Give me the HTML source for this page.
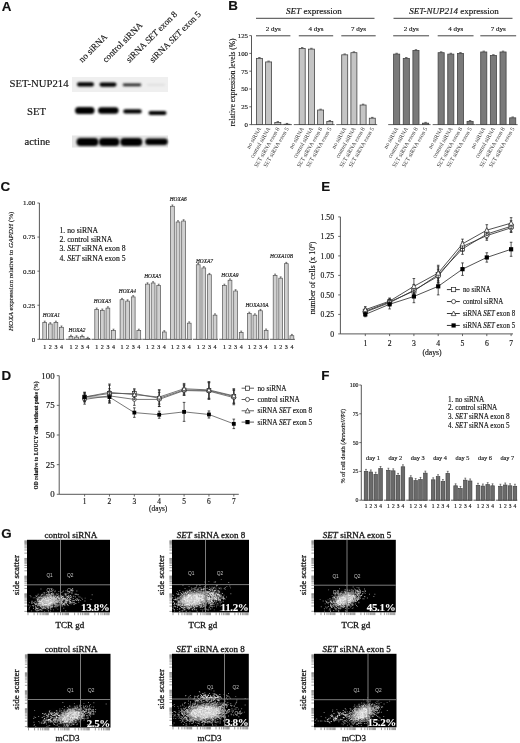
<!DOCTYPE html>
<html><head><meta charset="utf-8"><style>
html,body{margin:0;padding:0;background:#fff;}
svg{display:block;will-change:transform;filter:blur(0.3px);}
text{stroke:#1a1a1a;stroke-width:.15px;}
text.b{stroke-width:.3px;}
text.w{stroke:#fff;stroke-width:.1px;}
text.q{stroke:none;}
</style></head><body>
<svg width="520" height="743" viewBox="0 0 520 743" fill="#111">
<defs>
<filter id="bl" x="-20%" y="-80%" width="140%" height="260%"><feGaussianBlur stdDeviation="0.9"/></filter>
<filter id="cb" x="-50%" y="-50%" width="200%" height="200%"><feGaussianBlur stdDeviation="2.5"/></filter>
<filter id="db" x="-10%" y="-10%" width="120%" height="120%"><feGaussianBlur stdDeviation="0.3"/></filter>
<radialGradient id="cloud"><stop offset="0" stop-color="#e8e8e8"/><stop offset="0.5" stop-color="#b0b0b0" stop-opacity="0.8"/><stop offset="1" stop-color="#606060" stop-opacity="0"/></radialGradient>
</defs>
<rect width="520" height="743" fill="#fff"/>
<text x="1.8" y="11.1" font-size="13.4" text-anchor="start" font-family="Liberation Sans, sans-serif" font-weight="bold">A</text>
<text x="228.3" y="10.4" font-size="13.4" text-anchor="start" font-family="Liberation Sans, sans-serif" font-weight="bold">B</text>
<text x="0.6" y="191.1" font-size="13.4" text-anchor="start" font-family="Liberation Sans, sans-serif" font-weight="bold">C</text>
<text x="1.5" y="380.1" font-size="13.4" text-anchor="start" font-family="Liberation Sans, sans-serif" font-weight="bold">D</text>
<text x="321.3" y="190.5" font-size="13.4" text-anchor="start" font-family="Liberation Sans, sans-serif" font-weight="bold">E</text>
<text x="321.3" y="380.4" font-size="13.4" text-anchor="start" font-family="Liberation Sans, sans-serif" font-weight="bold">F</text>
<text x="1.2" y="538.3" font-size="13.4" text-anchor="start" font-family="Liberation Sans, sans-serif" font-weight="bold">G</text>
<text transform="translate(82.3,63) rotate(-45)" font-size="9" font-family="Liberation Serif, serif">no siRNA</text>
<text transform="translate(105.9,63) rotate(-45)" font-size="9" font-family="Liberation Serif, serif">control siRNA</text>
<text transform="translate(129.5,63) rotate(-45)" font-size="9" font-family="Liberation Serif, serif">siRNA <tspan font-style="italic">SET</tspan> exon 8</text>
<text transform="translate(153.10000000000002,63) rotate(-45)" font-size="9" font-family="Liberation Serif, serif">siRNA <tspan font-style="italic">SET</tspan> exon 5</text>
<text x="9.5" y="87.2" font-size="10.7" text-anchor="start" font-family="Liberation Serif, serif" >SET-NUP214</text>
<text x="27" y="115" font-size="10.7" text-anchor="start" font-family="Liberation Serif, serif" >SET</text>
<text x="24.6" y="145" font-size="10.7" text-anchor="start" font-family="Liberation Serif, serif" >actine</text>
<rect x="72" y="77" width="96" height="15" fill="#efefef"/>
<rect x="72" y="135.5" width="96" height="12" fill="#e4e4e4"/>
<rect x="77.0" y="82.30000000000001" width="17" height="4.2" rx="2.1" fill="#000" filter="url(#bl)"/>
<rect x="99.5" y="82.5" width="17" height="4.2" rx="2.1" fill="#000" filter="url(#bl)"/>
<rect x="122.75" y="83.39999999999999" width="18.5" height="2.8" rx="1.4" fill="#222" filter="url(#bl)"/>
<rect x="147.0" y="83.7" width="18" height="2.2" rx="1.1" fill="#e0e0e0" filter="url(#bl)"/>
<rect x="75.05" y="107.1" width="19.5" height="7" rx="3.5" fill="#000" filter="url(#bl)"/>
<rect x="98.05" y="107.2" width="20.5" height="6.6" rx="3.3" fill="#000" filter="url(#bl)"/>
<rect x="123.25" y="109.30000000000001" width="18.5" height="4.2" rx="2.1" fill="#000" filter="url(#bl)"/>
<rect x="148.5" y="111.0" width="18" height="4" rx="2.0" fill="#000" filter="url(#bl)"/>
<rect x="76.5" y="138.1" width="22" height="7.8" rx="3.9" fill="#000" filter="url(#bl)"/>
<rect x="98.95" y="138.1" width="20.5" height="7.8" rx="3.9" fill="#000" filter="url(#bl)"/>
<rect x="120.30000000000001" y="138.1" width="22" height="7.8" rx="3.9" fill="#000" filter="url(#bl)"/>
<rect x="145.25" y="138.60000000000002" width="22.5" height="6.4" rx="3.2" fill="#000" filter="url(#bl)"/>
<line x1="251.5" y1="35.599999999999994" x2="251.5" y2="124.6" stroke="#444" stroke-width="0.9"/>
<line x1="249.3" y1="124.6" x2="251.5" y2="124.6" stroke="#444" stroke-width="0.8"/>
<text x="248" y="127.0" font-size="6.8" text-anchor="end" font-family="Liberation Serif, serif" >0</text>
<line x1="249.3" y1="106.8" x2="251.5" y2="106.8" stroke="#444" stroke-width="0.8"/>
<text x="248" y="109.2" font-size="6.8" text-anchor="end" font-family="Liberation Serif, serif" >25</text>
<line x1="249.3" y1="89.0" x2="251.5" y2="89.0" stroke="#444" stroke-width="0.8"/>
<text x="248" y="91.4" font-size="6.8" text-anchor="end" font-family="Liberation Serif, serif" >50</text>
<line x1="249.3" y1="71.19999999999999" x2="251.5" y2="71.19999999999999" stroke="#444" stroke-width="0.8"/>
<text x="248" y="73.6" font-size="6.8" text-anchor="end" font-family="Liberation Serif, serif" >75</text>
<line x1="249.3" y1="53.39999999999999" x2="251.5" y2="53.39999999999999" stroke="#444" stroke-width="0.8"/>
<text x="248" y="55.79999999999999" font-size="6.8" text-anchor="end" font-family="Liberation Serif, serif" >100</text>
<line x1="249.3" y1="35.599999999999994" x2="251.5" y2="35.599999999999994" stroke="#444" stroke-width="0.8"/>
<text x="248" y="37.99999999999999" font-size="6.8" text-anchor="end" font-family="Liberation Serif, serif" >125</text>
<text transform="translate(234.5,82.4) rotate(-90)" font-size="7.4" text-anchor="middle" font-family="Liberation Serif, serif">relative expression levels (%)</text>
<text x="314" y="13.5" font-size="9" text-anchor="middle" font-family="Liberation Serif, serif" ><tspan font-style="italic">SET</tspan> expression</text>
<text x="454" y="13.5" font-size="9" text-anchor="middle" font-family="Liberation Serif, serif" ><tspan font-style="italic">SET-NUP214</tspan> expression</text>
<line x1="256" y1="18.3" x2="374.5" y2="18.3" stroke="#444" stroke-width="1"/>
<line x1="393.5" y1="18.3" x2="512.5" y2="18.3" stroke="#444" stroke-width="1"/>
<line x1="256" y1="35.8" x2="290.40000000000003" y2="35.8" stroke="#444" stroke-width="1"/>
<text x="273.20000000000005" y="30.8" font-size="7" text-anchor="middle" font-family="Liberation Serif, serif" >2 dys</text>
<line x1="251" y1="124.6" x2="291.90000000000003" y2="124.6" stroke="#555" stroke-width="0.9"/>
<rect x="256.4" y="58.384" width="6.0" height="66.216" fill="#c4c4c4" stroke="#444" stroke-width="0.8"/>
<line x1="258.2" y1="57.584" x2="260.59999999999997" y2="57.584" stroke="#333" stroke-width="0.8"/>
<text class="q" transform="translate(261.4,128.6) rotate(-60)" font-size="5.9" fill="#333" text-anchor="end" font-family="Liberation Serif, serif">no siRNA</text>
<rect x="265.59999999999997" y="61.943999999999996" width="6.0" height="62.656" fill="#c4c4c4" stroke="#444" stroke-width="0.8"/>
<line x1="267.4" y1="61.144" x2="269.79999999999995" y2="61.144" stroke="#333" stroke-width="0.8"/>
<text class="q" transform="translate(270.59999999999997,128.6) rotate(-60)" font-size="5.9" fill="#333" text-anchor="end" font-family="Liberation Serif, serif">control siRNA</text>
<rect x="274.79999999999995" y="122.464" width="6.0" height="2.1359999999999957" fill="#c4c4c4" stroke="#444" stroke-width="0.8"/>
<line x1="276.59999999999997" y1="121.664" x2="278.99999999999994" y2="121.664" stroke="#333" stroke-width="0.8"/>
<text class="q" transform="translate(279.79999999999995,128.6) rotate(-60)" font-size="5.9" fill="#333" text-anchor="end" font-family="Liberation Serif, serif">SET siRNA exon 8</text>
<rect x="284.0" y="124.244" width="6.0" height="0.35599999999999454" fill="#c4c4c4" stroke="#444" stroke-width="0.8"/>
<line x1="285.8" y1="123.444" x2="288.2" y2="123.444" stroke="#333" stroke-width="0.8"/>
<text class="q" transform="translate(289.0,128.6) rotate(-60)" font-size="5.9" fill="#333" text-anchor="end" font-family="Liberation Serif, serif">SET siRNA exon 5</text>
<line x1="298.8" y1="35.8" x2="333.20000000000005" y2="35.8" stroke="#444" stroke-width="1"/>
<text x="316.0" y="30.8" font-size="7" text-anchor="middle" font-family="Liberation Serif, serif" >4 dys</text>
<line x1="293.8" y1="124.6" x2="334.70000000000005" y2="124.6" stroke="#555" stroke-width="0.9"/>
<rect x="299.2" y="48.416" width="6.0" height="76.184" fill="#c4c4c4" stroke="#444" stroke-width="0.8"/>
<line x1="301.0" y1="47.616" x2="303.4" y2="47.616" stroke="#333" stroke-width="0.8"/>
<text class="q" transform="translate(304.2,128.6) rotate(-60)" font-size="5.9" fill="#333" text-anchor="end" font-family="Liberation Serif, serif">no siRNA</text>
<rect x="308.4" y="49.128" width="6.0" height="75.472" fill="#c4c4c4" stroke="#444" stroke-width="0.8"/>
<line x1="310.2" y1="48.328" x2="312.59999999999997" y2="48.328" stroke="#333" stroke-width="0.8"/>
<text class="q" transform="translate(313.4,128.6) rotate(-60)" font-size="5.9" fill="#333" text-anchor="end" font-family="Liberation Serif, serif">control siRNA</text>
<rect x="317.59999999999997" y="110.00399999999999" width="6.0" height="14.596000000000004" fill="#c4c4c4" stroke="#444" stroke-width="0.8"/>
<line x1="319.4" y1="109.204" x2="321.79999999999995" y2="109.204" stroke="#333" stroke-width="0.8"/>
<text class="q" transform="translate(322.59999999999997,128.6) rotate(-60)" font-size="5.9" fill="#333" text-anchor="end" font-family="Liberation Serif, serif">SET siRNA exon 8</text>
<rect x="326.8" y="121.396" width="6.0" height="3.2039999999999935" fill="#c4c4c4" stroke="#444" stroke-width="0.8"/>
<line x1="328.6" y1="120.596" x2="331.0" y2="120.596" stroke="#333" stroke-width="0.8"/>
<text class="q" transform="translate(331.8,128.6) rotate(-60)" font-size="5.9" fill="#333" text-anchor="end" font-family="Liberation Serif, serif">SET siRNA exon 5</text>
<line x1="341.3" y1="35.8" x2="375.70000000000005" y2="35.8" stroke="#444" stroke-width="1"/>
<text x="358.5" y="30.8" font-size="7" text-anchor="middle" font-family="Liberation Serif, serif" >7 dys</text>
<line x1="336.3" y1="124.6" x2="377.20000000000005" y2="124.6" stroke="#555" stroke-width="0.9"/>
<rect x="341.7" y="54.824" width="6.0" height="69.776" fill="#c4c4c4" stroke="#444" stroke-width="0.8"/>
<line x1="343.5" y1="54.024" x2="345.9" y2="54.024" stroke="#333" stroke-width="0.8"/>
<text class="q" transform="translate(346.7,128.6) rotate(-60)" font-size="5.9" fill="#333" text-anchor="end" font-family="Liberation Serif, serif">no siRNA</text>
<rect x="350.9" y="52.688" width="6.0" height="71.91199999999999" fill="#c4c4c4" stroke="#444" stroke-width="0.8"/>
<line x1="352.7" y1="51.888000000000005" x2="355.09999999999997" y2="51.888000000000005" stroke="#333" stroke-width="0.8"/>
<text class="q" transform="translate(355.9,128.6) rotate(-60)" font-size="5.9" fill="#333" text-anchor="end" font-family="Liberation Serif, serif">control siRNA</text>
<rect x="360.09999999999997" y="105.02" width="6.0" height="19.58" fill="#c4c4c4" stroke="#444" stroke-width="0.8"/>
<line x1="361.9" y1="104.22" x2="364.29999999999995" y2="104.22" stroke="#333" stroke-width="0.8"/>
<text class="q" transform="translate(365.09999999999997,128.6) rotate(-60)" font-size="5.9" fill="#333" text-anchor="end" font-family="Liberation Serif, serif">SET siRNA exon 8</text>
<rect x="369.3" y="118.192" width="6.0" height="6.408000000000001" fill="#c4c4c4" stroke="#444" stroke-width="0.8"/>
<line x1="371.1" y1="117.392" x2="373.5" y2="117.392" stroke="#333" stroke-width="0.8"/>
<text class="q" transform="translate(374.3,128.6) rotate(-60)" font-size="5.9" fill="#333" text-anchor="end" font-family="Liberation Serif, serif">SET siRNA exon 5</text>
<line x1="393.2" y1="35.8" x2="429.04999999999995" y2="35.8" stroke="#444" stroke-width="1"/>
<text x="411.125" y="30.8" font-size="7" text-anchor="middle" font-family="Liberation Serif, serif" >2 dys</text>
<line x1="388.2" y1="124.6" x2="430.54999999999995" y2="124.6" stroke="#555" stroke-width="0.9"/>
<rect x="393.59999999999997" y="54.111999999999995" width="6.1000000000000005" height="70.488" fill="#7a7a7a" stroke="#444" stroke-width="0.8"/>
<line x1="395.45" y1="53.312" x2="397.84999999999997" y2="53.312" stroke="#333" stroke-width="0.8"/>
<text class="q" transform="translate(398.65,128.6) rotate(-60)" font-size="5.9" fill="#333" text-anchor="end" font-family="Liberation Serif, serif">no siRNA</text>
<rect x="403.24999999999994" y="58.384" width="6.1000000000000005" height="66.216" fill="#7a7a7a" stroke="#444" stroke-width="0.8"/>
<line x1="405.09999999999997" y1="57.584" x2="407.49999999999994" y2="57.584" stroke="#333" stroke-width="0.8"/>
<text class="q" transform="translate(408.29999999999995,128.6) rotate(-60)" font-size="5.9" fill="#333" text-anchor="end" font-family="Liberation Serif, serif">control siRNA</text>
<rect x="412.9" y="50.55199999999999" width="6.1000000000000005" height="74.048" fill="#7a7a7a" stroke="#444" stroke-width="0.8"/>
<line x1="414.75" y1="49.751999999999995" x2="417.15" y2="49.751999999999995" stroke="#333" stroke-width="0.8"/>
<text class="q" transform="translate(417.95,128.6) rotate(-60)" font-size="5.9" fill="#333" text-anchor="end" font-family="Liberation Serif, serif">SET siRNA exon 8</text>
<rect x="422.54999999999995" y="123.17599999999999" width="6.1000000000000005" height="1.4240000000000066" fill="#7a7a7a" stroke="#444" stroke-width="0.8"/>
<line x1="424.4" y1="122.37599999999999" x2="426.79999999999995" y2="122.37599999999999" stroke="#333" stroke-width="0.8"/>
<text class="q" transform="translate(427.59999999999997,128.6) rotate(-60)" font-size="5.9" fill="#333" text-anchor="end" font-family="Liberation Serif, serif">SET siRNA exon 5</text>
<line x1="437.7" y1="35.8" x2="473.54999999999995" y2="35.8" stroke="#444" stroke-width="1"/>
<text x="455.625" y="30.8" font-size="7" text-anchor="middle" font-family="Liberation Serif, serif" >4 dys</text>
<line x1="432.7" y1="124.6" x2="475.04999999999995" y2="124.6" stroke="#555" stroke-width="0.9"/>
<rect x="438.09999999999997" y="52.688" width="6.1000000000000005" height="71.91199999999999" fill="#7a7a7a" stroke="#444" stroke-width="0.8"/>
<line x1="439.95" y1="51.888000000000005" x2="442.34999999999997" y2="51.888000000000005" stroke="#333" stroke-width="0.8"/>
<text class="q" transform="translate(443.15,128.6) rotate(-60)" font-size="5.9" fill="#333" text-anchor="end" font-family="Liberation Serif, serif">no siRNA</text>
<rect x="447.74999999999994" y="54.111999999999995" width="6.1000000000000005" height="70.488" fill="#7a7a7a" stroke="#444" stroke-width="0.8"/>
<line x1="449.59999999999997" y1="53.312" x2="451.99999999999994" y2="53.312" stroke="#333" stroke-width="0.8"/>
<text class="q" transform="translate(452.79999999999995,128.6) rotate(-60)" font-size="5.9" fill="#333" text-anchor="end" font-family="Liberation Serif, serif">control siRNA</text>
<rect x="457.4" y="53.39999999999999" width="6.1000000000000005" height="71.2" fill="#7a7a7a" stroke="#444" stroke-width="0.8"/>
<line x1="459.25" y1="52.599999999999994" x2="461.65" y2="52.599999999999994" stroke="#333" stroke-width="0.8"/>
<text class="q" transform="translate(462.45,128.6) rotate(-60)" font-size="5.9" fill="#333" text-anchor="end" font-family="Liberation Serif, serif">SET siRNA exon 8</text>
<rect x="467.04999999999995" y="121.396" width="6.1000000000000005" height="3.2039999999999935" fill="#7a7a7a" stroke="#444" stroke-width="0.8"/>
<line x1="468.9" y1="120.596" x2="471.29999999999995" y2="120.596" stroke="#333" stroke-width="0.8"/>
<text class="q" transform="translate(472.09999999999997,128.6) rotate(-60)" font-size="5.9" fill="#333" text-anchor="end" font-family="Liberation Serif, serif">SET siRNA exon 5</text>
<line x1="480.3" y1="35.8" x2="516.15" y2="35.8" stroke="#444" stroke-width="1"/>
<text x="498.225" y="30.8" font-size="7" text-anchor="middle" font-family="Liberation Serif, serif" >7 dys</text>
<line x1="475.3" y1="124.6" x2="517.65" y2="124.6" stroke="#555" stroke-width="0.9"/>
<rect x="480.7" y="51.976" width="6.1000000000000005" height="72.624" fill="#7a7a7a" stroke="#444" stroke-width="0.8"/>
<line x1="482.55" y1="51.176" x2="484.95" y2="51.176" stroke="#333" stroke-width="0.8"/>
<text class="q" transform="translate(485.75,128.6) rotate(-60)" font-size="5.9" fill="#333" text-anchor="end" font-family="Liberation Serif, serif">no siRNA</text>
<rect x="490.34999999999997" y="55.536" width="6.1000000000000005" height="69.064" fill="#7a7a7a" stroke="#444" stroke-width="0.8"/>
<line x1="492.2" y1="54.736000000000004" x2="494.59999999999997" y2="54.736000000000004" stroke="#333" stroke-width="0.8"/>
<text class="q" transform="translate(495.4,128.6) rotate(-60)" font-size="5.9" fill="#333" text-anchor="end" font-family="Liberation Serif, serif">control siRNA</text>
<rect x="500.0" y="51.976" width="6.1000000000000005" height="72.624" fill="#7a7a7a" stroke="#444" stroke-width="0.8"/>
<line x1="501.85" y1="51.176" x2="504.25" y2="51.176" stroke="#333" stroke-width="0.8"/>
<text class="q" transform="translate(505.05,128.6) rotate(-60)" font-size="5.9" fill="#333" text-anchor="end" font-family="Liberation Serif, serif">SET siRNA exon 8</text>
<rect x="509.65" y="117.836" width="6.1000000000000005" height="6.763999999999996" fill="#7a7a7a" stroke="#444" stroke-width="0.8"/>
<line x1="511.50000000000006" y1="117.036" x2="513.9000000000001" y2="117.036" stroke="#333" stroke-width="0.8"/>
<text class="q" transform="translate(514.7,128.6) rotate(-60)" font-size="5.9" fill="#333" text-anchor="end" font-family="Liberation Serif, serif">SET siRNA exon 5</text>
<line x1="39.4" y1="203.0" x2="39.4" y2="339.3" stroke="#444" stroke-width="0.9"/>
<line x1="37.4" y1="339.3" x2="39.4" y2="339.3" stroke="#444" stroke-width="0.8"/>
<text x="35.3" y="341.7" font-size="7" text-anchor="end" font-family="Liberation Serif, serif" >0</text>
<line x1="37.4" y1="305.225" x2="39.4" y2="305.225" stroke="#444" stroke-width="0.8"/>
<text x="35.3" y="307.625" font-size="7" text-anchor="end" font-family="Liberation Serif, serif" >0.25</text>
<line x1="37.4" y1="271.15" x2="39.4" y2="271.15" stroke="#444" stroke-width="0.8"/>
<text x="35.3" y="273.54999999999995" font-size="7" text-anchor="end" font-family="Liberation Serif, serif" >0.50</text>
<line x1="37.4" y1="237.075" x2="39.4" y2="237.075" stroke="#444" stroke-width="0.8"/>
<text x="35.3" y="239.475" font-size="7" text-anchor="end" font-family="Liberation Serif, serif" >0.75</text>
<line x1="37.4" y1="203.0" x2="39.4" y2="203.0" stroke="#444" stroke-width="0.8"/>
<text x="35.3" y="205.4" font-size="7" text-anchor="end" font-family="Liberation Serif, serif" >1.00</text>
<text transform="translate(12.5,271.3) rotate(-90)" font-size="7.1" text-anchor="middle" font-family="Liberation Serif, serif"><tspan font-style="italic">HOXA</tspan> expression relative to <tspan font-style="italic">GAPDH</tspan> (%)</text>
<text x="59.5" y="233.0" font-size="7.7" text-anchor="start" font-family="Liberation Serif, serif" >1. no siRNA</text>
<text x="59.5" y="242.23" font-size="7.7" text-anchor="start" font-family="Liberation Serif, serif" >2. control siRNA</text>
<text x="59.5" y="251.46" font-size="7.7" text-anchor="start" font-family="Liberation Serif, serif" >3. <tspan font-style="italic">SET</tspan> siRNA exon 8</text>
<text x="59.5" y="260.69" font-size="7.7" text-anchor="start" font-family="Liberation Serif, serif" >4. <tspan font-style="italic">SET</tspan> siRNA exon 5</text>
<line x1="39.4" y1="339.3" x2="64.5" y2="339.3" stroke="#444" stroke-width="0.9"/>
<rect x="42.8" y="322.464" width="3.8" height="16.836000000000013" fill="#d0d0d0" stroke="#555" stroke-width="0.7"/>
<line x1="44.7" y1="322.464" x2="44.7" y2="321.164" stroke="#333" stroke-width="0.6"/>
<line x1="43.75" y1="321.164" x2="45.65" y2="321.164" stroke="#333" stroke-width="0.6"/>
<text x="44.7" y="348.5" font-size="6" text-anchor="middle" font-family="Liberation Serif, serif" >1</text>
<rect x="48.4" y="323.982" width="3.8" height="15.317999999999984" fill="#d0d0d0" stroke="#555" stroke-width="0.7"/>
<line x1="50.300000000000004" y1="323.982" x2="50.300000000000004" y2="322.682" stroke="#333" stroke-width="0.6"/>
<line x1="49.35" y1="322.682" x2="51.25" y2="322.682" stroke="#333" stroke-width="0.6"/>
<text x="50.300000000000004" y="348.5" font-size="6" text-anchor="middle" font-family="Liberation Serif, serif" >2</text>
<rect x="54.0" y="322.464" width="3.8" height="16.836000000000013" fill="#d0d0d0" stroke="#555" stroke-width="0.7"/>
<line x1="55.900000000000006" y1="322.464" x2="55.900000000000006" y2="321.164" stroke="#333" stroke-width="0.6"/>
<line x1="54.95" y1="321.164" x2="56.85" y2="321.164" stroke="#333" stroke-width="0.6"/>
<text x="55.900000000000006" y="348.5" font-size="6" text-anchor="middle" font-family="Liberation Serif, serif" >3</text>
<rect x="59.599999999999994" y="327.29400000000004" width="3.8" height="12.005999999999972" fill="#d0d0d0" stroke="#555" stroke-width="0.7"/>
<line x1="61.5" y1="327.29400000000004" x2="61.5" y2="325.994" stroke="#333" stroke-width="0.6"/>
<line x1="60.55" y1="325.994" x2="62.449999999999996" y2="325.994" stroke="#333" stroke-width="0.6"/>
<text x="61.5" y="348.5" font-size="6" text-anchor="middle" font-family="Liberation Serif, serif" >4</text>
<text x="42.8" y="316.5" font-size="5.4" text-anchor="start" font-family="Liberation Serif, serif" font-style="italic">HOXA1</text>
<line x1="65.75" y1="339.3" x2="90.75" y2="339.3" stroke="#444" stroke-width="0.9"/>
<rect x="69.05" y="336.54" width="3.8" height="2.759999999999991" fill="#d0d0d0" stroke="#555" stroke-width="0.7"/>
<line x1="70.95" y1="336.54" x2="70.95" y2="335.24" stroke="#333" stroke-width="0.6"/>
<line x1="70.0" y1="335.24" x2="71.9" y2="335.24" stroke="#333" stroke-width="0.6"/>
<text x="70.95" y="348.5" font-size="6" text-anchor="middle" font-family="Liberation Serif, serif" >1</text>
<rect x="74.64999999999999" y="337.092" width="3.8" height="2.208000000000027" fill="#d0d0d0" stroke="#555" stroke-width="0.7"/>
<line x1="76.55" y1="337.092" x2="76.55" y2="335.792" stroke="#333" stroke-width="0.6"/>
<line x1="75.6" y1="335.792" x2="77.5" y2="335.792" stroke="#333" stroke-width="0.6"/>
<text x="76.55" y="348.5" font-size="6" text-anchor="middle" font-family="Liberation Serif, serif" >2</text>
<rect x="80.25" y="336.54" width="3.8" height="2.759999999999991" fill="#d0d0d0" stroke="#555" stroke-width="0.7"/>
<line x1="82.15" y1="336.54" x2="82.15" y2="335.24" stroke="#333" stroke-width="0.6"/>
<line x1="81.2" y1="335.24" x2="83.10000000000001" y2="335.24" stroke="#333" stroke-width="0.6"/>
<text x="82.15" y="348.5" font-size="6" text-anchor="middle" font-family="Liberation Serif, serif" >3</text>
<rect x="85.85" y="338.61" width="3.8" height="0.6899999999999977" fill="#d0d0d0" stroke="#555" stroke-width="0.7"/>
<line x1="87.75" y1="338.61" x2="87.75" y2="337.31" stroke="#333" stroke-width="0.6"/>
<line x1="86.8" y1="337.31" x2="88.7" y2="337.31" stroke="#333" stroke-width="0.6"/>
<text x="87.75" y="348.5" font-size="6" text-anchor="middle" font-family="Liberation Serif, serif" >4</text>
<text x="68.5" y="331.9" font-size="5.4" text-anchor="start" font-family="Liberation Serif, serif" font-style="italic">HOXA2</text>
<line x1="91.5" y1="339.3" x2="116.5" y2="339.3" stroke="#444" stroke-width="0.9"/>
<rect x="94.8" y="309.354" width="3.8" height="29.946000000000026" fill="#d0d0d0" stroke="#555" stroke-width="0.7"/>
<line x1="96.7" y1="309.354" x2="96.7" y2="308.054" stroke="#333" stroke-width="0.6"/>
<line x1="95.75" y1="308.054" x2="97.65" y2="308.054" stroke="#333" stroke-width="0.6"/>
<text x="96.7" y="348.5" font-size="6" text-anchor="middle" font-family="Liberation Serif, serif" >1</text>
<rect x="100.39999999999999" y="310.32" width="3.8" height="28.980000000000018" fill="#d0d0d0" stroke="#555" stroke-width="0.7"/>
<line x1="102.3" y1="310.32" x2="102.3" y2="309.02" stroke="#333" stroke-width="0.6"/>
<line x1="101.35" y1="309.02" x2="103.25" y2="309.02" stroke="#333" stroke-width="0.6"/>
<text x="102.3" y="348.5" font-size="6" text-anchor="middle" font-family="Liberation Serif, serif" >2</text>
<rect x="106.0" y="308.112" width="3.8" height="31.187999999999988" fill="#d0d0d0" stroke="#555" stroke-width="0.7"/>
<line x1="107.9" y1="308.112" x2="107.9" y2="306.812" stroke="#333" stroke-width="0.6"/>
<line x1="106.95" y1="306.812" x2="108.85000000000001" y2="306.812" stroke="#333" stroke-width="0.6"/>
<text x="107.9" y="348.5" font-size="6" text-anchor="middle" font-family="Liberation Serif, serif" >3</text>
<rect x="111.6" y="330.468" width="3.8" height="8.831999999999994" fill="#d0d0d0" stroke="#555" stroke-width="0.7"/>
<line x1="113.5" y1="330.468" x2="113.5" y2="329.168" stroke="#333" stroke-width="0.6"/>
<line x1="112.55" y1="329.168" x2="114.45" y2="329.168" stroke="#333" stroke-width="0.6"/>
<text x="113.5" y="348.5" font-size="6" text-anchor="middle" font-family="Liberation Serif, serif" >4</text>
<text x="93.8" y="302.7" font-size="5.4" text-anchor="start" font-family="Liberation Serif, serif" font-style="italic">HOXA3</text>
<line x1="116.8" y1="339.3" x2="141.8" y2="339.3" stroke="#444" stroke-width="0.9"/>
<rect x="120.1" y="299.694" width="3.8" height="39.605999999999995" fill="#d0d0d0" stroke="#555" stroke-width="0.7"/>
<line x1="122.0" y1="299.694" x2="122.0" y2="298.394" stroke="#333" stroke-width="0.6"/>
<line x1="121.05" y1="298.394" x2="122.95" y2="298.394" stroke="#333" stroke-width="0.6"/>
<text x="122.0" y="348.5" font-size="6" text-anchor="middle" font-family="Liberation Serif, serif" >1</text>
<rect x="125.69999999999999" y="301.074" width="3.8" height="38.226" fill="#d0d0d0" stroke="#555" stroke-width="0.7"/>
<line x1="127.6" y1="301.074" x2="127.6" y2="299.774" stroke="#333" stroke-width="0.6"/>
<line x1="126.64999999999999" y1="299.774" x2="128.54999999999998" y2="299.774" stroke="#333" stroke-width="0.6"/>
<text x="127.6" y="348.5" font-size="6" text-anchor="middle" font-family="Liberation Serif, serif" >2</text>
<rect x="131.3" y="296.934" width="3.8" height="42.365999999999985" fill="#d0d0d0" stroke="#555" stroke-width="0.7"/>
<line x1="133.2" y1="296.934" x2="133.2" y2="295.634" stroke="#333" stroke-width="0.6"/>
<line x1="132.25" y1="295.634" x2="134.15" y2="295.634" stroke="#333" stroke-width="0.6"/>
<text x="133.2" y="348.5" font-size="6" text-anchor="middle" font-family="Liberation Serif, serif" >3</text>
<rect x="136.9" y="330.468" width="3.8" height="8.831999999999994" fill="#d0d0d0" stroke="#555" stroke-width="0.7"/>
<line x1="138.79999999999998" y1="330.468" x2="138.79999999999998" y2="329.168" stroke="#333" stroke-width="0.6"/>
<line x1="137.85" y1="329.168" x2="139.75" y2="329.168" stroke="#333" stroke-width="0.6"/>
<text x="138.79999999999998" y="348.5" font-size="6" text-anchor="middle" font-family="Liberation Serif, serif" >4</text>
<text x="118.8" y="293.2" font-size="5.4" text-anchor="start" font-family="Liberation Serif, serif" font-style="italic">HOXA4</text>
<line x1="142.3" y1="339.3" x2="167.3" y2="339.3" stroke="#444" stroke-width="0.9"/>
<rect x="145.60000000000002" y="284.1" width="3.8" height="55.19999999999999" fill="#d0d0d0" stroke="#555" stroke-width="0.7"/>
<line x1="147.5" y1="284.1" x2="147.5" y2="282.8" stroke="#333" stroke-width="0.6"/>
<line x1="146.55" y1="282.8" x2="148.45000000000002" y2="282.8" stroke="#333" stroke-width="0.6"/>
<text x="147.5" y="348.5" font-size="6" text-anchor="middle" font-family="Liberation Serif, serif" >1</text>
<rect x="151.20000000000002" y="282.99600000000004" width="3.8" height="56.303999999999974" fill="#d0d0d0" stroke="#555" stroke-width="0.7"/>
<line x1="153.1" y1="282.99600000000004" x2="153.1" y2="281.696" stroke="#333" stroke-width="0.6"/>
<line x1="152.15" y1="281.696" x2="154.05" y2="281.696" stroke="#333" stroke-width="0.6"/>
<text x="153.1" y="348.5" font-size="6" text-anchor="middle" font-family="Liberation Serif, serif" >2</text>
<rect x="156.8" y="285.48" width="3.8" height="53.81999999999999" fill="#d0d0d0" stroke="#555" stroke-width="0.7"/>
<line x1="158.7" y1="285.48" x2="158.7" y2="284.18" stroke="#333" stroke-width="0.6"/>
<line x1="157.75" y1="284.18" x2="159.65" y2="284.18" stroke="#333" stroke-width="0.6"/>
<text x="158.7" y="348.5" font-size="6" text-anchor="middle" font-family="Liberation Serif, serif" >3</text>
<rect x="162.40000000000003" y="331.986" width="3.8" height="7.314000000000021" fill="#d0d0d0" stroke="#555" stroke-width="0.7"/>
<line x1="164.3" y1="331.986" x2="164.3" y2="330.686" stroke="#333" stroke-width="0.6"/>
<line x1="163.35000000000002" y1="330.686" x2="165.25000000000003" y2="330.686" stroke="#333" stroke-width="0.6"/>
<text x="164.3" y="348.5" font-size="6" text-anchor="middle" font-family="Liberation Serif, serif" >4</text>
<text x="144.2" y="277.5" font-size="5.4" text-anchor="start" font-family="Liberation Serif, serif" font-style="italic">HOXA5</text>
<line x1="167.2" y1="339.3" x2="192.2" y2="339.3" stroke="#444" stroke-width="0.9"/>
<rect x="170.5" y="206.26800000000003" width="3.8" height="133.03199999999998" fill="#d0d0d0" stroke="#555" stroke-width="0.7"/>
<line x1="172.39999999999998" y1="206.26800000000003" x2="172.39999999999998" y2="204.96800000000002" stroke="#333" stroke-width="0.6"/>
<line x1="171.45" y1="204.96800000000002" x2="173.35" y2="204.96800000000002" stroke="#333" stroke-width="0.6"/>
<text x="172.39999999999998" y="348.5" font-size="6" text-anchor="middle" font-family="Liberation Serif, serif" >1</text>
<rect x="176.1" y="222.0" width="3.8" height="117.30000000000001" fill="#d0d0d0" stroke="#555" stroke-width="0.7"/>
<line x1="177.99999999999997" y1="222.0" x2="177.99999999999997" y2="220.7" stroke="#333" stroke-width="0.6"/>
<line x1="177.04999999999998" y1="220.7" x2="178.95" y2="220.7" stroke="#333" stroke-width="0.6"/>
<text x="177.99999999999997" y="348.5" font-size="6" text-anchor="middle" font-family="Liberation Serif, serif" >2</text>
<rect x="181.7" y="221.03400000000002" width="3.8" height="118.26599999999999" fill="#d0d0d0" stroke="#555" stroke-width="0.7"/>
<line x1="183.59999999999997" y1="221.03400000000002" x2="183.59999999999997" y2="219.734" stroke="#333" stroke-width="0.6"/>
<line x1="182.64999999999998" y1="219.734" x2="184.54999999999998" y2="219.734" stroke="#333" stroke-width="0.6"/>
<text x="183.59999999999997" y="348.5" font-size="6" text-anchor="middle" font-family="Liberation Serif, serif" >3</text>
<rect x="187.3" y="323.154" width="3.8" height="16.146000000000015" fill="#d0d0d0" stroke="#555" stroke-width="0.7"/>
<line x1="189.2" y1="323.154" x2="189.2" y2="321.854" stroke="#333" stroke-width="0.6"/>
<line x1="188.25" y1="321.854" x2="190.15" y2="321.854" stroke="#333" stroke-width="0.6"/>
<text x="189.2" y="348.5" font-size="6" text-anchor="middle" font-family="Liberation Serif, serif" >4</text>
<text x="169.7" y="200.70000000000002" font-size="5.4" text-anchor="start" font-family="Liberation Serif, serif" font-style="italic">HOXA6</text>
<line x1="193" y1="339.3" x2="218" y2="339.3" stroke="#444" stroke-width="0.9"/>
<rect x="196.3" y="264.78" width="3.8" height="74.52000000000004" fill="#d0d0d0" stroke="#555" stroke-width="0.7"/>
<line x1="198.2" y1="264.78" x2="198.2" y2="263.47999999999996" stroke="#333" stroke-width="0.6"/>
<line x1="197.25" y1="263.47999999999996" x2="199.15" y2="263.47999999999996" stroke="#333" stroke-width="0.6"/>
<text x="198.2" y="348.5" font-size="6" text-anchor="middle" font-family="Liberation Serif, serif" >1</text>
<rect x="201.9" y="267.954" width="3.8" height="71.346" fill="#d0d0d0" stroke="#555" stroke-width="0.7"/>
<line x1="203.79999999999998" y1="267.954" x2="203.79999999999998" y2="266.654" stroke="#333" stroke-width="0.6"/>
<line x1="202.85" y1="266.654" x2="204.75" y2="266.654" stroke="#333" stroke-width="0.6"/>
<text x="203.79999999999998" y="348.5" font-size="6" text-anchor="middle" font-family="Liberation Serif, serif" >2</text>
<rect x="207.5" y="274.716" width="3.8" height="64.584" fill="#d0d0d0" stroke="#555" stroke-width="0.7"/>
<line x1="209.39999999999998" y1="274.716" x2="209.39999999999998" y2="273.416" stroke="#333" stroke-width="0.6"/>
<line x1="208.45" y1="273.416" x2="210.35" y2="273.416" stroke="#333" stroke-width="0.6"/>
<text x="209.39999999999998" y="348.5" font-size="6" text-anchor="middle" font-family="Liberation Serif, serif" >3</text>
<rect x="213.10000000000002" y="315.15000000000003" width="3.8" height="24.149999999999977" fill="#d0d0d0" stroke="#555" stroke-width="0.7"/>
<line x1="215.0" y1="315.15000000000003" x2="215.0" y2="313.85" stroke="#333" stroke-width="0.6"/>
<line x1="214.05" y1="313.85" x2="215.95000000000002" y2="313.85" stroke="#333" stroke-width="0.6"/>
<text x="215.0" y="348.5" font-size="6" text-anchor="middle" font-family="Liberation Serif, serif" >4</text>
<text x="195.9" y="262.59999999999997" font-size="5.4" text-anchor="start" font-family="Liberation Serif, serif" font-style="italic">HOXA7</text>
<line x1="219.2" y1="339.3" x2="244.2" y2="339.3" stroke="#444" stroke-width="0.9"/>
<rect x="222.5" y="285.48" width="3.8" height="53.81999999999999" fill="#d0d0d0" stroke="#555" stroke-width="0.7"/>
<line x1="224.39999999999998" y1="285.48" x2="224.39999999999998" y2="284.18" stroke="#333" stroke-width="0.6"/>
<line x1="223.45" y1="284.18" x2="225.35" y2="284.18" stroke="#333" stroke-width="0.6"/>
<text x="224.39999999999998" y="348.5" font-size="6" text-anchor="middle" font-family="Liberation Serif, serif" >1</text>
<rect x="228.1" y="280.236" width="3.8" height="59.06400000000002" fill="#d0d0d0" stroke="#555" stroke-width="0.7"/>
<line x1="229.99999999999997" y1="280.236" x2="229.99999999999997" y2="278.936" stroke="#333" stroke-width="0.6"/>
<line x1="229.04999999999998" y1="278.936" x2="230.95" y2="278.936" stroke="#333" stroke-width="0.6"/>
<text x="229.99999999999997" y="348.5" font-size="6" text-anchor="middle" font-family="Liberation Serif, serif" >2</text>
<rect x="233.7" y="291.0" width="3.8" height="48.30000000000001" fill="#d0d0d0" stroke="#555" stroke-width="0.7"/>
<line x1="235.59999999999997" y1="291.0" x2="235.59999999999997" y2="289.7" stroke="#333" stroke-width="0.6"/>
<line x1="234.64999999999998" y1="289.7" x2="236.54999999999998" y2="289.7" stroke="#333" stroke-width="0.6"/>
<text x="235.59999999999997" y="348.5" font-size="6" text-anchor="middle" font-family="Liberation Serif, serif" >3</text>
<rect x="239.3" y="332.40000000000003" width="3.8" height="6.899999999999977" fill="#d0d0d0" stroke="#555" stroke-width="0.7"/>
<line x1="241.2" y1="332.40000000000003" x2="241.2" y2="331.1" stroke="#333" stroke-width="0.6"/>
<line x1="240.25" y1="331.1" x2="242.15" y2="331.1" stroke="#333" stroke-width="0.6"/>
<text x="241.2" y="348.5" font-size="6" text-anchor="middle" font-family="Liberation Serif, serif" >4</text>
<text x="221.3" y="276.7" font-size="5.4" text-anchor="start" font-family="Liberation Serif, serif" font-style="italic">HOXA9</text>
<line x1="244.1" y1="339.3" x2="269.1" y2="339.3" stroke="#444" stroke-width="0.9"/>
<rect x="247.4" y="313.494" width="3.8" height="25.805999999999983" fill="#d0d0d0" stroke="#555" stroke-width="0.7"/>
<line x1="249.29999999999998" y1="313.494" x2="249.29999999999998" y2="312.194" stroke="#333" stroke-width="0.6"/>
<line x1="248.35" y1="312.194" x2="250.25" y2="312.194" stroke="#333" stroke-width="0.6"/>
<text x="249.29999999999998" y="348.5" font-size="6" text-anchor="middle" font-family="Liberation Serif, serif" >1</text>
<rect x="253.0" y="315.15000000000003" width="3.8" height="24.149999999999977" fill="#d0d0d0" stroke="#555" stroke-width="0.7"/>
<line x1="254.89999999999998" y1="315.15000000000003" x2="254.89999999999998" y2="313.85" stroke="#333" stroke-width="0.6"/>
<line x1="253.95" y1="313.85" x2="255.85" y2="313.85" stroke="#333" stroke-width="0.6"/>
<text x="254.89999999999998" y="348.5" font-size="6" text-anchor="middle" font-family="Liberation Serif, serif" >2</text>
<rect x="258.6" y="310.73400000000004" width="3.8" height="28.565999999999974" fill="#d0d0d0" stroke="#555" stroke-width="0.7"/>
<line x1="260.5" y1="310.73400000000004" x2="260.5" y2="309.434" stroke="#333" stroke-width="0.6"/>
<line x1="259.55" y1="309.434" x2="261.45" y2="309.434" stroke="#333" stroke-width="0.6"/>
<text x="260.5" y="348.5" font-size="6" text-anchor="middle" font-family="Liberation Serif, serif" >3</text>
<rect x="264.2" y="330.33" width="3.8" height="8.970000000000027" fill="#d0d0d0" stroke="#555" stroke-width="0.7"/>
<line x1="266.09999999999997" y1="330.33" x2="266.09999999999997" y2="329.03" stroke="#333" stroke-width="0.6"/>
<line x1="265.15" y1="329.03" x2="267.04999999999995" y2="329.03" stroke="#333" stroke-width="0.6"/>
<text x="266.09999999999997" y="348.5" font-size="6" text-anchor="middle" font-family="Liberation Serif, serif" >4</text>
<text x="245.4" y="307.0" font-size="5.4" text-anchor="start" font-family="Liberation Serif, serif" font-style="italic">HOXA10A</text>
<line x1="269.9" y1="339.3" x2="294.9" y2="339.3" stroke="#444" stroke-width="0.9"/>
<rect x="273.2" y="275.406" width="3.8" height="63.894000000000005" fill="#d0d0d0" stroke="#555" stroke-width="0.7"/>
<line x1="275.09999999999997" y1="275.406" x2="275.09999999999997" y2="274.106" stroke="#333" stroke-width="0.6"/>
<line x1="274.15" y1="274.106" x2="276.04999999999995" y2="274.106" stroke="#333" stroke-width="0.6"/>
<text x="275.09999999999997" y="348.5" font-size="6" text-anchor="middle" font-family="Liberation Serif, serif" >1</text>
<rect x="278.8" y="278.166" width="3.8" height="61.134000000000015" fill="#d0d0d0" stroke="#555" stroke-width="0.7"/>
<line x1="280.7" y1="278.166" x2="280.7" y2="276.866" stroke="#333" stroke-width="0.6"/>
<line x1="279.75" y1="276.866" x2="281.65" y2="276.866" stroke="#333" stroke-width="0.6"/>
<text x="280.7" y="348.5" font-size="6" text-anchor="middle" font-family="Liberation Serif, serif" >2</text>
<rect x="284.4" y="263.676" width="3.8" height="75.62400000000002" fill="#d0d0d0" stroke="#555" stroke-width="0.7"/>
<line x1="286.29999999999995" y1="263.676" x2="286.29999999999995" y2="262.376" stroke="#333" stroke-width="0.6"/>
<line x1="285.34999999999997" y1="262.376" x2="287.24999999999994" y2="262.376" stroke="#333" stroke-width="0.6"/>
<text x="286.29999999999995" y="348.5" font-size="6" text-anchor="middle" font-family="Liberation Serif, serif" >3</text>
<rect x="290.0" y="335.712" width="3.8" height="3.5880000000000223" fill="#d0d0d0" stroke="#555" stroke-width="0.7"/>
<line x1="291.9" y1="335.712" x2="291.9" y2="334.412" stroke="#333" stroke-width="0.6"/>
<line x1="290.95" y1="334.412" x2="292.84999999999997" y2="334.412" stroke="#333" stroke-width="0.6"/>
<text x="291.9" y="348.5" font-size="6" text-anchor="middle" font-family="Liberation Serif, serif" >4</text>
<text x="270" y="257.7" font-size="5.4" text-anchor="start" font-family="Liberation Serif, serif" font-style="italic">HOXA10B</text>
<line x1="340.4" y1="216.89999999999998" x2="340.4" y2="333.9" stroke="#444" stroke-width="0.9"/>
<line x1="340.4" y1="333.9" x2="513" y2="333.9" stroke="#444" stroke-width="0.9"/>
<line x1="338.2" y1="333.9" x2="340.4" y2="333.9" stroke="#444" stroke-width="0.8"/>
<text x="334" y="336.5" font-size="7.7" text-anchor="end" font-family="Liberation Serif, serif" >0</text>
<line x1="338.2" y1="314.4" x2="340.4" y2="314.4" stroke="#444" stroke-width="0.8"/>
<text x="334" y="317.0" font-size="7.7" text-anchor="end" font-family="Liberation Serif, serif" >0.25</text>
<line x1="338.2" y1="294.9" x2="340.4" y2="294.9" stroke="#444" stroke-width="0.8"/>
<text x="334" y="297.5" font-size="7.7" text-anchor="end" font-family="Liberation Serif, serif" >0.50</text>
<line x1="338.2" y1="275.4" x2="340.4" y2="275.4" stroke="#444" stroke-width="0.8"/>
<text x="334" y="278.0" font-size="7.7" text-anchor="end" font-family="Liberation Serif, serif" >0.75</text>
<line x1="338.2" y1="255.89999999999998" x2="340.4" y2="255.89999999999998" stroke="#444" stroke-width="0.8"/>
<text x="334" y="258.5" font-size="7.7" text-anchor="end" font-family="Liberation Serif, serif" >1.00</text>
<line x1="338.2" y1="236.39999999999998" x2="340.4" y2="236.39999999999998" stroke="#444" stroke-width="0.8"/>
<text x="334" y="238.99999999999997" font-size="7.7" text-anchor="end" font-family="Liberation Serif, serif" >1.25</text>
<line x1="338.2" y1="216.89999999999998" x2="340.4" y2="216.89999999999998" stroke="#444" stroke-width="0.8"/>
<text x="334" y="219.49999999999997" font-size="7.7" text-anchor="end" font-family="Liberation Serif, serif" >1.50</text>
<line x1="365.3" y1="333.9" x2="365.3" y2="336.09999999999997" stroke="#444" stroke-width="0.8"/>
<text x="365.3" y="345.6" font-size="7.7" text-anchor="middle" font-family="Liberation Serif, serif" >1</text>
<line x1="389.6" y1="333.9" x2="389.6" y2="336.09999999999997" stroke="#444" stroke-width="0.8"/>
<text x="389.6" y="345.6" font-size="7.7" text-anchor="middle" font-family="Liberation Serif, serif" >2</text>
<line x1="413.90000000000003" y1="333.9" x2="413.90000000000003" y2="336.09999999999997" stroke="#444" stroke-width="0.8"/>
<text x="413.90000000000003" y="345.6" font-size="7.7" text-anchor="middle" font-family="Liberation Serif, serif" >3</text>
<line x1="438.20000000000005" y1="333.9" x2="438.20000000000005" y2="336.09999999999997" stroke="#444" stroke-width="0.8"/>
<text x="438.20000000000005" y="345.6" font-size="7.7" text-anchor="middle" font-family="Liberation Serif, serif" >4</text>
<line x1="462.5" y1="333.9" x2="462.5" y2="336.09999999999997" stroke="#444" stroke-width="0.8"/>
<text x="462.5" y="345.6" font-size="7.7" text-anchor="middle" font-family="Liberation Serif, serif" >5</text>
<line x1="486.8" y1="333.9" x2="486.8" y2="336.09999999999997" stroke="#444" stroke-width="0.8"/>
<text x="486.8" y="345.6" font-size="7.7" text-anchor="middle" font-family="Liberation Serif, serif" >6</text>
<line x1="511.1" y1="333.9" x2="511.1" y2="336.09999999999997" stroke="#444" stroke-width="0.8"/>
<text x="511.1" y="345.6" font-size="7.7" text-anchor="middle" font-family="Liberation Serif, serif" >7</text>
<text x="432" y="355" font-size="7.7" text-anchor="middle" font-family="Liberation Serif, serif" >(days)</text>
<text transform="translate(314.5,278) rotate(-90)" font-size="7.9" text-anchor="middle" font-family="Liberation Serif, serif">number of cells (x 10<tspan font-size="5" dy="-3">6</tspan><tspan dy="3">)</tspan></text>
<polyline points="365.3,311.28 389.6,301.91999999999996 413.90000000000003,291.0 438.20000000000005,274.62 462.5,248.87999999999997 486.8,234.05999999999997 511.1,226.26" fill="none" stroke="#333" stroke-width="0.85"/>
<path d="M365.3 308.15999999999997V314.4M364.0 308.15999999999997H366.6M364.0 314.4H366.6" stroke="#222" stroke-width="0.75" fill="none"/>
<path d="M389.6 298.79999999999995V305.03999999999996M388.3 298.79999999999995H390.90000000000003M388.3 305.03999999999996H390.90000000000003" stroke="#222" stroke-width="0.75" fill="none"/>
<path d="M413.90000000000003 284.76V297.23999999999995M412.6 284.76H415.20000000000005M412.6 297.23999999999995H415.20000000000005" stroke="#222" stroke-width="0.75" fill="none"/>
<path d="M438.20000000000005 266.82V282.41999999999996M436.90000000000003 266.82H439.50000000000006M436.90000000000003 282.41999999999996H439.50000000000006" stroke="#222" stroke-width="0.75" fill="none"/>
<path d="M462.5 243.41999999999996V254.33999999999997M461.2 243.41999999999996H463.8M461.2 254.33999999999997H463.8" stroke="#222" stroke-width="0.75" fill="none"/>
<path d="M486.8 229.37999999999997V238.73999999999998M485.5 229.37999999999997H488.1M485.5 238.73999999999998H488.1" stroke="#222" stroke-width="0.75" fill="none"/>
<path d="M511.1 220.79999999999998V231.71999999999997M509.8 220.79999999999998H512.4M509.8 231.71999999999997H512.4" stroke="#222" stroke-width="0.75" fill="none"/>
<rect x="363.2" y="309.17999999999995" width="4.2" height="4.2" fill="#fff" stroke="#222" stroke-width="0.7"/>
<rect x="387.5" y="299.81999999999994" width="4.2" height="4.2" fill="#fff" stroke="#222" stroke-width="0.7"/>
<rect x="411.8" y="288.9" width="4.2" height="4.2" fill="#fff" stroke="#222" stroke-width="0.7"/>
<rect x="436.1" y="272.52" width="4.2" height="4.2" fill="#fff" stroke="#222" stroke-width="0.7"/>
<rect x="460.4" y="246.77999999999997" width="4.2" height="4.2" fill="#fff" stroke="#222" stroke-width="0.7"/>
<rect x="484.7" y="231.95999999999998" width="4.2" height="4.2" fill="#fff" stroke="#222" stroke-width="0.7"/>
<rect x="509.0" y="224.16" width="4.2" height="4.2" fill="#fff" stroke="#222" stroke-width="0.7"/>
<polyline points="365.3,312.05999999999995 389.6,302.7 413.90000000000003,290.21999999999997 438.20000000000005,276.17999999999995 462.5,246.53999999999996 486.8,235.61999999999998 511.1,227.81999999999996" fill="none" stroke="#333" stroke-width="0.85"/>
<path d="M365.3 308.94V315.17999999999995M364.0 308.94H366.6M364.0 315.17999999999995H366.6" stroke="#222" stroke-width="0.75" fill="none"/>
<path d="M389.6 299.58V305.82M388.3 299.58H390.90000000000003M388.3 305.82H390.90000000000003" stroke="#222" stroke-width="0.75" fill="none"/>
<path d="M413.90000000000003 284.76V295.67999999999995M412.6 284.76H415.20000000000005M412.6 295.67999999999995H415.20000000000005" stroke="#222" stroke-width="0.75" fill="none"/>
<path d="M438.20000000000005 269.15999999999997V283.2M436.90000000000003 269.15999999999997H439.50000000000006M436.90000000000003 283.2H439.50000000000006" stroke="#222" stroke-width="0.75" fill="none"/>
<path d="M462.5 241.85999999999996V251.21999999999997M461.2 241.85999999999996H463.8M461.2 251.21999999999997H463.8" stroke="#222" stroke-width="0.75" fill="none"/>
<path d="M486.8 230.93999999999997V240.29999999999998M485.5 230.93999999999997H488.1M485.5 240.29999999999998H488.1" stroke="#222" stroke-width="0.75" fill="none"/>
<path d="M511.1 223.14V232.49999999999997M509.8 223.14H512.4M509.8 232.49999999999997H512.4" stroke="#222" stroke-width="0.75" fill="none"/>
<circle cx="365.3" cy="312.05999999999995" r="2.1" fill="#fff" stroke="#222" stroke-width="0.7"/>
<circle cx="389.6" cy="302.7" r="2.1" fill="#fff" stroke="#222" stroke-width="0.7"/>
<circle cx="413.90000000000003" cy="290.21999999999997" r="2.1" fill="#fff" stroke="#222" stroke-width="0.7"/>
<circle cx="438.20000000000005" cy="276.17999999999995" r="2.1" fill="#fff" stroke="#222" stroke-width="0.7"/>
<circle cx="462.5" cy="246.53999999999996" r="2.1" fill="#fff" stroke="#222" stroke-width="0.7"/>
<circle cx="486.8" cy="235.61999999999998" r="2.1" fill="#fff" stroke="#222" stroke-width="0.7"/>
<circle cx="511.1" cy="227.81999999999996" r="2.1" fill="#fff" stroke="#222" stroke-width="0.7"/>
<polyline points="365.3,309.71999999999997 389.6,301.14 413.90000000000003,286.32 438.20000000000005,273.05999999999995 462.5,243.80999999999997 486.8,230.15999999999997 511.1,223.14" fill="none" stroke="#333" stroke-width="0.85"/>
<path d="M365.3 306.59999999999997V312.84M364.0 306.59999999999997H366.6M364.0 312.84H366.6" stroke="#222" stroke-width="0.75" fill="none"/>
<path d="M389.6 298.02V304.26M388.3 298.02H390.90000000000003M388.3 304.26H390.90000000000003" stroke="#222" stroke-width="0.75" fill="none"/>
<path d="M413.90000000000003 278.52V294.12M412.6 278.52H415.20000000000005M412.6 294.12H415.20000000000005" stroke="#222" stroke-width="0.75" fill="none"/>
<path d="M438.20000000000005 265.26V280.85999999999996M436.90000000000003 265.26H439.50000000000006M436.90000000000003 280.85999999999996H439.50000000000006" stroke="#222" stroke-width="0.75" fill="none"/>
<path d="M462.5 239.12999999999997V248.48999999999998M461.2 239.12999999999997H463.8M461.2 248.48999999999998H463.8" stroke="#222" stroke-width="0.75" fill="none"/>
<path d="M486.8 224.69999999999996V235.61999999999998M485.5 224.69999999999996H488.1M485.5 235.61999999999998H488.1" stroke="#222" stroke-width="0.75" fill="none"/>
<path d="M511.1 217.67999999999998V228.6M509.8 217.67999999999998H512.4M509.8 228.6H512.4" stroke="#222" stroke-width="0.75" fill="none"/>
<path d="M365.3 307.21999999999997L367.70000000000005 311.82L362.9 311.82Z" fill="#fff" stroke="#222" stroke-width="0.7"/>
<path d="M389.6 298.64L392.00000000000006 303.24L387.2 303.24Z" fill="#fff" stroke="#222" stroke-width="0.7"/>
<path d="M413.90000000000003 283.82L416.30000000000007 288.42L411.5 288.42Z" fill="#fff" stroke="#222" stroke-width="0.7"/>
<path d="M438.20000000000005 270.55999999999995L440.6000000000001 275.15999999999997L435.8 275.15999999999997Z" fill="#fff" stroke="#222" stroke-width="0.7"/>
<path d="M462.5 241.30999999999997L464.90000000000003 245.90999999999997L460.09999999999997 245.90999999999997Z" fill="#fff" stroke="#222" stroke-width="0.7"/>
<path d="M486.8 227.65999999999997L489.20000000000005 232.25999999999996L484.4 232.25999999999996Z" fill="#fff" stroke="#222" stroke-width="0.7"/>
<path d="M511.1 220.64L513.5 225.23999999999998L508.7 225.23999999999998Z" fill="#fff" stroke="#222" stroke-width="0.7"/>
<polyline points="365.3,314.4 389.6,304.26 413.90000000000003,296.46 438.20000000000005,286.32 462.5,269.15999999999997 486.8,257.46 511.1,249.26999999999998" fill="none" stroke="#333" stroke-width="0.85"/>
<path d="M365.3 312.05999999999995V316.73999999999995M364.0 312.05999999999995H366.6M364.0 316.73999999999995H366.6" stroke="#222" stroke-width="0.75" fill="none"/>
<path d="M389.6 299.58V308.94M388.3 299.58H390.90000000000003M388.3 308.94H390.90000000000003" stroke="#222" stroke-width="0.75" fill="none"/>
<path d="M413.90000000000003 290.21999999999997V302.7M412.6 290.21999999999997H415.20000000000005M412.6 302.7H415.20000000000005" stroke="#222" stroke-width="0.75" fill="none"/>
<path d="M438.20000000000005 277.74V294.9M436.90000000000003 277.74H439.50000000000006M436.90000000000003 294.9H439.50000000000006" stroke="#222" stroke-width="0.75" fill="none"/>
<path d="M462.5 262.91999999999996V275.4M461.2 262.91999999999996H463.8M461.2 275.4H463.8" stroke="#222" stroke-width="0.75" fill="none"/>
<path d="M486.8 252.77999999999997V262.14M485.5 252.77999999999997H488.1M485.5 262.14H488.1" stroke="#222" stroke-width="0.75" fill="none"/>
<path d="M511.1 242.24999999999997V256.28999999999996M509.8 242.24999999999997H512.4M509.8 256.28999999999996H512.4" stroke="#222" stroke-width="0.75" fill="none"/>
<rect x="363.2" y="312.29999999999995" width="4.2" height="4.2" fill="#000"/>
<rect x="387.5" y="302.15999999999997" width="4.2" height="4.2" fill="#000"/>
<rect x="411.8" y="294.35999999999996" width="4.2" height="4.2" fill="#000"/>
<rect x="436.1" y="284.21999999999997" width="4.2" height="4.2" fill="#000"/>
<rect x="460.4" y="267.05999999999995" width="4.2" height="4.2" fill="#000"/>
<rect x="484.7" y="255.35999999999999" width="4.2" height="4.2" fill="#000"/>
<rect x="509.0" y="247.17" width="4.2" height="4.2" fill="#000"/>
<line x1="446.9" y1="289.6" x2="459.8" y2="289.6" stroke="#222" stroke-width="0.9"/>
<rect x="451.5" y="287.5" width="4.2" height="4.2" fill="#fff" stroke="#222" stroke-width="0.7"/>
<text transform="translate(462.9,292.20000000000005) scale(0.92,1)" font-size="7.5" text-anchor="start" font-family="Liberation Serif, serif" >no siRNA</text>
<line x1="446.9" y1="301.55" x2="459.8" y2="301.55" stroke="#222" stroke-width="0.9"/>
<circle cx="453.6" cy="301.55" r="2.1" fill="#fff" stroke="#222" stroke-width="0.7"/>
<text transform="translate(462.9,304.15000000000003) scale(0.92,1)" font-size="7.5" text-anchor="start" font-family="Liberation Serif, serif" >control siRNA</text>
<line x1="446.9" y1="313.5" x2="459.8" y2="313.5" stroke="#222" stroke-width="0.9"/>
<path d="M453.6 311.0L456.00000000000006 315.6L451.2 315.6Z" fill="#fff" stroke="#222" stroke-width="0.7"/>
<text transform="translate(462.9,316.1) scale(0.92,1)" font-size="7.5" text-anchor="start" font-family="Liberation Serif, serif" >siRNA <tspan font-style="italic">SET</tspan> exon 8</text>
<line x1="446.9" y1="325.45000000000005" x2="459.8" y2="325.45000000000005" stroke="#222" stroke-width="0.9"/>
<rect x="451.5" y="323.35" width="4.2" height="4.2" fill="#000"/>
<text transform="translate(462.9,328.05000000000007) scale(0.92,1)" font-size="7.5" text-anchor="start" font-family="Liberation Serif, serif" >siRNA <tspan font-style="italic">SET</tspan> exon 5</text>
<line x1="59.2" y1="375.70000000000005" x2="59.2" y2="494.3" stroke="#444" stroke-width="0.9"/>
<line x1="59.2" y1="494.3" x2="238.8" y2="494.3" stroke="#444" stroke-width="0.9"/>
<line x1="56.8" y1="494.3" x2="59.2" y2="494.3" stroke="#444" stroke-width="0.8"/>
<text x="54.6" y="497.3" font-size="8.9" text-anchor="end" font-family="Liberation Serif, serif" >0</text>
<line x1="56.8" y1="464.65000000000003" x2="59.2" y2="464.65000000000003" stroke="#444" stroke-width="0.8"/>
<text x="54.6" y="467.65000000000003" font-size="8.9" text-anchor="end" font-family="Liberation Serif, serif" >25</text>
<line x1="56.8" y1="435.0" x2="59.2" y2="435.0" stroke="#444" stroke-width="0.8"/>
<text x="54.6" y="438.0" font-size="8.9" text-anchor="end" font-family="Liberation Serif, serif" >50</text>
<line x1="56.8" y1="405.35" x2="59.2" y2="405.35" stroke="#444" stroke-width="0.8"/>
<text x="54.6" y="408.35" font-size="8.9" text-anchor="end" font-family="Liberation Serif, serif" >75</text>
<line x1="56.8" y1="375.70000000000005" x2="59.2" y2="375.70000000000005" stroke="#444" stroke-width="0.8"/>
<text x="54.6" y="378.70000000000005" font-size="8.9" text-anchor="end" font-family="Liberation Serif, serif" >100</text>
<line x1="84.6" y1="494.3" x2="84.6" y2="496.5" stroke="#444" stroke-width="0.8"/>
<text x="84.6" y="503.9" font-size="7.4" text-anchor="middle" font-family="Liberation Serif, serif" >1</text>
<line x1="109.47" y1="494.3" x2="109.47" y2="496.5" stroke="#444" stroke-width="0.8"/>
<text x="109.47" y="503.9" font-size="7.4" text-anchor="middle" font-family="Liberation Serif, serif" >2</text>
<line x1="134.34" y1="494.3" x2="134.34" y2="496.5" stroke="#444" stroke-width="0.8"/>
<text x="134.34" y="503.9" font-size="7.4" text-anchor="middle" font-family="Liberation Serif, serif" >3</text>
<line x1="159.20999999999998" y1="494.3" x2="159.20999999999998" y2="496.5" stroke="#444" stroke-width="0.8"/>
<text x="159.20999999999998" y="503.9" font-size="7.4" text-anchor="middle" font-family="Liberation Serif, serif" >4</text>
<line x1="184.07999999999998" y1="494.3" x2="184.07999999999998" y2="496.5" stroke="#444" stroke-width="0.8"/>
<text x="184.07999999999998" y="503.9" font-size="7.4" text-anchor="middle" font-family="Liberation Serif, serif" >5</text>
<line x1="208.95" y1="494.3" x2="208.95" y2="496.5" stroke="#444" stroke-width="0.8"/>
<text x="208.95" y="503.9" font-size="7.4" text-anchor="middle" font-family="Liberation Serif, serif" >6</text>
<line x1="233.82" y1="494.3" x2="233.82" y2="496.5" stroke="#444" stroke-width="0.8"/>
<text x="233.82" y="503.9" font-size="7.4" text-anchor="middle" font-family="Liberation Serif, serif" >7</text>
<text x="158.2" y="510.6" font-size="7.3" text-anchor="middle" font-family="Liberation Serif, serif" >(days)</text>
<text transform="translate(38.3,435.5) rotate(-90)" font-size="5.45" font-weight="bold" text-anchor="middle" font-family="Liberation Serif, serif">OD relative to LOUCY cells without pulse (%)</text>
<polyline points="84.6,397.048 109.47,393.49 134.34,393.49 159.20999999999998,398.23400000000004 184.07999999999998,389.932 208.95,390.52500000000003 233.82,396.45500000000004" fill="none" stroke="#555" stroke-width="0.8"/>
<path d="M84.6 392.30400000000003V401.79200000000003M83.3 392.30400000000003H85.89999999999999M83.3 401.79200000000003H85.89999999999999" stroke="#222" stroke-width="0.75" fill="none"/>
<path d="M109.47 385.188V401.79200000000003M108.17 385.188H110.77M108.17 401.79200000000003H110.77" stroke="#222" stroke-width="0.75" fill="none"/>
<path d="M134.34 388.746V398.23400000000004M133.04 388.746H135.64000000000001M133.04 398.23400000000004H135.64000000000001" stroke="#222" stroke-width="0.75" fill="none"/>
<path d="M159.20999999999998 389.932V406.536M157.90999999999997 389.932H160.51M157.90999999999997 406.536H160.51" stroke="#222" stroke-width="0.75" fill="none"/>
<path d="M184.07999999999998 384.595V395.269M182.77999999999997 384.595H185.38M182.77999999999997 395.269H185.38" stroke="#222" stroke-width="0.75" fill="none"/>
<path d="M208.95 382.223V398.827M207.64999999999998 382.223H210.25M207.64999999999998 398.827H210.25" stroke="#222" stroke-width="0.75" fill="none"/>
<path d="M233.82 389.339V403.571M232.51999999999998 389.339H235.12M232.51999999999998 403.571H235.12" stroke="#222" stroke-width="0.75" fill="none"/>
<rect x="82.69999999999999" y="395.148" width="3.8" height="3.8" fill="#fff" stroke="#222" stroke-width="0.7"/>
<rect x="107.57" y="391.59000000000003" width="3.8" height="3.8" fill="#fff" stroke="#222" stroke-width="0.7"/>
<rect x="132.44" y="391.59000000000003" width="3.8" height="3.8" fill="#fff" stroke="#222" stroke-width="0.7"/>
<rect x="157.30999999999997" y="396.33400000000006" width="3.8" height="3.8" fill="#fff" stroke="#222" stroke-width="0.7"/>
<rect x="182.17999999999998" y="388.03200000000004" width="3.8" height="3.8" fill="#fff" stroke="#222" stroke-width="0.7"/>
<rect x="207.04999999999998" y="388.62500000000006" width="3.8" height="3.8" fill="#fff" stroke="#222" stroke-width="0.7"/>
<rect x="231.92" y="394.55500000000006" width="3.8" height="3.8" fill="#fff" stroke="#222" stroke-width="0.7"/>
<polyline points="84.6,399.42 109.47,395.862 134.34,399.42 159.20999999999998,399.42 184.07999999999998,390.52500000000003 208.95,391.11800000000005 233.82,397.641" fill="none" stroke="#555" stroke-width="0.8"/>
<path d="M84.6 394.67600000000004V404.164M83.3 394.67600000000004H85.89999999999999M83.3 404.164H85.89999999999999" stroke="#222" stroke-width="0.75" fill="none"/>
<path d="M109.47 388.746V402.978M108.17 388.746H110.77M108.17 402.978H110.77" stroke="#222" stroke-width="0.75" fill="none"/>
<path d="M134.34 393.49V405.35M133.04 393.49H135.64000000000001M133.04 405.35H135.64000000000001" stroke="#222" stroke-width="0.75" fill="none"/>
<path d="M159.20999999999998 392.30400000000003V406.536M157.90999999999997 392.30400000000003H160.51M157.90999999999997 406.536H160.51" stroke="#222" stroke-width="0.75" fill="none"/>
<path d="M184.07999999999998 385.781V395.269M182.77999999999997 385.781H185.38M182.77999999999997 395.269H185.38" stroke="#222" stroke-width="0.75" fill="none"/>
<path d="M208.95 382.81600000000003V399.42M207.64999999999998 382.81600000000003H210.25M207.64999999999998 399.42H210.25" stroke="#222" stroke-width="0.75" fill="none"/>
<path d="M233.82 390.52500000000003V404.757M232.51999999999998 390.52500000000003H235.12M232.51999999999998 404.757H235.12" stroke="#222" stroke-width="0.75" fill="none"/>
<circle cx="84.6" cy="399.42" r="1.9" fill="#fff" stroke="#222" stroke-width="0.7"/>
<circle cx="109.47" cy="395.862" r="1.9" fill="#fff" stroke="#222" stroke-width="0.7"/>
<circle cx="134.34" cy="399.42" r="1.9" fill="#fff" stroke="#222" stroke-width="0.7"/>
<circle cx="159.20999999999998" cy="399.42" r="1.9" fill="#fff" stroke="#222" stroke-width="0.7"/>
<circle cx="184.07999999999998" cy="390.52500000000003" r="1.9" fill="#fff" stroke="#222" stroke-width="0.7"/>
<circle cx="208.95" cy="391.11800000000005" r="1.9" fill="#fff" stroke="#222" stroke-width="0.7"/>
<circle cx="233.82" cy="397.641" r="1.9" fill="#fff" stroke="#222" stroke-width="0.7"/>
<polyline points="84.6,397.048 109.47,392.30400000000003 134.34,394.67600000000004 159.20999999999998,397.048 184.07999999999998,388.746 208.95,389.932 233.82,395.862" fill="none" stroke="#555" stroke-width="0.8"/>
<path d="M84.6 392.30400000000003V401.79200000000003M83.3 392.30400000000003H85.89999999999999M83.3 401.79200000000003H85.89999999999999" stroke="#222" stroke-width="0.75" fill="none"/>
<path d="M109.47 384.002V400.606M108.17 384.002H110.77M108.17 400.606H110.77" stroke="#222" stroke-width="0.75" fill="none"/>
<path d="M134.34 389.932V399.42M133.04 389.932H135.64000000000001M133.04 399.42H135.64000000000001" stroke="#222" stroke-width="0.75" fill="none"/>
<path d="M159.20999999999998 389.932V404.164M157.90999999999997 389.932H160.51M157.90999999999997 404.164H160.51" stroke="#222" stroke-width="0.75" fill="none"/>
<path d="M184.07999999999998 383.409V394.083M182.77999999999997 383.409H185.38M182.77999999999997 394.083H185.38" stroke="#222" stroke-width="0.75" fill="none"/>
<path d="M208.95 381.63V398.23400000000004M207.64999999999998 381.63H210.25M207.64999999999998 398.23400000000004H210.25" stroke="#222" stroke-width="0.75" fill="none"/>
<path d="M233.82 388.746V402.978M232.51999999999998 388.746H235.12M232.51999999999998 402.978H235.12" stroke="#222" stroke-width="0.75" fill="none"/>
<path d="M84.6 394.74800000000005L86.8 398.948L82.39999999999999 398.948Z" fill="#fff" stroke="#222" stroke-width="0.7"/>
<path d="M109.47 390.0040000000001L111.67 394.204L107.27 394.204Z" fill="#fff" stroke="#222" stroke-width="0.7"/>
<path d="M134.34 392.3760000000001L136.54000000000002 396.576L132.14 396.576Z" fill="#fff" stroke="#222" stroke-width="0.7"/>
<path d="M159.20999999999998 394.74800000000005L161.41 398.948L157.00999999999996 398.948Z" fill="#fff" stroke="#222" stroke-width="0.7"/>
<path d="M184.07999999999998 386.446L186.28 390.64599999999996L181.87999999999997 390.64599999999996Z" fill="#fff" stroke="#222" stroke-width="0.7"/>
<path d="M208.95 387.63200000000006L211.15 391.832L206.74999999999997 391.832Z" fill="#fff" stroke="#222" stroke-width="0.7"/>
<path d="M233.82 393.56200000000007L236.02 397.762L231.61999999999998 397.762Z" fill="#fff" stroke="#222" stroke-width="0.7"/>
<polyline points="84.6,397.048 109.47,397.048 134.34,412.5846 159.20999999999998,414.7194 184.07999999999998,411.87300000000005 208.95,414.48220000000003 233.82,423.8516" fill="none" stroke="#555" stroke-width="0.8"/>
<path d="M84.6 393.49V400.606M83.3 393.49H85.89999999999999M83.3 400.606H85.89999999999999" stroke="#222" stroke-width="0.75" fill="none"/>
<path d="M109.47 391.11800000000005V402.978M108.17 391.11800000000005H110.77M108.17 402.978H110.77" stroke="#222" stroke-width="0.75" fill="none"/>
<path d="M134.34 407.8406V417.3286M133.04 407.8406H135.64000000000001M133.04 417.3286H135.64000000000001" stroke="#222" stroke-width="0.75" fill="none"/>
<path d="M159.20999999999998 411.1614V418.27740000000006M157.90999999999997 411.1614H160.51M157.90999999999997 418.27740000000006H160.51" stroke="#222" stroke-width="0.75" fill="none"/>
<path d="M184.07999999999998 402.385V421.361M182.77999999999997 402.385H185.38M182.77999999999997 421.361H185.38" stroke="#222" stroke-width="0.75" fill="none"/>
<path d="M208.95 410.92420000000004V418.0402M207.64999999999998 410.92420000000004H210.25M207.64999999999998 418.0402H210.25" stroke="#222" stroke-width="0.75" fill="none"/>
<path d="M233.82 419.10760000000005V428.5956M232.51999999999998 419.10760000000005H235.12M232.51999999999998 428.5956H235.12" stroke="#222" stroke-width="0.75" fill="none"/>
<rect x="82.69999999999999" y="395.148" width="3.8" height="3.8" fill="#000"/>
<rect x="107.57" y="395.148" width="3.8" height="3.8" fill="#000"/>
<rect x="132.44" y="410.68460000000005" width="3.8" height="3.8" fill="#000"/>
<rect x="157.30999999999997" y="412.81940000000003" width="3.8" height="3.8" fill="#000"/>
<rect x="182.17999999999998" y="409.97300000000007" width="3.8" height="3.8" fill="#000"/>
<rect x="207.04999999999998" y="412.58220000000006" width="3.8" height="3.8" fill="#000"/>
<rect x="231.92" y="421.95160000000004" width="3.8" height="3.8" fill="#000"/>
<line x1="241.6" y1="388.2" x2="254" y2="388.2" stroke="#333" stroke-width="0.8"/>
<rect x="245.4" y="386.09999999999997" width="4.2" height="4.2" fill="#fff" stroke="#222" stroke-width="0.7"/>
<text x="257.5" y="390.7" font-size="7.2" text-anchor="start" font-family="Liberation Serif, serif" >no siRNA</text>
<line x1="241.6" y1="399.5" x2="254" y2="399.5" stroke="#333" stroke-width="0.8"/>
<circle cx="247.5" cy="399.5" r="2.1" fill="#fff" stroke="#222" stroke-width="0.7"/>
<text x="257.5" y="402.0" font-size="7.2" text-anchor="start" font-family="Liberation Serif, serif" >control siRNA</text>
<line x1="241.6" y1="410.8" x2="254" y2="410.8" stroke="#333" stroke-width="0.8"/>
<path d="M247.5 408.3L249.9 412.90000000000003L245.1 412.90000000000003Z" fill="#fff" stroke="#222" stroke-width="0.7"/>
<text x="257.5" y="413.3" font-size="7.2" text-anchor="start" font-family="Liberation Serif, serif" >siRNA <tspan font-style="italic">SET</tspan> exon 8</text>
<line x1="241.6" y1="422.1" x2="254" y2="422.1" stroke="#333" stroke-width="0.8"/>
<rect x="245.4" y="420.0" width="4.2" height="4.2" fill="#000"/>
<text x="257.5" y="424.6" font-size="7.2" text-anchor="start" font-family="Liberation Serif, serif" >siRNA <tspan font-style="italic">SET</tspan> exon 5</text>
<line x1="361.3" y1="385.0" x2="361.3" y2="500.2" stroke="#444" stroke-width="0.9"/>
<line x1="359.3" y1="500.2" x2="361.3" y2="500.2" stroke="#444" stroke-width="0.8"/>
<text x="358.5" y="502.2" font-size="5.8" text-anchor="end" font-family="Liberation Serif, serif" >0</text>
<line x1="359.3" y1="471.4" x2="361.3" y2="471.4" stroke="#444" stroke-width="0.8"/>
<text x="358.5" y="473.4" font-size="5.8" text-anchor="end" font-family="Liberation Serif, serif" >25</text>
<line x1="359.3" y1="442.6" x2="361.3" y2="442.6" stroke="#444" stroke-width="0.8"/>
<text x="358.5" y="444.6" font-size="5.8" text-anchor="end" font-family="Liberation Serif, serif" >50</text>
<line x1="359.3" y1="413.8" x2="361.3" y2="413.8" stroke="#444" stroke-width="0.8"/>
<text x="358.5" y="415.8" font-size="5.8" text-anchor="end" font-family="Liberation Serif, serif" >75</text>
<line x1="359.3" y1="385.0" x2="361.3" y2="385.0" stroke="#444" stroke-width="0.8"/>
<text x="358.5" y="387.0" font-size="5.8" text-anchor="end" font-family="Liberation Serif, serif" >100</text>
<text transform="translate(345,446.3) rotate(-90)" font-size="6.2" text-anchor="middle" font-family="Liberation Serif, serif">% of cell death (<tspan font-style="italic">AnnexinV/PI</tspan>)</text>
<line x1="361.4" y1="500.2" x2="382.9" y2="500.2" stroke="#444" stroke-width="0.9"/>
<rect x="364.2" y="471.4" width="3.6" height="28.80000000000001" fill="#6a6a6a" stroke="#3a3a3a" stroke-width="0.6"/>
<path d="M366.0 471.4V469.4M365.09999999999997 469.4H366.9" stroke="#333" stroke-width="0.6"/>
<text x="366.0" y="508" font-size="5.4" text-anchor="middle" font-family="Liberation Serif, serif" >1</text>
<rect x="369.05" y="471.976" width="3.6" height="28.22399999999999" fill="#6a6a6a" stroke="#3a3a3a" stroke-width="0.6"/>
<path d="M370.85 471.976V469.976M369.95 469.976H371.75" stroke="#333" stroke-width="0.6"/>
<text x="370.85" y="508" font-size="5.4" text-anchor="middle" font-family="Liberation Serif, serif" >2</text>
<rect x="373.9" y="474.28" width="3.6" height="25.920000000000016" fill="#6a6a6a" stroke="#3a3a3a" stroke-width="0.6"/>
<path d="M375.7 474.28V472.28M374.79999999999995 472.28H376.59999999999997" stroke="#333" stroke-width="0.6"/>
<text x="375.7" y="508" font-size="5.4" text-anchor="middle" font-family="Liberation Serif, serif" >3</text>
<rect x="378.75" y="468.52" width="3.6" height="31.680000000000007" fill="#6a6a6a" stroke="#3a3a3a" stroke-width="0.6"/>
<path d="M380.55 468.52V466.52M379.65 466.52H381.45" stroke="#333" stroke-width="0.6"/>
<text x="380.55" y="508" font-size="5.4" text-anchor="middle" font-family="Liberation Serif, serif" >4</text>
<text x="372.9" y="460" font-size="6.3" text-anchor="middle" font-family="Liberation Serif, serif" >day 1</text>
<line x1="383.79999999999995" y1="500.2" x2="405.29999999999995" y2="500.2" stroke="#444" stroke-width="0.9"/>
<rect x="386.59999999999997" y="470.248" width="3.6" height="29.951999999999998" fill="#6a6a6a" stroke="#3a3a3a" stroke-width="0.6"/>
<path d="M388.4 470.248V468.248M387.49999999999994 468.248H389.29999999999995" stroke="#333" stroke-width="0.6"/>
<text x="388.4" y="508" font-size="5.4" text-anchor="middle" font-family="Liberation Serif, serif" >1</text>
<rect x="391.45" y="470.824" width="3.6" height="29.375999999999976" fill="#6a6a6a" stroke="#3a3a3a" stroke-width="0.6"/>
<path d="M393.25 470.824V468.824M392.34999999999997 468.824H394.15" stroke="#333" stroke-width="0.6"/>
<text x="393.25" y="508" font-size="5.4" text-anchor="middle" font-family="Liberation Serif, serif" >2</text>
<rect x="396.29999999999995" y="475.432" width="3.6" height="24.767999999999972" fill="#6a6a6a" stroke="#3a3a3a" stroke-width="0.6"/>
<path d="M398.09999999999997 475.432V473.432M397.19999999999993 473.432H398.99999999999994" stroke="#333" stroke-width="0.6"/>
<text x="398.09999999999997" y="508" font-size="5.4" text-anchor="middle" font-family="Liberation Serif, serif" >3</text>
<rect x="401.15" y="466.792" width="3.6" height="33.408000000000015" fill="#6a6a6a" stroke="#3a3a3a" stroke-width="0.6"/>
<path d="M402.95 466.792V464.792M402.04999999999995 464.792H403.84999999999997" stroke="#333" stroke-width="0.6"/>
<text x="402.95" y="508" font-size="5.4" text-anchor="middle" font-family="Liberation Serif, serif" >4</text>
<text x="395.29999999999995" y="460" font-size="6.3" text-anchor="middle" font-family="Liberation Serif, serif" >day 2</text>
<line x1="406.2" y1="500.2" x2="427.7" y2="500.2" stroke="#444" stroke-width="0.9"/>
<rect x="409.0" y="477.736" width="3.6" height="22.464" fill="#6a6a6a" stroke="#3a3a3a" stroke-width="0.6"/>
<path d="M410.8 477.736V475.736M409.9 475.736H411.7" stroke="#333" stroke-width="0.6"/>
<text x="410.8" y="508" font-size="5.4" text-anchor="middle" font-family="Liberation Serif, serif" >1</text>
<rect x="413.85" y="480.616" width="3.6" height="19.584000000000003" fill="#6a6a6a" stroke="#3a3a3a" stroke-width="0.6"/>
<path d="M415.65000000000003 480.616V478.616M414.75 478.616H416.55" stroke="#333" stroke-width="0.6"/>
<text x="415.65000000000003" y="508" font-size="5.4" text-anchor="middle" font-family="Liberation Serif, serif" >2</text>
<rect x="418.7" y="479.464" width="3.6" height="20.73599999999999" fill="#6a6a6a" stroke="#3a3a3a" stroke-width="0.6"/>
<path d="M420.5 479.464V477.464M419.59999999999997 477.464H421.4" stroke="#333" stroke-width="0.6"/>
<text x="420.5" y="508" font-size="5.4" text-anchor="middle" font-family="Liberation Serif, serif" >3</text>
<rect x="423.55" y="473.128" width="3.6" height="27.072000000000003" fill="#6a6a6a" stroke="#3a3a3a" stroke-width="0.6"/>
<path d="M425.35 473.128V471.128M424.45 471.128H426.25" stroke="#333" stroke-width="0.6"/>
<text x="425.35" y="508" font-size="5.4" text-anchor="middle" font-family="Liberation Serif, serif" >4</text>
<text x="417.7" y="460" font-size="6.3" text-anchor="middle" font-family="Liberation Serif, serif" >day 3</text>
<line x1="428.59999999999997" y1="500.2" x2="450.09999999999997" y2="500.2" stroke="#444" stroke-width="0.9"/>
<rect x="431.4" y="479.8096" width="3.6" height="20.3904" fill="#6a6a6a" stroke="#3a3a3a" stroke-width="0.6"/>
<path d="M433.2 479.8096V477.8096M432.29999999999995 477.8096H434.09999999999997" stroke="#333" stroke-width="0.6"/>
<text x="433.2" y="508" font-size="5.4" text-anchor="middle" font-family="Liberation Serif, serif" >1</text>
<rect x="436.25" y="476.6992" width="3.6" height="23.50079999999997" fill="#6a6a6a" stroke="#3a3a3a" stroke-width="0.6"/>
<path d="M438.05 476.6992V474.6992M437.15 474.6992H438.95" stroke="#333" stroke-width="0.6"/>
<text x="438.05" y="508" font-size="5.4" text-anchor="middle" font-family="Liberation Serif, serif" >2</text>
<rect x="441.09999999999997" y="481.5376" width="3.6" height="18.66239999999999" fill="#6a6a6a" stroke="#3a3a3a" stroke-width="0.6"/>
<path d="M442.9 481.5376V479.5376M441.99999999999994 479.5376H443.79999999999995" stroke="#333" stroke-width="0.6"/>
<text x="442.9" y="508" font-size="5.4" text-anchor="middle" font-family="Liberation Serif, serif" >3</text>
<rect x="445.95" y="473.35839999999996" width="3.6" height="26.841600000000028" fill="#6a6a6a" stroke="#3a3a3a" stroke-width="0.6"/>
<path d="M447.75 473.35839999999996V471.35839999999996M446.84999999999997 471.35839999999996H448.65" stroke="#333" stroke-width="0.6"/>
<text x="447.75" y="508" font-size="5.4" text-anchor="middle" font-family="Liberation Serif, serif" >4</text>
<text x="440.09999999999997" y="460" font-size="6.3" text-anchor="middle" font-family="Liberation Serif, serif" >day 4</text>
<line x1="451.0" y1="500.2" x2="472.5" y2="500.2" stroke="#444" stroke-width="0.9"/>
<rect x="453.8" y="485.8" width="3.6" height="14.399999999999977" fill="#6a6a6a" stroke="#3a3a3a" stroke-width="0.6"/>
<path d="M455.6 485.8V483.8M454.7 483.8H456.5" stroke="#333" stroke-width="0.6"/>
<text x="455.6" y="508" font-size="5.4" text-anchor="middle" font-family="Liberation Serif, serif" >1</text>
<rect x="458.65000000000003" y="488.4496" width="3.6" height="11.750400000000013" fill="#6a6a6a" stroke="#3a3a3a" stroke-width="0.6"/>
<path d="M460.45000000000005 488.4496V486.4496M459.55 486.4496H461.35" stroke="#333" stroke-width="0.6"/>
<text x="460.45000000000005" y="508" font-size="5.4" text-anchor="middle" font-family="Liberation Serif, serif" >2</text>
<rect x="463.5" y="480.1552" width="3.6" height="20.04480000000001" fill="#6a6a6a" stroke="#3a3a3a" stroke-width="0.6"/>
<path d="M465.3 480.1552V478.1552M464.4 478.1552H466.2" stroke="#333" stroke-width="0.6"/>
<text x="465.3" y="508" font-size="5.4" text-anchor="middle" font-family="Liberation Serif, serif" >3</text>
<rect x="468.35" y="480.9616" width="3.6" height="19.238400000000013" fill="#6a6a6a" stroke="#3a3a3a" stroke-width="0.6"/>
<path d="M470.15000000000003 480.9616V478.9616M469.25 478.9616H471.05" stroke="#333" stroke-width="0.6"/>
<text x="470.15000000000003" y="508" font-size="5.4" text-anchor="middle" font-family="Liberation Serif, serif" >4</text>
<text x="462.5" y="460" font-size="6.3" text-anchor="middle" font-family="Liberation Serif, serif" >day 5</text>
<line x1="473.4" y1="500.2" x2="494.9" y2="500.2" stroke="#444" stroke-width="0.9"/>
<rect x="476.2" y="485.3392" width="3.6" height="14.860799999999983" fill="#6a6a6a" stroke="#3a3a3a" stroke-width="0.6"/>
<path d="M478.0 485.3392V483.3392M477.09999999999997 483.3392H478.9" stroke="#333" stroke-width="0.6"/>
<text x="478.0" y="508" font-size="5.4" text-anchor="middle" font-family="Liberation Serif, serif" >1</text>
<rect x="481.05" y="486.0304" width="3.6" height="14.169600000000003" fill="#6a6a6a" stroke="#3a3a3a" stroke-width="0.6"/>
<path d="M482.85 486.0304V484.0304M481.95 484.0304H483.75" stroke="#333" stroke-width="0.6"/>
<text x="482.85" y="508" font-size="5.4" text-anchor="middle" font-family="Liberation Serif, serif" >2</text>
<rect x="485.9" y="484.64799999999997" width="3.6" height="15.552000000000021" fill="#6a6a6a" stroke="#3a3a3a" stroke-width="0.6"/>
<path d="M487.7 484.64799999999997V482.64799999999997M486.79999999999995 482.64799999999997H488.59999999999997" stroke="#333" stroke-width="0.6"/>
<text x="487.7" y="508" font-size="5.4" text-anchor="middle" font-family="Liberation Serif, serif" >3</text>
<rect x="490.75" y="485.8" width="3.6" height="14.399999999999977" fill="#6a6a6a" stroke="#3a3a3a" stroke-width="0.6"/>
<path d="M492.55 485.8V483.8M491.65 483.8H493.45" stroke="#333" stroke-width="0.6"/>
<text x="492.55" y="508" font-size="5.4" text-anchor="middle" font-family="Liberation Serif, serif" >4</text>
<text x="484.9" y="460" font-size="6.3" text-anchor="middle" font-family="Liberation Serif, serif" >day 6</text>
<line x1="495.79999999999995" y1="500.2" x2="517.3" y2="500.2" stroke="#444" stroke-width="0.9"/>
<rect x="498.59999999999997" y="486.2608" width="3.6" height="13.939199999999971" fill="#6a6a6a" stroke="#3a3a3a" stroke-width="0.6"/>
<path d="M500.4 486.2608V484.2608M499.49999999999994 484.2608H501.29999999999995" stroke="#333" stroke-width="0.6"/>
<text x="500.4" y="508" font-size="5.4" text-anchor="middle" font-family="Liberation Serif, serif" >1</text>
<rect x="503.45" y="484.9936" width="3.6" height="15.206399999999974" fill="#6a6a6a" stroke="#3a3a3a" stroke-width="0.6"/>
<path d="M505.25 484.9936V482.9936M504.34999999999997 482.9936H506.15" stroke="#333" stroke-width="0.6"/>
<text x="505.25" y="508" font-size="5.4" text-anchor="middle" font-family="Liberation Serif, serif" >2</text>
<rect x="508.29999999999995" y="485.8" width="3.6" height="14.399999999999977" fill="#6a6a6a" stroke="#3a3a3a" stroke-width="0.6"/>
<path d="M510.09999999999997 485.8V483.8M509.19999999999993 483.8H510.99999999999994" stroke="#333" stroke-width="0.6"/>
<text x="510.09999999999997" y="508" font-size="5.4" text-anchor="middle" font-family="Liberation Serif, serif" >3</text>
<rect x="513.1499999999999" y="486.2608" width="3.6" height="13.939199999999971" fill="#6a6a6a" stroke="#3a3a3a" stroke-width="0.6"/>
<path d="M514.9499999999999 486.2608V484.2608M514.05 484.2608H515.8499999999999" stroke="#333" stroke-width="0.6"/>
<text x="514.9499999999999" y="508" font-size="5.4" text-anchor="middle" font-family="Liberation Serif, serif" >4</text>
<text x="507.29999999999995" y="460" font-size="6.3" text-anchor="middle" font-family="Liberation Serif, serif" >day 7</text>
<text x="448" y="401.6" font-size="7.2" text-anchor="start" font-family="Liberation Serif, serif" >1. no siRNA</text>
<text x="448" y="410.35" font-size="7.2" text-anchor="start" font-family="Liberation Serif, serif" >2. control siRNA</text>
<text x="448" y="419.1" font-size="7.2" text-anchor="start" font-family="Liberation Serif, serif" >3. <tspan font-style="italic">SET</tspan> siRNA exon 8</text>
<text x="448" y="427.85" font-size="7.2" text-anchor="start" font-family="Liberation Serif, serif" >4. <tspan font-style="italic">SET</tspan> siRNA exon 5</text>
<rect x="27" y="539.8" width="83" height="72.60000000000002" fill="#000"/>
<ellipse cx="47" cy="601" rx="9.6" ry="4.8" fill="#d4d4d4" opacity="0.83" filter="url(#cb)" transform="rotate(-15 47 601)"/>
<g filter="url(#db)"><path d="M45.6 603.5h.9v.9h-.9zM39.6 601.0h.9v.9h-.9zM49.8 601.9h.9v.9h-.9zM48.4 598.2h.9v.9h-.9zM41.4 599.4h.9v.9h-.9zM49.6 600.9h.9v.9h-.9zM42.6 598.2h.9v.9h-.9zM39.1 600.8h.9v.9h-.9zM45.3 598.1h.9v.9h-.9zM53.7 602.1h.9v.9h-.9zM51.1 597.4h.9v.9h-.9zM45.3 600.2h.9v.9h-.9zM46.4 605.2h.9v.9h-.9zM49.2 601.4h.9v.9h-.9zM51.6 602.0h.9v.9h-.9zM48.9 599.3h.9v.9h-.9zM50.5 597.5h.9v.9h-.9zM50.3 602.2h.9v.9h-.9zM47.0 601.4h.9v.9h-.9zM45.5 600.2h.9v.9h-.9zM48.8 602.9h.9v.9h-.9zM47.9 604.6h.9v.9h-.9zM53.2 601.6h.9v.9h-.9zM45.2 601.2h.9v.9h-.9zM45.0 604.1h.9v.9h-.9zM53.3 599.9h.9v.9h-.9zM44.0 604.0h.9v.9h-.9zM49.4 603.0h.9v.9h-.9zM47.8 597.2h.9v.9h-.9zM54.5 598.3h.9v.9h-.9zM50.5 601.8h.9v.9h-.9zM48.0 598.6h.9v.9h-.9zM54.1 597.3h.9v.9h-.9zM48.8 598.0h.9v.9h-.9zM46.2 604.2h.9v.9h-.9zM52.6 597.4h.9v.9h-.9zM45.5 601.3h.9v.9h-.9zM47.4 601.2h.9v.9h-.9zM40.2 601.5h.9v.9h-.9zM41.3 601.4h.9v.9h-.9zM43.0 597.8h.9v.9h-.9zM50.0 601.8h.9v.9h-.9zM48.7 598.4h.9v.9h-.9zM50.5 599.7h.9v.9h-.9zM53.3 602.5h.9v.9h-.9zM49.4 601.1h.9v.9h-.9zM44.5 602.4h.9v.9h-.9zM48.5 599.4h.9v.9h-.9zM40.5 603.8h.9v.9h-.9zM48.6 601.7h.9v.9h-.9zM45.3 604.7h.9v.9h-.9zM46.3 601.8h.9v.9h-.9zM41.0 599.4h.9v.9h-.9zM43.2 599.0h.9v.9h-.9zM41.6 603.5h.9v.9h-.9zM53.3 598.5h.9v.9h-.9zM54.6 599.0h.9v.9h-.9zM41.8 602.3h.9v.9h-.9zM45.8 604.2h.9v.9h-.9zM52.8 600.9h.9v.9h-.9zM39.5 603.2h.9v.9h-.9zM43.4 598.9h.9v.9h-.9zM50.6 598.3h.9v.9h-.9zM48.3 600.4h.9v.9h-.9zM47.1 603.8h.9v.9h-.9zM44.7 598.8h.9v.9h-.9zM38.6 603.5h.9v.9h-.9zM52.2 602.5h.9v.9h-.9zM47.2 600.7h.9v.9h-.9zM48.6 598.8h.9v.9h-.9zM42.4 605.2h.9v.9h-.9zM40.3 600.7h.9v.9h-.9zM49.5 597.4h.9v.9h-.9zM47.8 604.0h.9v.9h-.9zM50.7 603.7h.9v.9h-.9zM46.2 599.9h.9v.9h-.9zM46.8 602.3h.9v.9h-.9zM50.4 602.5h.9v.9h-.9zM41.6 602.5h.9v.9h-.9zM48.6 602.3h.9v.9h-.9zM52.2 601.3h.9v.9h-.9zM40.7 604.9h.9v.9h-.9zM50.0 598.0h.9v.9h-.9zM48.1 604.9h.9v.9h-.9zM49.0 600.6h.9v.9h-.9zM54.7 598.9h.9v.9h-.9zM47.4 597.9h.9v.9h-.9zM49.5 601.4h.9v.9h-.9zM39.8 600.9h.9v.9h-.9zM46.0 600.9h.9v.9h-.9zM46.6 601.9h.9v.9h-.9zM42.4 598.4h.9v.9h-.9zM54.1 599.9h.9v.9h-.9zM44.3 599.2h.9v.9h-.9zM53.4 598.6h.9v.9h-.9zM48.4 603.5h.9v.9h-.9zM49.8 603.0h.9v.9h-.9zM43.3 603.8h.9v.9h-.9zM45.2 603.8h.9v.9h-.9zM46.7 600.0h.9v.9h-.9zM42.3 605.0h.9v.9h-.9zM47.4 601.2h.9v.9h-.9zM44.9 602.1h.9v.9h-.9zM51.8 598.2h.9v.9h-.9zM52.1 597.4h.9v.9h-.9zM44.7 598.1h.9v.9h-.9zM54.0 597.9h.9v.9h-.9zM44.6 604.8h.9v.9h-.9zM48.9 604.8h.9v.9h-.9zM44.5 599.9h.9v.9h-.9zM45.9 598.5h.9v.9h-.9zM47.7 603.2h.9v.9h-.9zM40.5 601.0h.9v.9h-.9zM49.5 603.4h.9v.9h-.9zM45.7 603.9h.9v.9h-.9zM51.2 601.2h.9v.9h-.9zM42.1 604.1h.9v.9h-.9zM53.1 598.3h.9v.9h-.9zM42.8 605.5h.9v.9h-.9zM53.0 596.9h.9v.9h-.9zM47.9 601.4h.9v.9h-.9zM41.0 599.9h.9v.9h-.9zM51.5 602.5h.9v.9h-.9zM50.1 599.3h.9v.9h-.9zM44.5 601.8h.9v.9h-.9zM48.5 598.4h.9v.9h-.9zM49.4 604.5h.9v.9h-.9zM48.8 598.2h.9v.9h-.9zM51.7 601.9h.9v.9h-.9zM48.6 599.8h.9v.9h-.9zM46.8 599.9h.9v.9h-.9zM41.8 599.9h.9v.9h-.9zM39.4 600.9h.9v.9h-.9zM44.6 600.4h.9v.9h-.9zM39.4 602.9h.9v.9h-.9zM50.7 598.8h.9v.9h-.9zM49.4 599.7h.9v.9h-.9zM46.6 598.7h.9v.9h-.9zM49.4 599.1h.9v.9h-.9zM40.9 599.6h.9v.9h-.9zM40.1 601.0h.9v.9h-.9zM42.7 603.1h.9v.9h-.9zM51.4 600.3h.9v.9h-.9zM51.3 602.0h.9v.9h-.9zM47.6 600.9h.9v.9h-.9zM53.3 601.7h.9v.9h-.9zM47.5 596.7h.9v.9h-.9zM48.7 599.8h.9v.9h-.9zM47.1 600.3h.9v.9h-.9zM48.3 598.3h.9v.9h-.9zM46.6 602.4h.9v.9h-.9zM45.4 596.9h.9v.9h-.9zM38.8 601.7h.9v.9h-.9zM40.9 602.2h.9v.9h-.9zM52.1 599.0h.9v.9h-.9zM53.1 599.7h.9v.9h-.9zM51.3 596.4h.9v.9h-.9zM40.6 601.2h.9v.9h-.9zM44.5 600.5h.9v.9h-.9zM49.3 600.6h.9v.9h-.9zM50.3 599.4h.9v.9h-.9zM48.7 601.2h.9v.9h-.9zM47.6 604.2h.9v.9h-.9zM43.1 604.7h.9v.9h-.9zM55.0 599.7h.9v.9h-.9zM47.1 597.2h.9v.9h-.9zM41.6 601.8h.9v.9h-.9zM52.2 599.6h.9v.9h-.9zM47.7 600.8h.9v.9h-.9zM39.9 603.0h.9v.9h-.9zM41.3 599.7h.9v.9h-.9zM48.2 600.1h.9v.9h-.9zM45.5 603.5h.9v.9h-.9zM48.1 603.4h.9v.9h-.9zM50.9 602.6h.9v.9h-.9zM42.4 601.9h.9v.9h-.9zM42.4 599.9h.9v.9h-.9zM51.8 598.8h.9v.9h-.9zM40.5 604.9h.9v.9h-.9zM44.0 604.4h.9v.9h-.9zM48.5 602.7h.9v.9h-.9zM41.6 601.3h.9v.9h-.9zM43.0 601.4h.9v.9h-.9zM43.3 604.2h.9v.9h-.9zM47.3 601.2h.9v.9h-.9zM46.6 604.1h.9v.9h-.9zM39.0 603.7h.9v.9h-.9zM42.2 599.0h.9v.9h-.9zM48.3 599.5h.9v.9h-.9zM44.3 601.8h.9v.9h-.9zM50.1 604.5h.9v.9h-.9zM49.8 596.5h.9v.9h-.9zM45.1 604.7h.9v.9h-.9z" fill="#ececec"/><path d="M56.2 600.8h.9v.9h-.9zM44.5 602.3h.9v.9h-.9zM50.3 605.9h.9v.9h-.9zM48.8 594.4h.9v.9h-.9zM38.0 601.1h.9v.9h-.9zM39.0 597.0h.9v.9h-.9zM37.8 600.4h.9v.9h-.9zM49.1 605.2h.9v.9h-.9zM41.2 606.5h.9v.9h-.9zM42.4 597.6h.9v.9h-.9zM41.6 605.1h.9v.9h-.9zM44.9 600.5h.9v.9h-.9zM47.2 601.0h.9v.9h-.9zM53.5 601.6h.9v.9h-.9zM48.6 598.4h.9v.9h-.9zM47.5 604.8h.9v.9h-.9zM47.0 595.9h.9v.9h-.9zM50.7 593.8h.9v.9h-.9zM39.7 602.5h.9v.9h-.9zM58.0 597.3h.9v.9h-.9zM42.9 601.4h.9v.9h-.9zM57.7 597.0h.9v.9h-.9zM47.6 605.1h.9v.9h-.9zM54.3 596.6h.9v.9h-.9zM52.1 603.8h.9v.9h-.9zM47.1 596.1h.9v.9h-.9zM39.2 599.9h.9v.9h-.9zM52.5 600.9h.9v.9h-.9zM38.9 596.8h.9v.9h-.9zM55.3 604.2h.9v.9h-.9zM39.9 602.5h.9v.9h-.9zM38.8 601.7h.9v.9h-.9zM43.0 607.1h.9v.9h-.9zM60.5 599.2h.9v.9h-.9zM48.8 597.6h.9v.9h-.9zM55.1 596.2h.9v.9h-.9zM52.1 598.2h.9v.9h-.9zM41.2 602.0h.9v.9h-.9zM59.7 598.3h.9v.9h-.9zM51.3 604.2h.9v.9h-.9zM59.4 602.4h.9v.9h-.9zM32.4 605.2h.9v.9h-.9zM35.2 603.9h.9v.9h-.9zM40.6 609.2h.9v.9h-.9zM51.0 600.7h.9v.9h-.9zM45.9 598.1h.9v.9h-.9zM56.4 597.6h.9v.9h-.9zM53.1 599.5h.9v.9h-.9zM45.4 602.2h.9v.9h-.9zM34.0 603.2h.9v.9h-.9zM55.7 604.0h.9v.9h-.9zM61.7 599.2h.9v.9h-.9zM37.0 598.8h.9v.9h-.9zM54.0 603.0h.9v.9h-.9zM52.5 593.1h.9v.9h-.9zM44.4 598.9h.9v.9h-.9zM52.6 602.4h.9v.9h-.9zM50.9 595.4h.9v.9h-.9zM37.7 599.0h.9v.9h-.9zM60.9 597.4h.9v.9h-.9zM37.4 603.5h.9v.9h-.9zM59.2 600.4h.9v.9h-.9zM52.2 606.1h.9v.9h-.9zM40.0 596.4h.9v.9h-.9zM44.7 600.3h.9v.9h-.9zM48.4 607.5h.9v.9h-.9zM45.8 601.0h.9v.9h-.9zM47.2 607.1h.9v.9h-.9zM49.8 595.8h.9v.9h-.9zM45.3 601.5h.9v.9h-.9zM46.9 602.3h.9v.9h-.9zM56.3 593.5h.9v.9h-.9zM35.2 606.3h.9v.9h-.9zM53.9 602.5h.9v.9h-.9zM44.9 608.1h.9v.9h-.9zM47.8 606.8h.9v.9h-.9zM39.4 601.6h.9v.9h-.9zM55.4 598.6h.9v.9h-.9zM42.6 604.8h.9v.9h-.9zM54.3 602.5h.9v.9h-.9zM53.2 596.5h.9v.9h-.9zM47.5 602.8h.9v.9h-.9zM35.2 603.3h.9v.9h-.9zM43.6 596.0h.9v.9h-.9zM42.3 599.5h.9v.9h-.9zM48.3 606.5h.9v.9h-.9zM52.8 596.3h.9v.9h-.9zM45.1 596.6h.9v.9h-.9zM48.8 601.6h.9v.9h-.9zM39.6 609.0h.9v.9h-.9zM36.0 608.0h.9v.9h-.9zM49.1 600.7h.9v.9h-.9zM57.0 596.8h.9v.9h-.9zM60.0 597.7h.9v.9h-.9zM49.1 605.1h.9v.9h-.9zM39.4 605.1h.9v.9h-.9zM54.4 605.8h.9v.9h-.9zM51.3 593.5h.9v.9h-.9zM47.2 599.3h.9v.9h-.9zM46.3 598.1h.9v.9h-.9zM56.9 599.5h.9v.9h-.9zM47.1 602.7h.9v.9h-.9zM34.9 604.3h.9v.9h-.9zM39.6 596.9h.9v.9h-.9zM45.6 606.5h.9v.9h-.9zM56.1 598.3h.9v.9h-.9zM49.6 594.7h.9v.9h-.9zM54.7 601.7h.9v.9h-.9zM46.4 603.2h.9v.9h-.9zM56.8 597.4h.9v.9h-.9zM48.0 607.9h.9v.9h-.9zM56.1 602.0h.9v.9h-.9zM49.5 604.2h.9v.9h-.9zM43.4 599.7h.9v.9h-.9zM44.2 601.3h.9v.9h-.9zM40.1 606.1h.9v.9h-.9zM54.3 599.0h.9v.9h-.9zM45.6 598.6h.9v.9h-.9zM40.2 605.8h.9v.9h-.9zM55.7 602.5h.9v.9h-.9zM39.5 604.5h.9v.9h-.9zM39.6 599.7h.9v.9h-.9zM46.3 594.0h.9v.9h-.9zM53.5 602.4h.9v.9h-.9zM55.8 598.1h.9v.9h-.9zM47.5 605.8h.9v.9h-.9zM51.9 600.3h.9v.9h-.9zM57.1 595.9h.9v.9h-.9zM35.9 602.8h.9v.9h-.9zM52.9 595.6h.9v.9h-.9zM61.2 599.5h.9v.9h-.9zM42.8 599.1h.9v.9h-.9zM39.1 605.2h.9v.9h-.9zM37.4 600.8h.9v.9h-.9zM52.0 598.5h.9v.9h-.9zM56.9 601.7h.9v.9h-.9zM58.2 598.4h.9v.9h-.9zM41.6 607.3h.9v.9h-.9zM58.0 595.5h.9v.9h-.9zM42.7 603.9h.9v.9h-.9zM50.8 599.2h.9v.9h-.9zM39.1 600.0h.9v.9h-.9zM52.7 593.8h.9v.9h-.9zM51.9 601.5h.9v.9h-.9zM41.9 608.3h.9v.9h-.9zM52.5 594.1h.9v.9h-.9zM41.5 596.7h.9v.9h-.9zM48.3 601.4h.9v.9h-.9zM53.0 597.7h.9v.9h-.9zM37.8 598.7h.9v.9h-.9zM57.0 600.5h.9v.9h-.9zM51.1 592.9h.9v.9h-.9zM49.8 594.8h.9v.9h-.9zM42.1 599.8h.9v.9h-.9zM58.6 601.9h.9v.9h-.9zM44.6 605.6h.9v.9h-.9zM51.2 606.1h.9v.9h-.9zM48.3 594.4h.9v.9h-.9zM38.1 604.6h.9v.9h-.9zM45.7 595.4h.9v.9h-.9zM35.3 606.8h.9v.9h-.9zM53.9 602.4h.9v.9h-.9zM48.9 594.0h.9v.9h-.9zM50.1 604.1h.9v.9h-.9zM37.1 608.0h.9v.9h-.9zM36.1 603.9h.9v.9h-.9zM54.7 603.3h.9v.9h-.9zM34.7 601.2h.9v.9h-.9zM50.3 606.7h.9v.9h-.9zM47.2 594.6h.9v.9h-.9zM40.9 597.3h.9v.9h-.9zM36.1 607.4h.9v.9h-.9zM37.1 605.3h.9v.9h-.9zM37.9 597.5h.9v.9h-.9zM55.9 601.8h.9v.9h-.9zM43.9 597.0h.9v.9h-.9zM50.4 595.7h.9v.9h-.9zM54.1 598.7h.9v.9h-.9zM46.8 605.2h.9v.9h-.9zM51.5 607.1h.9v.9h-.9zM49.6 594.8h.9v.9h-.9zM41.5 607.2h.9v.9h-.9zM49.4 596.1h.9v.9h-.9zM47.5 602.8h.9v.9h-.9zM50.2 607.3h.9v.9h-.9zM47.7 594.8h.9v.9h-.9zM42.5 597.4h.9v.9h-.9zM47.2 603.9h.9v.9h-.9zM53.5 603.1h.9v.9h-.9zM50.7 596.1h.9v.9h-.9zM37.0 599.7h.9v.9h-.9zM38.0 603.1h.9v.9h-.9zM59.4 599.1h.9v.9h-.9zM37.9 604.2h.9v.9h-.9zM32.7 602.2h.9v.9h-.9zM47.0 605.9h.9v.9h-.9zM37.8 597.4h.9v.9h-.9zM53.5 600.3h.9v.9h-.9z" fill="#bdbdbd"/><path d="M56.0 600.3h.9v.9h-.9zM35.0 607.8h.9v.9h-.9zM62.2 599.3h.9v.9h-.9zM53.2 603.3h.9v.9h-.9zM54.9 590.5h.9v.9h-.9zM29.7 595.2h.9v.9h-.9zM55.7 599.3h.9v.9h-.9zM31.1 602.6h.9v.9h-.9zM38.5 609.9h.9v.9h-.9zM47.9 592.5h.9v.9h-.9zM53.5 595.2h.9v.9h-.9zM59.2 603.4h.9v.9h-.9zM38.6 604.3h.9v.9h-.9zM55.6 597.1h.9v.9h-.9zM62.0 595.9h.9v.9h-.9zM61.9 596.3h.9v.9h-.9zM37.7 593.8h.9v.9h-.9zM67.0 590.9h.9v.9h-.9zM57.8 593.4h.9v.9h-.9zM37.5 597.4h.9v.9h-.9zM36.0 596.2h.9v.9h-.9zM45.8 596.6h.9v.9h-.9zM58.2 595.8h.9v.9h-.9zM31.4 600.7h.9v.9h-.9zM33.7 602.1h.9v.9h-.9zM45.8 592.2h.9v.9h-.9zM29.1 607.2h.9v.9h-.9zM58.4 591.0h.9v.9h-.9zM28.9 602.2h.9v.9h-.9zM58.6 604.6h.9v.9h-.9zM53.1 609.4h.9v.9h-.9zM43.3 608.0h.9v.9h-.9zM68.8 599.9h.9v.9h-.9zM36.4 598.3h.9v.9h-.9zM45.9 606.0h.9v.9h-.9zM60.8 601.3h.9v.9h-.9zM45.8 605.7h.9v.9h-.9zM41.6 594.1h.9v.9h-.9zM31.8 600.7h.9v.9h-.9zM38.8 604.2h.9v.9h-.9zM53.2 589.5h.9v.9h-.9zM50.8 605.3h.9v.9h-.9zM27.7 604.6h.9v.9h-.9zM41.0 593.9h.9v.9h-.9zM61.4 592.0h.9v.9h-.9zM31.5 601.5h.9v.9h-.9zM60.8 595.0h.9v.9h-.9zM52.1 592.4h.9v.9h-.9zM37.9 604.8h.9v.9h-.9zM28.7 608.5h.9v.9h-.9zM50.0 610.7h.9v.9h-.9zM36.2 595.7h.9v.9h-.9zM44.1 611.6h.9v.9h-.9zM35.3 595.4h.9v.9h-.9zM35.4 609.6h.9v.9h-.9zM40.5 588.5h.9v.9h-.9zM63.1 604.2h.9v.9h-.9zM36.6 610.5h.9v.9h-.9zM37.8 610.1h.9v.9h-.9zM32.8 597.4h.9v.9h-.9zM62.6 595.7h.9v.9h-.9zM54.3 591.3h.9v.9h-.9zM37.7 609.5h.9v.9h-.9zM42.9 607.6h.9v.9h-.9zM34.9 609.0h.9v.9h-.9zM34.5 597.3h.9v.9h-.9zM51.3 589.7h.9v.9h-.9zM61.7 604.1h.9v.9h-.9zM35.7 609.8h.9v.9h-.9zM51.8 603.9h.9v.9h-.9zM38.8 605.0h.9v.9h-.9zM47.4 596.0h.9v.9h-.9zM58.5 604.1h.9v.9h-.9zM43.5 594.4h.9v.9h-.9zM46.7 608.6h.9v.9h-.9zM29.6 605.5h.9v.9h-.9zM55.2 605.1h.9v.9h-.9zM30.5 596.3h.9v.9h-.9zM39.9 599.6h.9v.9h-.9zM47.9 594.3h.9v.9h-.9zM43.8 591.9h.9v.9h-.9zM41.5 610.0h.9v.9h-.9zM50.4 609.1h.9v.9h-.9zM32.9 606.3h.9v.9h-.9zM62.1 600.3h.9v.9h-.9zM31.9 604.9h.9v.9h-.9zM60.1 601.6h.9v.9h-.9zM33.3 605.1h.9v.9h-.9zM48.2 610.6h.9v.9h-.9zM56.4 602.2h.9v.9h-.9zM35.5 609.4h.9v.9h-.9zM47.8 609.7h.9v.9h-.9zM36.8 609.6h.9v.9h-.9zM38.9 597.4h.9v.9h-.9zM40.8 595.0h.9v.9h-.9zM57.4 608.7h.9v.9h-.9zM64.5 602.7h.9v.9h-.9zM52.0 605.2h.9v.9h-.9zM43.8 592.8h.9v.9h-.9zM44.2 607.1h.9v.9h-.9zM36.8 595.2h.9v.9h-.9zM56.7 599.6h.9v.9h-.9zM48.2 591.0h.9v.9h-.9zM37.9 607.8h.9v.9h-.9zM43.6 592.1h.9v.9h-.9zM39.4 609.4h.9v.9h-.9zM57.2 594.2h.9v.9h-.9zM51.1 594.8h.9v.9h-.9zM66.2 596.6h.9v.9h-.9zM58.4 605.3h.9v.9h-.9zM56.9 605.9h.9v.9h-.9zM48.6 592.9h.9v.9h-.9zM33.0 608.0h.9v.9h-.9zM31.6 603.1h.9v.9h-.9zM37.8 596.6h.9v.9h-.9zM31.1 610.4h.9v.9h-.9zM38.7 598.8h.9v.9h-.9zM40.6 609.7h.9v.9h-.9zM36.7 598.3h.9v.9h-.9zM42.1 593.8h.9v.9h-.9zM55.6 607.4h.9v.9h-.9z" fill="#8a8a8a"/></g>
<ellipse cx="64" cy="600" rx="9.6" ry="4.8" fill="#d4d4d4" opacity="0.17" filter="url(#cb)" transform="rotate(-10 64 600)"/>
<g filter="url(#db)"><path d="M59.2 597.6h.9v.9h-.9zM62.0 604.4h.9v.9h-.9zM62.1 598.5h.9v.9h-.9zM63.3 598.4h.9v.9h-.9zM65.4 599.8h.9v.9h-.9zM65.1 598.3h.9v.9h-.9zM63.0 597.8h.9v.9h-.9zM61.3 600.6h.9v.9h-.9zM56.1 599.4h.9v.9h-.9zM66.8 596.3h.9v.9h-.9zM61.7 604.4h.9v.9h-.9zM70.2 598.9h.9v.9h-.9zM66.1 602.6h.9v.9h-.9zM61.1 596.8h.9v.9h-.9zM58.2 599.7h.9v.9h-.9zM66.3 600.3h.9v.9h-.9zM66.3 598.8h.9v.9h-.9zM61.0 601.8h.9v.9h-.9zM59.7 601.5h.9v.9h-.9zM64.4 603.7h.9v.9h-.9zM69.9 601.2h.9v.9h-.9zM64.7 602.1h.9v.9h-.9zM57.3 602.3h.9v.9h-.9zM64.7 601.2h.9v.9h-.9zM59.7 600.0h.9v.9h-.9zM67.0 598.3h.9v.9h-.9zM64.2 602.7h.9v.9h-.9zM69.7 600.9h.9v.9h-.9zM65.4 599.7h.9v.9h-.9zM67.1 600.3h.9v.9h-.9zM57.7 601.2h.9v.9h-.9zM62.4 596.1h.9v.9h-.9zM55.4 601.0h.9v.9h-.9zM68.1 596.6h.9v.9h-.9zM65.8 601.4h.9v.9h-.9zM62.6 598.4h.9v.9h-.9zM61.4 603.0h.9v.9h-.9zM69.3 597.8h.9v.9h-.9zM58.5 598.1h.9v.9h-.9zM71.9 600.4h.9v.9h-.9zM68.3 599.5h.9v.9h-.9zM60.8 597.6h.9v.9h-.9zM55.6 600.9h.9v.9h-.9zM63.0 603.5h.9v.9h-.9zM57.7 600.8h.9v.9h-.9zM68.9 601.6h.9v.9h-.9z" fill="#ececec"/><path d="M55.4 595.5h.9v.9h-.9zM55.0 597.9h.9v.9h-.9zM59.6 595.6h.9v.9h-.9zM67.7 605.2h.9v.9h-.9zM64.0 598.1h.9v.9h-.9zM77.5 599.2h.9v.9h-.9zM65.4 594.7h.9v.9h-.9zM54.2 604.2h.9v.9h-.9zM75.4 603.0h.9v.9h-.9zM71.1 596.6h.9v.9h-.9zM56.6 604.8h.9v.9h-.9zM72.8 597.9h.9v.9h-.9zM73.7 601.8h.9v.9h-.9zM64.9 600.4h.9v.9h-.9zM76.6 598.5h.9v.9h-.9zM63.0 597.6h.9v.9h-.9zM64.8 593.5h.9v.9h-.9zM61.0 596.2h.9v.9h-.9zM73.6 604.0h.9v.9h-.9zM56.4 596.8h.9v.9h-.9zM54.4 606.4h.9v.9h-.9zM65.3 594.6h.9v.9h-.9zM78.5 596.4h.9v.9h-.9zM56.2 605.7h.9v.9h-.9zM74.6 593.7h.9v.9h-.9zM50.9 598.4h.9v.9h-.9zM78.7 599.4h.9v.9h-.9zM70.2 595.0h.9v.9h-.9zM71.5 592.8h.9v.9h-.9zM69.9 597.0h.9v.9h-.9zM50.3 600.0h.9v.9h-.9zM54.1 597.9h.9v.9h-.9zM67.6 592.8h.9v.9h-.9zM55.0 601.0h.9v.9h-.9zM66.3 602.0h.9v.9h-.9zM73.4 601.9h.9v.9h-.9zM70.7 603.4h.9v.9h-.9zM62.4 600.2h.9v.9h-.9zM69.2 599.7h.9v.9h-.9zM69.4 595.8h.9v.9h-.9zM64.4 605.2h.9v.9h-.9zM75.0 596.4h.9v.9h-.9zM69.5 598.9h.9v.9h-.9zM65.7 593.5h.9v.9h-.9zM66.6 599.4h.9v.9h-.9zM61.7 605.6h.9v.9h-.9zM70.1 602.3h.9v.9h-.9zM63.9 604.2h.9v.9h-.9zM69.2 603.2h.9v.9h-.9zM66.9 604.0h.9v.9h-.9zM76.3 600.1h.9v.9h-.9zM62.0 602.2h.9v.9h-.9zM60.0 599.8h.9v.9h-.9zM53.9 597.6h.9v.9h-.9zM59.2 599.5h.9v.9h-.9zM77.9 600.1h.9v.9h-.9zM67.9 597.0h.9v.9h-.9zM67.1 596.1h.9v.9h-.9zM73.8 602.7h.9v.9h-.9zM54.3 601.3h.9v.9h-.9zM64.6 599.0h.9v.9h-.9zM61.9 597.8h.9v.9h-.9zM55.1 598.5h.9v.9h-.9zM63.3 598.9h.9v.9h-.9zM54.8 601.8h.9v.9h-.9zM70.3 601.8h.9v.9h-.9zM75.7 594.1h.9v.9h-.9zM73.3 600.0h.9v.9h-.9zM75.2 599.3h.9v.9h-.9zM73.3 595.8h.9v.9h-.9zM72.3 602.3h.9v.9h-.9zM59.6 600.3h.9v.9h-.9zM63.1 603.1h.9v.9h-.9z" fill="#bdbdbd"/><path d="M73.9 600.0h.9v.9h-.9zM78.3 601.8h.9v.9h-.9zM65.3 610.3h.9v.9h-.9zM84.5 600.5h.9v.9h-.9zM62.4 590.9h.9v.9h-.9zM65.5 595.4h.9v.9h-.9zM48.6 598.6h.9v.9h-.9zM56.7 604.1h.9v.9h-.9zM90.6 599.2h.9v.9h-.9zM79.7 596.7h.9v.9h-.9zM47.7 607.3h.9v.9h-.9zM70.9 589.3h.9v.9h-.9zM75.6 593.6h.9v.9h-.9zM62.9 590.6h.9v.9h-.9zM71.0 602.0h.9v.9h-.9zM76.6 598.3h.9v.9h-.9zM82.0 598.9h.9v.9h-.9zM77.9 594.3h.9v.9h-.9zM77.1 594.3h.9v.9h-.9zM53.2 602.7h.9v.9h-.9zM63.3 607.8h.9v.9h-.9zM80.2 600.2h.9v.9h-.9zM91.7 594.3h.9v.9h-.9zM68.0 595.0h.9v.9h-.9zM48.7 606.2h.9v.9h-.9zM64.5 593.6h.9v.9h-.9zM71.4 591.9h.9v.9h-.9zM81.4 597.8h.9v.9h-.9zM57.4 605.1h.9v.9h-.9zM55.1 606.2h.9v.9h-.9zM76.4 590.6h.9v.9h-.9zM84.7 597.7h.9v.9h-.9zM50.1 598.0h.9v.9h-.9zM51.8 599.2h.9v.9h-.9zM71.1 590.3h.9v.9h-.9zM51.4 605.9h.9v.9h-.9zM50.1 608.3h.9v.9h-.9zM44.4 608.0h.9v.9h-.9zM65.5 590.3h.9v.9h-.9zM68.6 591.3h.9v.9h-.9zM49.2 600.4h.9v.9h-.9z" fill="#8a8a8a"/></g>
<line x1="60.5" y1="539.8" x2="60.5" y2="612.4" stroke="#8a8a8a" stroke-width="0.9"/>
<line x1="27" y1="584.8" x2="110" y2="584.8" stroke="#8a8a8a" stroke-width="0.9"/>
<text x="49.6" y="577.3" font-size="4.8" fill="#c4c4c4" class="q" text-anchor="middle" font-family="Liberation Sans, sans-serif">Q1</text>
<text x="70.3" y="577.3" font-size="4.8" fill="#c4c4c4" class="q" text-anchor="middle" font-family="Liberation Sans, sans-serif">Q2</text>
<text x="49.6" y="592.3" font-size="4.8" fill="#c4c4c4" class="q" text-anchor="middle" font-family="Liberation Sans, sans-serif">Q3</text>
<text x="70.4" y="592.3" font-size="4.8" fill="#c4c4c4" class="q" text-anchor="middle" font-family="Liberation Sans, sans-serif">Q4</text>
<text x="109.5" y="611.4" font-size="11" text-anchor="end" font-family="Liberation Serif, serif" class="w" font-weight="bold" fill="#fff" letter-spacing="-0.35">13.8%</text>
<path d="M24.4 611.40h2.6M24.4 606.09h2.6M24.4 602.98h2.6M24.4 600.77h2.6M24.4 599.06h2.6M24.4 597.67h2.6M24.4 596.48h2.6M24.4 595.46h2.6M24.4 594.56h2.6M24.4 593.75h2.6M24.4 588.44h2.6M24.4 585.33h2.6M24.4 583.12h2.6M24.4 581.41h2.6M24.4 580.02h2.6M24.4 578.83h2.6M24.4 577.81h2.6M24.4 576.91h2.6M24.4 576.10h2.6M24.4 570.79h2.6M24.4 567.68h2.6M24.4 565.47h2.6M24.4 563.76h2.6M24.4 562.37h2.6M24.4 561.18h2.6M24.4 560.16h2.6M24.4 559.26h2.6M24.4 558.45h2.6M24.4 553.14h2.6M24.4 550.03h2.6M24.4 547.82h2.6M24.4 546.11h2.6M24.4 544.72h2.6M24.4 543.53h2.6M24.4 542.51h2.6M24.4 541.61h2.6M24.4 540.80h2.6" stroke="#555" stroke-width="0.6"/>
<path d="M28.00 612.4v2.8M34.10 612.4v2.8M37.66 612.4v2.8M40.19 612.4v2.8M42.15 612.4v2.8M43.76 612.4v2.8M45.11 612.4v2.8M46.29 612.4v2.8M47.32 612.4v2.8M48.25 612.4v2.8M54.35 612.4v2.8M57.91 612.4v2.8M60.44 612.4v2.8M62.40 612.4v2.8M64.01 612.4v2.8M65.36 612.4v2.8M66.54 612.4v2.8M67.57 612.4v2.8M68.50 612.4v2.8M74.60 612.4v2.8M78.16 612.4v2.8M80.69 612.4v2.8M82.65 612.4v2.8M84.26 612.4v2.8M85.61 612.4v2.8M86.79 612.4v2.8M87.82 612.4v2.8M88.75 612.4v2.8M94.85 612.4v2.8M98.41 612.4v2.8M100.94 612.4v2.8M102.90 612.4v2.8M104.51 612.4v2.8M105.86 612.4v2.8M107.04 612.4v2.8M108.07 612.4v2.8M109.00 612.4v2.8" stroke="#555" stroke-width="0.6"/>
<text x="70.8" y="537.8" font-size="9" text-anchor="middle" font-family="Liberation Serif, serif" class="b">control siRNA</text>
<text class="b" transform="translate(18.5,575.0999999999999) rotate(-90)" font-size="9" text-anchor="middle" font-family="Liberation Serif, serif">side scatter</text>
<text x="69.8" y="627.5" font-size="9" text-anchor="middle" font-family="Liberation Serif, serif" class="b">TCR gd</text>
<rect x="172" y="539.8" width="77" height="72.60000000000002" fill="#000"/>
<ellipse cx="193" cy="599" rx="13.2" ry="6.6" fill="#d4d4d4" opacity="0.99" filter="url(#cb)" transform="rotate(-10 193 599)"/>
<g filter="url(#db)"><path d="M194.0 602.8h.9v.9h-.9zM202.0 597.1h.9v.9h-.9zM195.5 600.3h.9v.9h-.9zM189.5 600.3h.9v.9h-.9zM192.0 595.9h.9v.9h-.9zM197.6 596.7h.9v.9h-.9zM182.4 598.3h.9v.9h-.9zM191.0 604.7h.9v.9h-.9zM186.4 603.4h.9v.9h-.9zM201.0 595.2h.9v.9h-.9zM187.9 594.8h.9v.9h-.9zM184.2 597.6h.9v.9h-.9zM186.0 604.3h.9v.9h-.9zM181.5 601.5h.9v.9h-.9zM202.9 597.1h.9v.9h-.9zM195.1 595.5h.9v.9h-.9zM187.7 601.5h.9v.9h-.9zM190.7 598.2h.9v.9h-.9zM194.4 594.1h.9v.9h-.9zM202.2 597.5h.9v.9h-.9zM198.7 600.0h.9v.9h-.9zM194.6 599.0h.9v.9h-.9zM194.4 604.3h.9v.9h-.9zM195.5 603.3h.9v.9h-.9zM201.7 596.6h.9v.9h-.9zM196.8 593.7h.9v.9h-.9zM196.9 602.6h.9v.9h-.9zM199.2 602.3h.9v.9h-.9zM190.0 595.3h.9v.9h-.9zM183.7 597.8h.9v.9h-.9zM186.8 597.7h.9v.9h-.9zM198.0 594.2h.9v.9h-.9zM190.4 595.0h.9v.9h-.9zM196.3 596.1h.9v.9h-.9zM187.1 604.7h.9v.9h-.9zM189.7 595.6h.9v.9h-.9zM197.3 601.4h.9v.9h-.9zM190.9 600.4h.9v.9h-.9zM188.1 597.2h.9v.9h-.9zM192.5 600.7h.9v.9h-.9zM190.2 598.4h.9v.9h-.9zM188.4 594.6h.9v.9h-.9zM203.4 595.2h.9v.9h-.9zM188.4 594.2h.9v.9h-.9zM197.9 596.9h.9v.9h-.9zM202.8 599.2h.9v.9h-.9zM201.9 595.4h.9v.9h-.9zM197.1 596.2h.9v.9h-.9zM192.9 595.6h.9v.9h-.9zM195.2 596.2h.9v.9h-.9zM192.2 602.8h.9v.9h-.9zM188.1 600.7h.9v.9h-.9zM194.5 599.1h.9v.9h-.9zM192.6 596.7h.9v.9h-.9zM191.6 599.1h.9v.9h-.9zM187.7 596.5h.9v.9h-.9zM194.8 599.7h.9v.9h-.9zM196.6 594.0h.9v.9h-.9zM182.8 599.1h.9v.9h-.9zM193.5 600.5h.9v.9h-.9zM186.7 600.1h.9v.9h-.9zM188.9 598.6h.9v.9h-.9zM199.9 603.0h.9v.9h-.9zM195.8 599.4h.9v.9h-.9zM185.5 602.4h.9v.9h-.9zM181.6 600.5h.9v.9h-.9zM198.0 596.2h.9v.9h-.9zM194.9 600.9h.9v.9h-.9zM182.7 598.0h.9v.9h-.9zM188.0 598.7h.9v.9h-.9zM189.0 598.5h.9v.9h-.9zM203.9 599.8h.9v.9h-.9zM193.4 595.9h.9v.9h-.9zM200.7 599.1h.9v.9h-.9zM197.1 595.8h.9v.9h-.9zM195.1 596.1h.9v.9h-.9zM198.1 603.8h.9v.9h-.9zM184.3 599.0h.9v.9h-.9zM188.9 601.8h.9v.9h-.9zM194.7 598.4h.9v.9h-.9zM186.8 600.6h.9v.9h-.9zM202.0 599.7h.9v.9h-.9zM198.7 602.6h.9v.9h-.9zM183.1 598.2h.9v.9h-.9zM199.0 598.8h.9v.9h-.9zM192.5 603.5h.9v.9h-.9zM187.9 603.4h.9v.9h-.9zM188.7 604.0h.9v.9h-.9zM182.8 601.4h.9v.9h-.9zM195.3 600.4h.9v.9h-.9zM201.8 595.5h.9v.9h-.9zM195.5 597.0h.9v.9h-.9zM199.6 595.2h.9v.9h-.9zM199.5 598.3h.9v.9h-.9zM190.2 595.7h.9v.9h-.9zM188.2 596.9h.9v.9h-.9zM198.0 600.8h.9v.9h-.9zM196.1 603.3h.9v.9h-.9zM185.7 595.7h.9v.9h-.9zM191.3 600.9h.9v.9h-.9zM191.3 599.5h.9v.9h-.9zM196.5 593.0h.9v.9h-.9zM184.7 597.5h.9v.9h-.9zM193.7 594.1h.9v.9h-.9zM204.6 596.1h.9v.9h-.9zM194.1 599.4h.9v.9h-.9zM200.7 597.4h.9v.9h-.9zM197.5 601.0h.9v.9h-.9zM193.7 594.8h.9v.9h-.9zM197.0 596.8h.9v.9h-.9zM195.2 597.1h.9v.9h-.9zM187.1 597.2h.9v.9h-.9zM193.1 604.9h.9v.9h-.9zM198.3 598.5h.9v.9h-.9zM190.7 597.2h.9v.9h-.9zM195.7 598.3h.9v.9h-.9zM185.1 600.3h.9v.9h-.9zM194.8 599.4h.9v.9h-.9zM187.2 600.3h.9v.9h-.9zM189.1 602.8h.9v.9h-.9zM189.2 605.0h.9v.9h-.9zM185.5 603.9h.9v.9h-.9zM184.3 597.0h.9v.9h-.9zM195.2 601.2h.9v.9h-.9zM188.9 595.1h.9v.9h-.9zM183.8 599.2h.9v.9h-.9zM194.1 602.2h.9v.9h-.9zM197.9 600.4h.9v.9h-.9zM201.7 600.6h.9v.9h-.9zM188.0 594.1h.9v.9h-.9zM187.8 595.1h.9v.9h-.9zM194.7 604.1h.9v.9h-.9zM191.6 600.0h.9v.9h-.9zM190.5 595.1h.9v.9h-.9zM191.0 600.6h.9v.9h-.9zM187.3 604.4h.9v.9h-.9zM199.0 596.3h.9v.9h-.9zM189.6 594.4h.9v.9h-.9zM191.3 601.2h.9v.9h-.9zM198.1 593.2h.9v.9h-.9zM201.3 593.7h.9v.9h-.9zM193.2 596.2h.9v.9h-.9zM189.4 599.8h.9v.9h-.9zM201.6 597.2h.9v.9h-.9zM190.5 603.4h.9v.9h-.9zM202.0 598.9h.9v.9h-.9zM194.4 600.5h.9v.9h-.9zM183.6 598.0h.9v.9h-.9zM202.2 598.9h.9v.9h-.9zM195.4 596.9h.9v.9h-.9zM188.2 595.7h.9v.9h-.9zM195.7 595.9h.9v.9h-.9zM187.9 596.3h.9v.9h-.9zM191.7 597.7h.9v.9h-.9zM191.5 603.2h.9v.9h-.9zM200.7 595.0h.9v.9h-.9zM191.0 600.3h.9v.9h-.9zM187.6 596.9h.9v.9h-.9zM195.2 596.1h.9v.9h-.9zM191.3 604.3h.9v.9h-.9zM199.1 601.3h.9v.9h-.9zM196.8 595.0h.9v.9h-.9zM190.8 597.9h.9v.9h-.9zM185.5 601.6h.9v.9h-.9zM190.3 599.8h.9v.9h-.9zM183.7 598.2h.9v.9h-.9zM201.8 595.7h.9v.9h-.9zM186.8 600.8h.9v.9h-.9zM194.4 598.1h.9v.9h-.9zM189.4 595.9h.9v.9h-.9zM196.3 596.9h.9v.9h-.9zM191.7 597.3h.9v.9h-.9zM196.1 593.8h.9v.9h-.9zM189.3 601.0h.9v.9h-.9zM195.7 603.4h.9v.9h-.9zM192.3 596.1h.9v.9h-.9zM198.7 594.6h.9v.9h-.9zM193.2 598.5h.9v.9h-.9zM198.3 598.3h.9v.9h-.9zM189.7 602.9h.9v.9h-.9zM200.7 600.0h.9v.9h-.9zM195.5 595.4h.9v.9h-.9zM202.7 595.9h.9v.9h-.9zM182.4 600.4h.9v.9h-.9zM183.9 596.3h.9v.9h-.9zM196.6 598.1h.9v.9h-.9zM192.7 597.6h.9v.9h-.9zM203.6 598.7h.9v.9h-.9zM186.9 596.6h.9v.9h-.9zM187.4 595.1h.9v.9h-.9zM191.9 600.9h.9v.9h-.9zM199.6 597.0h.9v.9h-.9zM199.5 596.6h.9v.9h-.9zM188.4 600.8h.9v.9h-.9zM185.2 603.8h.9v.9h-.9zM192.9 602.8h.9v.9h-.9zM193.1 597.4h.9v.9h-.9zM183.4 598.6h.9v.9h-.9zM187.9 604.6h.9v.9h-.9zM189.4 602.5h.9v.9h-.9zM197.4 596.5h.9v.9h-.9zM203.6 599.4h.9v.9h-.9zM192.7 601.1h.9v.9h-.9zM196.2 594.5h.9v.9h-.9zM194.2 601.2h.9v.9h-.9zM191.3 597.2h.9v.9h-.9zM192.7 599.5h.9v.9h-.9zM194.4 595.1h.9v.9h-.9zM193.2 597.6h.9v.9h-.9zM189.7 600.5h.9v.9h-.9zM202.2 596.2h.9v.9h-.9zM204.4 596.3h.9v.9h-.9zM194.3 599.4h.9v.9h-.9zM202.0 599.5h.9v.9h-.9zM195.9 602.5h.9v.9h-.9zM189.5 601.4h.9v.9h-.9zM198.5 600.7h.9v.9h-.9zM189.4 600.4h.9v.9h-.9zM200.7 599.2h.9v.9h-.9zM195.4 604.1h.9v.9h-.9zM197.8 598.7h.9v.9h-.9zM194.7 595.6h.9v.9h-.9zM193.6 598.7h.9v.9h-.9zM196.3 599.3h.9v.9h-.9zM192.7 597.8h.9v.9h-.9zM188.1 596.8h.9v.9h-.9zM190.4 601.4h.9v.9h-.9zM187.4 603.5h.9v.9h-.9zM197.5 595.8h.9v.9h-.9zM190.7 604.3h.9v.9h-.9zM203.3 600.6h.9v.9h-.9zM192.5 603.3h.9v.9h-.9zM200.9 598.1h.9v.9h-.9zM201.1 595.2h.9v.9h-.9zM187.9 599.4h.9v.9h-.9zM197.5 597.7h.9v.9h-.9zM199.1 603.3h.9v.9h-.9zM189.7 596.0h.9v.9h-.9zM189.0 595.6h.9v.9h-.9zM195.6 600.9h.9v.9h-.9zM191.9 596.7h.9v.9h-.9zM196.1 594.9h.9v.9h-.9zM200.1 598.0h.9v.9h-.9zM194.8 599.1h.9v.9h-.9zM191.5 596.3h.9v.9h-.9zM193.8 604.2h.9v.9h-.9zM199.7 600.5h.9v.9h-.9zM191.6 604.6h.9v.9h-.9zM194.8 602.3h.9v.9h-.9zM185.9 603.8h.9v.9h-.9zM193.5 600.3h.9v.9h-.9zM197.8 599.7h.9v.9h-.9zM197.2 601.8h.9v.9h-.9zM196.2 599.8h.9v.9h-.9zM188.9 599.0h.9v.9h-.9zM200.7 599.8h.9v.9h-.9zM184.2 602.0h.9v.9h-.9zM185.1 599.4h.9v.9h-.9zM198.8 593.8h.9v.9h-.9zM196.9 602.0h.9v.9h-.9zM196.4 597.1h.9v.9h-.9zM202.8 595.2h.9v.9h-.9zM187.1 597.4h.9v.9h-.9zM185.7 601.4h.9v.9h-.9zM189.1 604.8h.9v.9h-.9zM191.7 598.2h.9v.9h-.9zM186.0 597.5h.9v.9h-.9zM193.8 601.7h.9v.9h-.9zM196.9 600.8h.9v.9h-.9zM194.2 602.1h.9v.9h-.9zM182.7 602.5h.9v.9h-.9zM190.2 600.5h.9v.9h-.9zM194.7 599.3h.9v.9h-.9zM200.0 593.5h.9v.9h-.9zM187.6 599.7h.9v.9h-.9zM194.8 604.0h.9v.9h-.9zM190.8 597.4h.9v.9h-.9zM193.3 598.2h.9v.9h-.9zM195.2 604.5h.9v.9h-.9zM196.9 603.8h.9v.9h-.9zM199.0 595.6h.9v.9h-.9zM198.8 600.8h.9v.9h-.9zM183.6 598.2h.9v.9h-.9zM187.0 601.4h.9v.9h-.9zM193.8 599.8h.9v.9h-.9zM199.7 597.9h.9v.9h-.9zM200.8 597.7h.9v.9h-.9zM199.5 601.9h.9v.9h-.9zM189.1 604.9h.9v.9h-.9zM195.8 600.6h.9v.9h-.9zM189.5 595.5h.9v.9h-.9zM190.8 594.3h.9v.9h-.9zM199.1 598.9h.9v.9h-.9zM186.6 598.2h.9v.9h-.9zM198.1 600.9h.9v.9h-.9zM193.4 604.8h.9v.9h-.9zM192.3 597.7h.9v.9h-.9zM195.4 603.1h.9v.9h-.9zM196.4 603.0h.9v.9h-.9zM193.1 602.2h.9v.9h-.9zM186.8 599.8h.9v.9h-.9zM188.7 596.3h.9v.9h-.9zM185.6 604.7h.9v.9h-.9zM192.1 601.2h.9v.9h-.9zM189.5 601.2h.9v.9h-.9zM201.7 598.9h.9v.9h-.9zM196.8 601.3h.9v.9h-.9zM199.7 600.7h.9v.9h-.9zM198.3 600.7h.9v.9h-.9zM193.8 603.1h.9v.9h-.9zM199.1 597.7h.9v.9h-.9zM190.6 602.5h.9v.9h-.9zM189.7 602.6h.9v.9h-.9zM186.7 604.1h.9v.9h-.9zM189.5 601.5h.9v.9h-.9zM201.9 594.3h.9v.9h-.9zM195.7 596.0h.9v.9h-.9zM197.7 595.3h.9v.9h-.9zM193.5 601.5h.9v.9h-.9zM196.8 599.2h.9v.9h-.9zM181.9 601.5h.9v.9h-.9zM188.7 596.5h.9v.9h-.9zM190.7 596.7h.9v.9h-.9zM188.8 602.9h.9v.9h-.9zM194.8 595.0h.9v.9h-.9zM204.5 596.7h.9v.9h-.9zM190.7 604.1h.9v.9h-.9zM189.6 596.9h.9v.9h-.9zM185.8 597.7h.9v.9h-.9zM194.0 599.1h.9v.9h-.9zM202.8 597.2h.9v.9h-.9z" fill="#ececec"/><path d="M178.2 598.2h.9v.9h-.9zM189.0 593.7h.9v.9h-.9zM183.0 596.7h.9v.9h-.9zM180.8 598.9h.9v.9h-.9zM184.4 607.2h.9v.9h-.9zM203.4 588.8h.9v.9h-.9zM190.2 590.3h.9v.9h-.9zM174.5 603.8h.9v.9h-.9zM211.5 596.0h.9v.9h-.9zM202.4 591.9h.9v.9h-.9zM181.9 602.8h.9v.9h-.9zM199.6 592.5h.9v.9h-.9zM197.4 602.6h.9v.9h-.9zM206.7 598.7h.9v.9h-.9zM208.6 591.6h.9v.9h-.9zM206.1 596.6h.9v.9h-.9zM212.8 594.1h.9v.9h-.9zM200.5 604.9h.9v.9h-.9zM179.3 601.5h.9v.9h-.9zM184.0 595.1h.9v.9h-.9zM182.6 598.2h.9v.9h-.9zM198.4 591.1h.9v.9h-.9zM186.8 608.0h.9v.9h-.9zM197.8 602.0h.9v.9h-.9zM204.1 592.9h.9v.9h-.9zM183.1 602.5h.9v.9h-.9zM203.3 592.5h.9v.9h-.9zM179.5 604.3h.9v.9h-.9zM189.4 606.8h.9v.9h-.9zM174.0 603.3h.9v.9h-.9zM198.5 602.7h.9v.9h-.9zM203.8 601.7h.9v.9h-.9zM189.9 600.7h.9v.9h-.9zM208.9 598.0h.9v.9h-.9zM195.7 604.6h.9v.9h-.9zM203.1 601.9h.9v.9h-.9zM192.2 608.7h.9v.9h-.9zM184.3 594.5h.9v.9h-.9zM189.7 601.1h.9v.9h-.9zM204.6 601.5h.9v.9h-.9zM183.9 600.6h.9v.9h-.9zM190.7 603.1h.9v.9h-.9zM207.8 591.2h.9v.9h-.9zM209.3 597.7h.9v.9h-.9zM192.0 597.6h.9v.9h-.9zM176.8 598.1h.9v.9h-.9zM178.5 604.9h.9v.9h-.9zM213.5 595.4h.9v.9h-.9zM208.8 602.6h.9v.9h-.9zM196.5 594.4h.9v.9h-.9zM185.2 591.8h.9v.9h-.9zM184.0 596.2h.9v.9h-.9zM209.6 598.4h.9v.9h-.9zM193.2 606.0h.9v.9h-.9zM183.3 595.4h.9v.9h-.9zM196.6 603.0h.9v.9h-.9zM187.3 592.0h.9v.9h-.9zM194.8 605.4h.9v.9h-.9zM184.5 609.4h.9v.9h-.9zM182.6 597.2h.9v.9h-.9zM188.8 602.7h.9v.9h-.9zM183.1 601.8h.9v.9h-.9zM181.5 601.4h.9v.9h-.9zM182.6 594.7h.9v.9h-.9zM197.2 594.3h.9v.9h-.9zM203.8 605.6h.9v.9h-.9zM191.7 594.3h.9v.9h-.9zM177.8 594.2h.9v.9h-.9zM178.7 604.6h.9v.9h-.9zM180.4 603.7h.9v.9h-.9zM207.3 594.6h.9v.9h-.9zM208.7 599.3h.9v.9h-.9zM190.1 606.5h.9v.9h-.9zM177.6 602.7h.9v.9h-.9zM200.5 605.5h.9v.9h-.9zM207.4 600.6h.9v.9h-.9zM182.6 598.6h.9v.9h-.9zM204.7 600.8h.9v.9h-.9zM179.3 601.9h.9v.9h-.9zM176.2 599.2h.9v.9h-.9zM210.4 602.2h.9v.9h-.9zM207.6 597.1h.9v.9h-.9zM189.2 608.0h.9v.9h-.9zM203.7 592.1h.9v.9h-.9zM184.4 608.5h.9v.9h-.9zM206.8 592.8h.9v.9h-.9zM188.1 598.5h.9v.9h-.9zM176.6 599.9h.9v.9h-.9zM201.4 602.9h.9v.9h-.9zM193.7 597.5h.9v.9h-.9zM198.5 590.4h.9v.9h-.9zM207.3 596.8h.9v.9h-.9zM205.1 597.7h.9v.9h-.9zM193.2 606.2h.9v.9h-.9zM175.1 598.6h.9v.9h-.9zM194.0 591.0h.9v.9h-.9zM188.4 608.8h.9v.9h-.9zM177.6 601.3h.9v.9h-.9zM182.2 599.1h.9v.9h-.9zM194.8 603.8h.9v.9h-.9zM180.2 603.7h.9v.9h-.9zM188.2 608.2h.9v.9h-.9zM189.0 598.6h.9v.9h-.9zM182.6 608.4h.9v.9h-.9zM198.8 605.2h.9v.9h-.9zM203.0 591.6h.9v.9h-.9zM208.0 598.6h.9v.9h-.9zM178.4 601.8h.9v.9h-.9zM207.5 599.1h.9v.9h-.9zM191.1 601.5h.9v.9h-.9zM180.6 597.4h.9v.9h-.9zM193.7 607.7h.9v.9h-.9zM181.2 593.1h.9v.9h-.9zM195.3 599.3h.9v.9h-.9zM205.3 599.3h.9v.9h-.9zM198.4 596.5h.9v.9h-.9zM177.6 601.8h.9v.9h-.9zM195.7 592.6h.9v.9h-.9zM207.8 599.6h.9v.9h-.9zM199.8 606.8h.9v.9h-.9zM191.4 588.9h.9v.9h-.9zM187.8 605.5h.9v.9h-.9zM202.9 604.4h.9v.9h-.9zM179.7 603.5h.9v.9h-.9zM192.1 596.6h.9v.9h-.9zM207.2 592.1h.9v.9h-.9zM186.2 605.4h.9v.9h-.9zM205.0 590.8h.9v.9h-.9zM197.4 602.1h.9v.9h-.9zM205.7 598.5h.9v.9h-.9zM183.0 598.9h.9v.9h-.9zM185.7 592.8h.9v.9h-.9zM176.7 599.3h.9v.9h-.9zM204.0 590.7h.9v.9h-.9zM210.9 595.9h.9v.9h-.9zM178.4 601.1h.9v.9h-.9zM195.8 606.3h.9v.9h-.9zM181.7 607.1h.9v.9h-.9zM178.1 600.4h.9v.9h-.9zM187.5 607.0h.9v.9h-.9zM196.8 605.9h.9v.9h-.9zM202.7 593.9h.9v.9h-.9zM180.6 600.3h.9v.9h-.9zM179.7 600.3h.9v.9h-.9zM178.3 603.6h.9v.9h-.9zM179.2 608.6h.9v.9h-.9zM181.1 600.3h.9v.9h-.9zM189.5 598.8h.9v.9h-.9zM176.8 606.5h.9v.9h-.9zM182.6 607.4h.9v.9h-.9zM180.6 605.6h.9v.9h-.9zM184.2 605.2h.9v.9h-.9zM182.3 597.5h.9v.9h-.9zM172.7 601.8h.9v.9h-.9zM191.4 593.6h.9v.9h-.9zM186.0 593.8h.9v.9h-.9zM209.3 601.1h.9v.9h-.9zM208.9 599.1h.9v.9h-.9zM181.1 604.7h.9v.9h-.9zM180.4 598.9h.9v.9h-.9zM185.3 604.8h.9v.9h-.9zM181.9 604.9h.9v.9h-.9zM191.8 609.1h.9v.9h-.9zM186.5 590.4h.9v.9h-.9zM195.9 592.3h.9v.9h-.9zM194.8 601.2h.9v.9h-.9zM190.0 596.5h.9v.9h-.9zM205.6 604.9h.9v.9h-.9zM203.7 600.6h.9v.9h-.9zM204.0 600.6h.9v.9h-.9zM207.6 598.0h.9v.9h-.9zM202.8 606.1h.9v.9h-.9zM174.4 599.2h.9v.9h-.9zM189.1 596.8h.9v.9h-.9zM182.6 600.6h.9v.9h-.9zM187.4 602.1h.9v.9h-.9zM174.0 603.1h.9v.9h-.9zM198.4 601.6h.9v.9h-.9zM183.5 604.9h.9v.9h-.9zM195.7 606.0h.9v.9h-.9zM207.9 598.4h.9v.9h-.9zM190.1 602.1h.9v.9h-.9zM212.2 595.5h.9v.9h-.9zM174.2 602.5h.9v.9h-.9zM208.2 601.2h.9v.9h-.9zM201.2 588.8h.9v.9h-.9zM175.1 606.3h.9v.9h-.9zM197.8 604.0h.9v.9h-.9zM184.9 592.4h.9v.9h-.9zM195.4 588.9h.9v.9h-.9zM211.3 592.0h.9v.9h-.9zM207.2 600.7h.9v.9h-.9zM186.3 606.5h.9v.9h-.9zM180.8 604.9h.9v.9h-.9zM200.3 591.3h.9v.9h-.9zM178.6 604.5h.9v.9h-.9zM203.6 592.2h.9v.9h-.9zM183.7 604.7h.9v.9h-.9zM192.7 599.0h.9v.9h-.9zM203.9 595.0h.9v.9h-.9zM193.8 604.1h.9v.9h-.9zM183.8 606.9h.9v.9h-.9zM184.5 605.3h.9v.9h-.9zM203.0 593.6h.9v.9h-.9zM186.3 593.7h.9v.9h-.9zM202.9 603.1h.9v.9h-.9zM190.7 606.2h.9v.9h-.9zM208.3 595.2h.9v.9h-.9zM187.4 591.7h.9v.9h-.9zM201.5 603.7h.9v.9h-.9zM194.9 593.7h.9v.9h-.9zM193.9 594.1h.9v.9h-.9zM192.5 592.8h.9v.9h-.9zM182.9 592.6h.9v.9h-.9zM190.7 607.1h.9v.9h-.9zM192.9 603.2h.9v.9h-.9zM175.2 599.3h.9v.9h-.9zM188.8 607.3h.9v.9h-.9zM180.8 594.8h.9v.9h-.9zM179.9 600.0h.9v.9h-.9zM201.5 590.9h.9v.9h-.9zM182.1 605.1h.9v.9h-.9zM202.3 589.2h.9v.9h-.9zM203.6 603.9h.9v.9h-.9zM206.4 591.2h.9v.9h-.9zM186.8 591.7h.9v.9h-.9zM212.0 594.1h.9v.9h-.9zM199.2 601.3h.9v.9h-.9zM180.4 603.6h.9v.9h-.9zM196.8 606.1h.9v.9h-.9zM187.2 606.3h.9v.9h-.9zM189.5 592.3h.9v.9h-.9zM178.5 601.0h.9v.9h-.9zM177.7 604.1h.9v.9h-.9zM183.7 602.1h.9v.9h-.9zM186.2 602.8h.9v.9h-.9zM190.7 592.7h.9v.9h-.9zM192.9 606.1h.9v.9h-.9zM210.5 594.4h.9v.9h-.9zM207.5 592.1h.9v.9h-.9zM200.0 599.2h.9v.9h-.9zM203.2 590.4h.9v.9h-.9zM193.0 604.2h.9v.9h-.9zM192.2 600.7h.9v.9h-.9zM188.3 600.6h.9v.9h-.9zM205.0 604.8h.9v.9h-.9zM204.6 601.5h.9v.9h-.9zM195.8 602.6h.9v.9h-.9zM206.5 591.9h.9v.9h-.9zM179.4 608.2h.9v.9h-.9zM183.4 597.9h.9v.9h-.9zM200.7 589.1h.9v.9h-.9zM201.6 593.2h.9v.9h-.9zM179.1 597.4h.9v.9h-.9zM204.9 599.0h.9v.9h-.9zM183.7 592.8h.9v.9h-.9zM182.0 594.0h.9v.9h-.9zM198.7 590.9h.9v.9h-.9zM193.7 597.4h.9v.9h-.9zM200.0 595.6h.9v.9h-.9zM209.0 602.2h.9v.9h-.9zM173.5 598.9h.9v.9h-.9zM181.5 595.9h.9v.9h-.9zM191.2 604.8h.9v.9h-.9zM202.9 603.4h.9v.9h-.9zM193.0 598.3h.9v.9h-.9zM206.5 602.2h.9v.9h-.9zM181.0 600.3h.9v.9h-.9zM180.1 596.1h.9v.9h-.9zM189.2 589.8h.9v.9h-.9zM177.7 604.8h.9v.9h-.9zM188.3 607.1h.9v.9h-.9zM201.1 603.4h.9v.9h-.9zM193.4 607.8h.9v.9h-.9zM185.0 591.8h.9v.9h-.9zM193.8 603.2h.9v.9h-.9zM207.9 594.6h.9v.9h-.9zM183.8 594.4h.9v.9h-.9zM192.0 601.1h.9v.9h-.9zM203.3 597.7h.9v.9h-.9zM203.3 601.4h.9v.9h-.9zM179.9 605.9h.9v.9h-.9zM196.9 590.4h.9v.9h-.9zM202.9 604.1h.9v.9h-.9zM188.9 596.7h.9v.9h-.9zM183.9 594.7h.9v.9h-.9zM208.6 598.8h.9v.9h-.9zM202.7 601.4h.9v.9h-.9zM191.3 592.1h.9v.9h-.9zM205.0 594.5h.9v.9h-.9zM186.9 595.6h.9v.9h-.9zM208.8 596.8h.9v.9h-.9zM205.2 597.8h.9v.9h-.9zM204.6 598.3h.9v.9h-.9zM201.0 606.3h.9v.9h-.9zM180.3 602.2h.9v.9h-.9zM203.0 589.0h.9v.9h-.9zM184.1 594.4h.9v.9h-.9zM201.3 605.3h.9v.9h-.9zM183.5 596.2h.9v.9h-.9zM184.2 592.7h.9v.9h-.9zM183.9 607.0h.9v.9h-.9zM193.0 600.5h.9v.9h-.9zM184.1 603.8h.9v.9h-.9zM180.7 594.6h.9v.9h-.9zM200.6 606.6h.9v.9h-.9zM194.0 609.2h.9v.9h-.9zM190.9 595.0h.9v.9h-.9zM193.1 600.9h.9v.9h-.9zM181.1 607.0h.9v.9h-.9zM197.8 588.8h.9v.9h-.9zM207.1 601.1h.9v.9h-.9zM205.8 601.7h.9v.9h-.9zM186.4 593.0h.9v.9h-.9zM193.9 588.5h.9v.9h-.9zM211.2 593.2h.9v.9h-.9zM189.1 598.2h.9v.9h-.9zM203.2 601.7h.9v.9h-.9zM183.0 607.5h.9v.9h-.9zM193.4 596.3h.9v.9h-.9zM184.3 604.7h.9v.9h-.9zM176.3 603.2h.9v.9h-.9zM178.5 603.7h.9v.9h-.9zM202.1 601.9h.9v.9h-.9zM193.5 593.0h.9v.9h-.9zM196.7 600.3h.9v.9h-.9zM200.9 603.5h.9v.9h-.9zM184.6 602.8h.9v.9h-.9zM206.8 594.5h.9v.9h-.9zM176.5 603.8h.9v.9h-.9zM209.6 602.4h.9v.9h-.9zM211.5 596.4h.9v.9h-.9zM203.2 588.8h.9v.9h-.9zM205.8 590.7h.9v.9h-.9zM209.3 591.2h.9v.9h-.9zM188.9 590.4h.9v.9h-.9zM194.1 607.0h.9v.9h-.9zM184.1 609.4h.9v.9h-.9zM201.5 592.4h.9v.9h-.9zM184.3 608.8h.9v.9h-.9zM212.4 597.2h.9v.9h-.9zM197.8 604.0h.9v.9h-.9zM206.3 591.3h.9v.9h-.9zM174.7 596.7h.9v.9h-.9zM207.4 598.1h.9v.9h-.9zM189.7 593.8h.9v.9h-.9zM172.9 601.0h.9v.9h-.9zM199.4 604.4h.9v.9h-.9zM206.9 596.5h.9v.9h-.9zM199.3 596.1h.9v.9h-.9zM178.5 594.2h.9v.9h-.9zM182.1 604.1h.9v.9h-.9zM187.7 590.9h.9v.9h-.9zM177.4 597.2h.9v.9h-.9zM187.5 591.4h.9v.9h-.9zM203.6 595.0h.9v.9h-.9zM211.2 600.0h.9v.9h-.9zM201.4 602.4h.9v.9h-.9z" fill="#bdbdbd"/><path d="M183.2 605.7h.9v.9h-.9zM181.6 609.9h.9v.9h-.9zM177.2 605.2h.9v.9h-.9zM179.7 598.0h.9v.9h-.9zM205.3 584.8h.9v.9h-.9zM172.6 608.1h.9v.9h-.9zM186.1 594.1h.9v.9h-.9zM172.2 597.5h.9v.9h-.9zM212.0 603.2h.9v.9h-.9zM204.5 581.6h.9v.9h-.9zM180.1 600.8h.9v.9h-.9zM178.5 597.3h.9v.9h-.9zM204.5 604.8h.9v.9h-.9zM217.7 598.2h.9v.9h-.9zM185.7 611.3h.9v.9h-.9zM203.7 604.4h.9v.9h-.9zM192.3 609.7h.9v.9h-.9zM174.3 606.0h.9v.9h-.9zM202.2 610.6h.9v.9h-.9zM184.9 606.7h.9v.9h-.9zM212.3 603.8h.9v.9h-.9zM207.7 591.7h.9v.9h-.9zM206.7 595.7h.9v.9h-.9zM178.0 593.4h.9v.9h-.9zM213.3 587.9h.9v.9h-.9zM200.7 606.0h.9v.9h-.9zM202.9 588.0h.9v.9h-.9zM210.2 589.9h.9v.9h-.9zM182.2 610.6h.9v.9h-.9zM204.4 607.6h.9v.9h-.9zM210.7 603.1h.9v.9h-.9zM219.8 605.5h.9v.9h-.9zM208.2 608.8h.9v.9h-.9zM188.6 586.2h.9v.9h-.9zM207.5 598.5h.9v.9h-.9zM173.9 599.3h.9v.9h-.9zM209.1 602.6h.9v.9h-.9zM176.9 608.9h.9v.9h-.9zM203.6 592.5h.9v.9h-.9zM224.7 588.8h.9v.9h-.9zM209.2 586.7h.9v.9h-.9zM215.0 595.6h.9v.9h-.9zM207.0 594.8h.9v.9h-.9zM199.3 587.3h.9v.9h-.9zM205.8 604.2h.9v.9h-.9zM205.7 608.8h.9v.9h-.9zM173.6 609.1h.9v.9h-.9zM197.1 605.4h.9v.9h-.9zM205.8 588.2h.9v.9h-.9zM200.5 608.9h.9v.9h-.9zM195.2 587.7h.9v.9h-.9zM213.7 581.7h.9v.9h-.9zM216.9 595.5h.9v.9h-.9zM195.9 590.2h.9v.9h-.9zM185.8 610.8h.9v.9h-.9zM201.4 605.2h.9v.9h-.9zM190.9 592.8h.9v.9h-.9zM219.8 609.9h.9v.9h-.9zM172.4 594.6h.9v.9h-.9zM196.0 586.5h.9v.9h-.9zM210.3 605.9h.9v.9h-.9zM208.9 589.2h.9v.9h-.9zM196.9 589.3h.9v.9h-.9zM195.9 609.1h.9v.9h-.9zM177.5 593.4h.9v.9h-.9zM206.9 591.1h.9v.9h-.9zM211.5 600.5h.9v.9h-.9zM200.2 587.4h.9v.9h-.9zM187.4 605.8h.9v.9h-.9zM198.1 587.7h.9v.9h-.9zM202.5 609.2h.9v.9h-.9zM172.8 606.5h.9v.9h-.9zM179.4 604.6h.9v.9h-.9zM205.4 608.3h.9v.9h-.9zM196.4 585.0h.9v.9h-.9zM188.3 606.3h.9v.9h-.9zM178.8 605.1h.9v.9h-.9zM218.6 594.2h.9v.9h-.9zM181.3 597.1h.9v.9h-.9zM206.1 599.7h.9v.9h-.9zM206.6 601.2h.9v.9h-.9zM200.9 593.0h.9v.9h-.9zM212.6 601.9h.9v.9h-.9zM179.6 601.5h.9v.9h-.9zM196.3 609.7h.9v.9h-.9zM218.8 595.3h.9v.9h-.9zM189.9 591.2h.9v.9h-.9zM191.8 591.3h.9v.9h-.9zM176.9 594.2h.9v.9h-.9zM209.9 608.4h.9v.9h-.9zM213.9 590.7h.9v.9h-.9zM215.9 604.7h.9v.9h-.9zM194.6 609.4h.9v.9h-.9zM205.9 602.5h.9v.9h-.9zM202.3 607.1h.9v.9h-.9zM204.7 591.8h.9v.9h-.9zM191.1 587.6h.9v.9h-.9zM212.3 606.1h.9v.9h-.9zM203.6 604.9h.9v.9h-.9zM173.9 605.6h.9v.9h-.9zM178.9 611.0h.9v.9h-.9zM177.1 607.1h.9v.9h-.9zM174.1 610.5h.9v.9h-.9zM178.2 592.4h.9v.9h-.9zM213.1 598.0h.9v.9h-.9zM196.7 591.9h.9v.9h-.9zM214.8 581.5h.9v.9h-.9zM204.6 599.7h.9v.9h-.9zM199.9 606.0h.9v.9h-.9zM180.4 610.7h.9v.9h-.9zM216.7 594.1h.9v.9h-.9zM173.4 604.0h.9v.9h-.9zM215.4 598.2h.9v.9h-.9zM209.5 605.6h.9v.9h-.9zM196.7 611.2h.9v.9h-.9zM179.3 590.1h.9v.9h-.9zM211.3 596.8h.9v.9h-.9zM209.6 594.6h.9v.9h-.9zM196.5 592.7h.9v.9h-.9zM217.5 604.5h.9v.9h-.9zM203.8 588.3h.9v.9h-.9zM200.7 590.1h.9v.9h-.9zM182.4 591.0h.9v.9h-.9zM176.9 591.2h.9v.9h-.9zM208.4 580.9h.9v.9h-.9zM194.6 587.1h.9v.9h-.9zM174.1 609.1h.9v.9h-.9zM189.5 611.4h.9v.9h-.9zM183.3 609.5h.9v.9h-.9zM219.8 603.4h.9v.9h-.9zM213.8 605.8h.9v.9h-.9zM213.4 592.8h.9v.9h-.9zM205.0 606.7h.9v.9h-.9zM176.3 604.1h.9v.9h-.9zM205.2 596.2h.9v.9h-.9zM179.7 596.4h.9v.9h-.9zM199.5 585.1h.9v.9h-.9zM219.5 595.4h.9v.9h-.9zM205.2 605.8h.9v.9h-.9zM176.6 598.5h.9v.9h-.9zM172.3 596.9h.9v.9h-.9zM180.1 591.9h.9v.9h-.9zM213.9 586.8h.9v.9h-.9zM214.5 600.7h.9v.9h-.9zM206.8 609.3h.9v.9h-.9zM209.3 597.0h.9v.9h-.9zM193.4 588.4h.9v.9h-.9zM204.4 587.8h.9v.9h-.9zM182.5 584.8h.9v.9h-.9zM213.5 604.0h.9v.9h-.9zM204.4 608.9h.9v.9h-.9zM197.0 588.7h.9v.9h-.9zM187.5 608.2h.9v.9h-.9zM200.9 593.3h.9v.9h-.9zM206.2 593.5h.9v.9h-.9zM223.3 597.3h.9v.9h-.9zM209.9 588.4h.9v.9h-.9zM200.7 587.6h.9v.9h-.9zM213.1 587.3h.9v.9h-.9zM203.2 588.2h.9v.9h-.9zM211.1 605.9h.9v.9h-.9zM184.8 593.2h.9v.9h-.9zM199.5 584.7h.9v.9h-.9zM176.0 593.2h.9v.9h-.9zM202.0 592.2h.9v.9h-.9zM184.6 588.0h.9v.9h-.9zM204.6 608.2h.9v.9h-.9zM192.4 587.9h.9v.9h-.9zM213.5 587.2h.9v.9h-.9zM205.2 593.9h.9v.9h-.9zM193.7 605.6h.9v.9h-.9zM173.0 595.2h.9v.9h-.9zM204.2 586.2h.9v.9h-.9z" fill="#8a8a8a"/></g>
<ellipse cx="213" cy="596" rx="7.199999999999999" ry="6.0" fill="#d4d4d4" opacity="0.33" filter="url(#cb)" transform="rotate(-25 213 596)"/>
<g filter="url(#db)"><path d="M216.4 598.9h.9v.9h-.9zM209.7 598.2h.9v.9h-.9zM211.3 601.4h.9v.9h-.9zM209.6 599.5h.9v.9h-.9zM217.8 597.9h.9v.9h-.9zM208.4 598.8h.9v.9h-.9zM210.8 601.0h.9v.9h-.9zM214.0 597.4h.9v.9h-.9zM211.8 598.2h.9v.9h-.9zM210.8 599.7h.9v.9h-.9zM212.0 601.2h.9v.9h-.9zM216.1 597.2h.9v.9h-.9zM212.6 595.7h.9v.9h-.9zM212.6 590.7h.9v.9h-.9zM208.2 595.0h.9v.9h-.9zM209.5 593.2h.9v.9h-.9zM214.6 594.2h.9v.9h-.9zM211.9 593.4h.9v.9h-.9zM212.5 593.7h.9v.9h-.9zM210.8 592.8h.9v.9h-.9zM210.8 595.0h.9v.9h-.9zM210.9 593.2h.9v.9h-.9zM214.1 600.7h.9v.9h-.9zM211.8 593.5h.9v.9h-.9zM211.7 593.7h.9v.9h-.9zM211.2 599.8h.9v.9h-.9zM210.4 592.2h.9v.9h-.9zM215.2 597.7h.9v.9h-.9zM216.5 596.8h.9v.9h-.9zM212.4 599.1h.9v.9h-.9zM215.5 592.8h.9v.9h-.9zM211.0 597.8h.9v.9h-.9zM215.5 597.5h.9v.9h-.9zM208.8 598.2h.9v.9h-.9zM214.8 597.9h.9v.9h-.9zM209.1 593.0h.9v.9h-.9zM208.8 593.4h.9v.9h-.9zM209.0 596.6h.9v.9h-.9zM219.1 594.9h.9v.9h-.9zM213.1 595.2h.9v.9h-.9zM216.2 592.7h.9v.9h-.9zM208.0 597.8h.9v.9h-.9zM210.1 594.7h.9v.9h-.9zM207.5 596.9h.9v.9h-.9zM207.0 596.7h.9v.9h-.9zM214.9 595.3h.9v.9h-.9zM208.0 599.1h.9v.9h-.9zM211.9 592.6h.9v.9h-.9zM214.0 590.3h.9v.9h-.9zM215.4 595.8h.9v.9h-.9zM214.3 598.6h.9v.9h-.9zM211.0 594.9h.9v.9h-.9zM216.9 594.3h.9v.9h-.9zM214.6 597.5h.9v.9h-.9zM217.8 593.6h.9v.9h-.9zM209.8 594.0h.9v.9h-.9zM214.7 594.0h.9v.9h-.9zM209.5 597.9h.9v.9h-.9zM214.5 595.0h.9v.9h-.9zM212.9 593.5h.9v.9h-.9zM210.3 592.9h.9v.9h-.9zM218.4 597.1h.9v.9h-.9zM214.6 595.3h.9v.9h-.9zM215.4 599.2h.9v.9h-.9zM207.3 598.5h.9v.9h-.9zM208.7 597.5h.9v.9h-.9zM207.6 598.2h.9v.9h-.9zM208.7 599.5h.9v.9h-.9zM215.5 598.7h.9v.9h-.9zM212.5 597.3h.9v.9h-.9zM212.9 592.3h.9v.9h-.9zM208.0 598.8h.9v.9h-.9zM209.7 599.8h.9v.9h-.9zM215.4 597.8h.9v.9h-.9zM218.6 594.1h.9v.9h-.9zM218.4 593.9h.9v.9h-.9zM213.8 596.7h.9v.9h-.9zM208.4 595.2h.9v.9h-.9zM218.1 594.7h.9v.9h-.9zM215.9 599.3h.9v.9h-.9zM216.9 593.8h.9v.9h-.9z" fill="#ececec"/><path d="M214.5 599.0h.9v.9h-.9zM208.2 602.3h.9v.9h-.9zM216.3 597.8h.9v.9h-.9zM217.7 599.6h.9v.9h-.9zM218.8 592.2h.9v.9h-.9zM216.0 597.2h.9v.9h-.9zM209.1 592.7h.9v.9h-.9zM215.4 587.7h.9v.9h-.9zM205.4 591.9h.9v.9h-.9zM212.1 589.3h.9v.9h-.9zM210.9 599.0h.9v.9h-.9zM212.4 601.9h.9v.9h-.9zM203.3 594.4h.9v.9h-.9zM217.4 590.4h.9v.9h-.9zM212.2 595.3h.9v.9h-.9zM208.7 589.2h.9v.9h-.9zM218.6 591.1h.9v.9h-.9zM219.5 601.6h.9v.9h-.9zM210.3 589.8h.9v.9h-.9zM215.0 595.5h.9v.9h-.9zM221.9 593.0h.9v.9h-.9zM216.3 596.6h.9v.9h-.9zM204.7 594.6h.9v.9h-.9zM215.7 597.8h.9v.9h-.9zM205.4 603.1h.9v.9h-.9zM203.6 596.6h.9v.9h-.9zM211.6 586.7h.9v.9h-.9zM215.0 590.1h.9v.9h-.9zM202.4 596.6h.9v.9h-.9zM207.6 599.9h.9v.9h-.9zM204.2 601.7h.9v.9h-.9zM206.5 594.0h.9v.9h-.9zM212.8 588.2h.9v.9h-.9zM216.0 600.7h.9v.9h-.9zM207.8 592.0h.9v.9h-.9zM203.1 597.5h.9v.9h-.9zM207.9 596.9h.9v.9h-.9zM206.2 594.0h.9v.9h-.9zM206.5 593.9h.9v.9h-.9zM214.8 594.8h.9v.9h-.9zM211.2 592.5h.9v.9h-.9zM210.1 603.5h.9v.9h-.9zM214.1 598.5h.9v.9h-.9zM219.6 598.9h.9v.9h-.9zM218.6 598.9h.9v.9h-.9zM217.3 603.2h.9v.9h-.9zM213.4 592.1h.9v.9h-.9zM221.3 596.4h.9v.9h-.9zM213.0 602.2h.9v.9h-.9zM210.6 598.6h.9v.9h-.9zM208.0 598.1h.9v.9h-.9zM209.2 589.0h.9v.9h-.9zM219.7 600.0h.9v.9h-.9zM208.7 592.6h.9v.9h-.9zM220.3 595.6h.9v.9h-.9zM203.2 600.8h.9v.9h-.9zM220.6 588.4h.9v.9h-.9zM206.7 591.1h.9v.9h-.9zM220.7 594.8h.9v.9h-.9zM210.8 604.0h.9v.9h-.9zM212.6 596.3h.9v.9h-.9zM219.0 587.9h.9v.9h-.9zM206.5 598.3h.9v.9h-.9zM210.2 602.0h.9v.9h-.9zM218.0 599.9h.9v.9h-.9zM210.8 588.5h.9v.9h-.9zM207.9 603.4h.9v.9h-.9zM204.6 600.9h.9v.9h-.9zM209.9 604.6h.9v.9h-.9zM205.8 592.5h.9v.9h-.9zM209.9 593.3h.9v.9h-.9zM204.5 598.7h.9v.9h-.9zM222.9 597.6h.9v.9h-.9zM204.7 600.6h.9v.9h-.9zM219.7 601.7h.9v.9h-.9zM208.9 602.4h.9v.9h-.9zM211.7 603.8h.9v.9h-.9zM205.5 595.8h.9v.9h-.9z" fill="#bdbdbd"/><path d="M203.5 586.7h.9v.9h-.9zM215.6 589.4h.9v.9h-.9zM201.2 592.5h.9v.9h-.9zM210.3 608.5h.9v.9h-.9zM218.5 587.5h.9v.9h-.9zM208.8 606.8h.9v.9h-.9zM199.8 599.6h.9v.9h-.9zM211.4 605.6h.9v.9h-.9zM223.6 594.7h.9v.9h-.9zM226.0 596.6h.9v.9h-.9zM207.8 610.2h.9v.9h-.9zM229.4 585.5h.9v.9h-.9zM210.5 604.4h.9v.9h-.9zM204.3 598.5h.9v.9h-.9zM203.6 603.8h.9v.9h-.9zM217.0 584.7h.9v.9h-.9zM212.0 590.0h.9v.9h-.9zM224.8 587.1h.9v.9h-.9zM216.1 606.4h.9v.9h-.9zM215.3 602.5h.9v.9h-.9zM200.3 596.6h.9v.9h-.9zM203.8 605.9h.9v.9h-.9zM224.1 598.1h.9v.9h-.9zM228.3 582.1h.9v.9h-.9zM203.7 603.3h.9v.9h-.9zM218.1 591.7h.9v.9h-.9zM230.4 593.3h.9v.9h-.9zM219.6 594.2h.9v.9h-.9zM216.2 585.1h.9v.9h-.9zM198.4 593.3h.9v.9h-.9zM223.8 588.0h.9v.9h-.9zM222.7 601.3h.9v.9h-.9zM226.4 585.9h.9v.9h-.9zM197.9 595.9h.9v.9h-.9zM213.8 609.4h.9v.9h-.9zM223.4 598.3h.9v.9h-.9zM203.6 588.8h.9v.9h-.9zM206.2 591.3h.9v.9h-.9zM212.8 602.7h.9v.9h-.9zM205.2 605.7h.9v.9h-.9zM221.0 601.7h.9v.9h-.9zM207.9 603.2h.9v.9h-.9zM215.2 581.4h.9v.9h-.9zM230.0 587.4h.9v.9h-.9zM218.2 590.1h.9v.9h-.9zM211.8 607.4h.9v.9h-.9zM223.4 598.6h.9v.9h-.9zM219.7 599.3h.9v.9h-.9zM218.8 598.2h.9v.9h-.9zM207.2 587.8h.9v.9h-.9zM222.7 600.7h.9v.9h-.9zM220.8 579.2h.9v.9h-.9zM197.9 595.4h.9v.9h-.9zM218.8 591.0h.9v.9h-.9zM215.9 585.6h.9v.9h-.9zM220.4 587.4h.9v.9h-.9zM216.3 585.2h.9v.9h-.9zM224.7 598.7h.9v.9h-.9zM216.7 584.8h.9v.9h-.9zM206.3 595.2h.9v.9h-.9zM208.8 607.0h.9v.9h-.9z" fill="#8a8a8a"/></g>
<line x1="205.5" y1="539.8" x2="205.5" y2="612.4" stroke="#8a8a8a" stroke-width="0.9"/>
<line x1="172" y1="584.6" x2="249" y2="584.6" stroke="#8a8a8a" stroke-width="0.9"/>
<text x="191.2" y="575.4" font-size="4.8" fill="#c4c4c4" class="q" text-anchor="middle" font-family="Liberation Sans, sans-serif">Q1</text>
<text x="219.9" y="575.4" font-size="4.8" fill="#c4c4c4" class="q" text-anchor="middle" font-family="Liberation Sans, sans-serif">Q2</text>
<text x="193" y="599.9" font-size="4.8" fill="#c4c4c4" class="q" text-anchor="middle" font-family="Liberation Sans, sans-serif">Q3</text>
<text x="221" y="599.9" font-size="4.8" fill="#c4c4c4" class="q" text-anchor="middle" font-family="Liberation Sans, sans-serif">Q4</text>
<text x="248.5" y="611.4" font-size="11" text-anchor="end" font-family="Liberation Serif, serif" class="w" font-weight="bold" fill="#fff" letter-spacing="-0.35">11.2%</text>
<path d="M169.4 611.40h2.6M169.4 606.09h2.6M169.4 602.98h2.6M169.4 600.77h2.6M169.4 599.06h2.6M169.4 597.67h2.6M169.4 596.48h2.6M169.4 595.46h2.6M169.4 594.56h2.6M169.4 593.75h2.6M169.4 588.44h2.6M169.4 585.33h2.6M169.4 583.12h2.6M169.4 581.41h2.6M169.4 580.02h2.6M169.4 578.83h2.6M169.4 577.81h2.6M169.4 576.91h2.6M169.4 576.10h2.6M169.4 570.79h2.6M169.4 567.68h2.6M169.4 565.47h2.6M169.4 563.76h2.6M169.4 562.37h2.6M169.4 561.18h2.6M169.4 560.16h2.6M169.4 559.26h2.6M169.4 558.45h2.6M169.4 553.14h2.6M169.4 550.03h2.6M169.4 547.82h2.6M169.4 546.11h2.6M169.4 544.72h2.6M169.4 543.53h2.6M169.4 542.51h2.6M169.4 541.61h2.6M169.4 540.80h2.6" stroke="#555" stroke-width="0.6"/>
<path d="M173.00 612.4v2.8M178.64 612.4v2.8M181.95 612.4v2.8M184.29 612.4v2.8M186.11 612.4v2.8M187.59 612.4v2.8M188.85 612.4v2.8M189.93 612.4v2.8M190.89 612.4v2.8M191.75 612.4v2.8M197.39 612.4v2.8M200.70 612.4v2.8M203.04 612.4v2.8M204.86 612.4v2.8M206.34 612.4v2.8M207.60 612.4v2.8M208.68 612.4v2.8M209.64 612.4v2.8M210.50 612.4v2.8M216.14 612.4v2.8M219.45 612.4v2.8M221.79 612.4v2.8M223.61 612.4v2.8M225.09 612.4v2.8M226.35 612.4v2.8M227.43 612.4v2.8M228.39 612.4v2.8M229.25 612.4v2.8M234.89 612.4v2.8M238.20 612.4v2.8M240.54 612.4v2.8M242.36 612.4v2.8M243.84 612.4v2.8M245.10 612.4v2.8M246.18 612.4v2.8M247.14 612.4v2.8M248.00 612.4v2.8" stroke="#555" stroke-width="0.6"/>
<text x="211" y="537.8" font-size="9" text-anchor="middle" font-family="Liberation Serif, serif" class="b"><tspan font-style="italic">SET</tspan> siRNA exon 8</text>
<text class="b" transform="translate(163.5,575.0999999999999) rotate(-90)" font-size="9" text-anchor="middle" font-family="Liberation Serif, serif">side scatter</text>
<text x="203" y="627.5" font-size="9" text-anchor="middle" font-family="Liberation Serif, serif" class="b">TCR gd</text>
<rect x="314" y="539.8" width="81.80000000000001" height="72.5" fill="#000"/>
<ellipse cx="345" cy="599" rx="10.799999999999999" ry="5.04" fill="#d4d4d4" opacity="0.94" filter="url(#cb)" transform="rotate(-20 345 599)"/>
<g filter="url(#db)"><path d="M347.8 597.9h.9v.9h-.9zM345.6 596.8h.9v.9h-.9zM343.6 594.7h.9v.9h-.9zM340.0 604.3h.9v.9h-.9zM350.0 596.9h.9v.9h-.9zM336.9 602.1h.9v.9h-.9zM344.8 600.9h.9v.9h-.9zM342.7 601.5h.9v.9h-.9zM337.4 601.0h.9v.9h-.9zM348.2 594.5h.9v.9h-.9zM352.3 595.2h.9v.9h-.9zM337.3 603.3h.9v.9h-.9zM347.5 600.7h.9v.9h-.9zM341.7 597.0h.9v.9h-.9zM337.6 601.5h.9v.9h-.9zM350.7 599.8h.9v.9h-.9zM339.2 599.8h.9v.9h-.9zM340.1 604.5h.9v.9h-.9zM343.1 598.9h.9v.9h-.9zM347.3 595.9h.9v.9h-.9zM343.5 599.5h.9v.9h-.9zM344.3 602.7h.9v.9h-.9zM346.1 600.5h.9v.9h-.9zM351.3 595.7h.9v.9h-.9zM347.2 595.3h.9v.9h-.9zM340.8 602.4h.9v.9h-.9zM352.4 595.1h.9v.9h-.9zM343.0 599.7h.9v.9h-.9zM348.2 601.8h.9v.9h-.9zM339.1 597.3h.9v.9h-.9zM342.3 595.9h.9v.9h-.9zM351.3 598.7h.9v.9h-.9zM337.0 602.4h.9v.9h-.9zM345.9 595.4h.9v.9h-.9zM347.2 593.8h.9v.9h-.9zM348.9 599.9h.9v.9h-.9zM339.0 600.4h.9v.9h-.9zM342.0 600.3h.9v.9h-.9zM342.5 597.5h.9v.9h-.9zM343.9 597.3h.9v.9h-.9zM346.5 597.4h.9v.9h-.9zM338.7 601.5h.9v.9h-.9zM337.4 602.8h.9v.9h-.9zM343.6 597.3h.9v.9h-.9zM346.0 599.8h.9v.9h-.9zM344.3 600.9h.9v.9h-.9zM335.8 602.0h.9v.9h-.9zM350.1 601.3h.9v.9h-.9zM343.8 598.7h.9v.9h-.9zM345.6 595.1h.9v.9h-.9zM345.8 596.6h.9v.9h-.9zM352.8 595.2h.9v.9h-.9zM354.3 596.9h.9v.9h-.9zM349.1 602.1h.9v.9h-.9zM345.0 601.5h.9v.9h-.9zM354.3 596.6h.9v.9h-.9zM342.4 601.6h.9v.9h-.9zM349.9 597.5h.9v.9h-.9zM340.4 600.4h.9v.9h-.9zM340.0 602.5h.9v.9h-.9zM346.0 597.5h.9v.9h-.9zM342.6 596.3h.9v.9h-.9zM349.9 601.6h.9v.9h-.9zM338.3 599.5h.9v.9h-.9zM342.3 598.5h.9v.9h-.9zM339.9 604.1h.9v.9h-.9zM341.6 599.6h.9v.9h-.9zM348.9 600.7h.9v.9h-.9zM350.6 597.8h.9v.9h-.9zM339.1 604.1h.9v.9h-.9zM347.4 595.3h.9v.9h-.9zM349.1 595.1h.9v.9h-.9zM338.0 602.2h.9v.9h-.9zM339.3 599.8h.9v.9h-.9zM349.4 598.9h.9v.9h-.9zM348.2 594.8h.9v.9h-.9zM344.1 599.8h.9v.9h-.9zM344.2 599.8h.9v.9h-.9zM344.9 599.1h.9v.9h-.9zM338.6 601.2h.9v.9h-.9zM352.8 595.4h.9v.9h-.9zM347.8 596.5h.9v.9h-.9zM341.1 602.1h.9v.9h-.9zM337.6 600.1h.9v.9h-.9zM342.8 601.3h.9v.9h-.9zM343.9 601.3h.9v.9h-.9zM346.3 595.4h.9v.9h-.9zM337.4 601.9h.9v.9h-.9zM354.2 595.6h.9v.9h-.9zM340.8 598.5h.9v.9h-.9zM347.0 599.8h.9v.9h-.9zM353.0 594.8h.9v.9h-.9zM353.8 597.4h.9v.9h-.9zM340.8 602.8h.9v.9h-.9zM347.0 598.2h.9v.9h-.9zM352.5 596.6h.9v.9h-.9zM341.2 602.5h.9v.9h-.9zM350.8 595.9h.9v.9h-.9zM340.0 603.5h.9v.9h-.9zM346.4 598.1h.9v.9h-.9zM348.4 594.0h.9v.9h-.9zM347.5 597.4h.9v.9h-.9zM348.2 599.8h.9v.9h-.9zM351.3 598.8h.9v.9h-.9zM352.0 599.0h.9v.9h-.9zM347.2 599.7h.9v.9h-.9zM342.5 602.7h.9v.9h-.9zM342.9 597.5h.9v.9h-.9zM344.3 602.8h.9v.9h-.9zM347.9 601.8h.9v.9h-.9zM336.9 602.5h.9v.9h-.9zM340.1 597.6h.9v.9h-.9zM344.4 604.0h.9v.9h-.9zM339.9 604.1h.9v.9h-.9zM353.5 595.4h.9v.9h-.9zM340.9 601.8h.9v.9h-.9zM346.2 602.4h.9v.9h-.9zM344.5 600.8h.9v.9h-.9zM342.8 599.9h.9v.9h-.9zM339.4 598.5h.9v.9h-.9zM347.3 593.7h.9v.9h-.9zM339.0 597.5h.9v.9h-.9zM342.8 602.6h.9v.9h-.9zM354.3 596.0h.9v.9h-.9zM342.4 595.9h.9v.9h-.9zM336.6 600.8h.9v.9h-.9zM343.6 602.3h.9v.9h-.9zM344.7 599.1h.9v.9h-.9zM343.3 596.7h.9v.9h-.9zM343.4 601.2h.9v.9h-.9zM343.8 597.2h.9v.9h-.9zM347.8 599.6h.9v.9h-.9zM338.2 601.1h.9v.9h-.9zM350.9 595.5h.9v.9h-.9zM349.8 595.2h.9v.9h-.9zM348.7 600.7h.9v.9h-.9zM338.6 602.6h.9v.9h-.9zM342.1 596.9h.9v.9h-.9zM347.8 594.4h.9v.9h-.9zM341.4 597.8h.9v.9h-.9zM339.7 600.4h.9v.9h-.9zM349.9 599.5h.9v.9h-.9zM341.5 599.1h.9v.9h-.9zM344.6 597.8h.9v.9h-.9zM346.6 594.9h.9v.9h-.9zM343.7 599.0h.9v.9h-.9zM345.0 600.1h.9v.9h-.9zM340.7 599.4h.9v.9h-.9zM345.6 598.7h.9v.9h-.9zM340.3 600.8h.9v.9h-.9zM345.7 596.5h.9v.9h-.9zM339.7 602.6h.9v.9h-.9zM343.2 600.2h.9v.9h-.9zM343.3 596.6h.9v.9h-.9zM349.1 597.2h.9v.9h-.9zM337.8 603.7h.9v.9h-.9zM337.1 600.3h.9v.9h-.9zM338.3 603.3h.9v.9h-.9zM346.5 598.9h.9v.9h-.9zM338.7 604.3h.9v.9h-.9zM337.0 602.7h.9v.9h-.9zM350.1 599.4h.9v.9h-.9zM337.7 599.9h.9v.9h-.9zM346.2 595.9h.9v.9h-.9zM339.9 599.9h.9v.9h-.9zM345.2 596.4h.9v.9h-.9zM347.3 600.4h.9v.9h-.9zM342.1 604.0h.9v.9h-.9zM350.1 595.5h.9v.9h-.9zM345.2 601.3h.9v.9h-.9zM351.4 598.1h.9v.9h-.9zM346.3 602.3h.9v.9h-.9zM336.5 599.7h.9v.9h-.9zM346.8 596.5h.9v.9h-.9zM350.1 598.9h.9v.9h-.9zM347.5 598.0h.9v.9h-.9zM342.6 602.2h.9v.9h-.9zM348.8 600.6h.9v.9h-.9zM345.6 598.0h.9v.9h-.9zM350.7 599.6h.9v.9h-.9zM342.8 597.8h.9v.9h-.9zM345.5 600.8h.9v.9h-.9zM342.5 604.0h.9v.9h-.9zM342.1 603.4h.9v.9h-.9zM340.6 596.3h.9v.9h-.9zM347.2 597.9h.9v.9h-.9zM351.3 596.9h.9v.9h-.9zM343.4 595.1h.9v.9h-.9zM340.8 597.1h.9v.9h-.9zM345.9 598.5h.9v.9h-.9zM350.6 600.2h.9v.9h-.9zM347.4 594.3h.9v.9h-.9zM338.6 602.6h.9v.9h-.9zM349.2 598.5h.9v.9h-.9zM352.3 599.7h.9v.9h-.9zM345.6 599.7h.9v.9h-.9zM344.9 600.3h.9v.9h-.9zM340.3 598.8h.9v.9h-.9zM339.8 601.1h.9v.9h-.9zM352.9 596.3h.9v.9h-.9zM341.2 599.1h.9v.9h-.9zM344.0 602.0h.9v.9h-.9zM348.4 597.0h.9v.9h-.9zM345.3 599.9h.9v.9h-.9zM348.9 595.2h.9v.9h-.9zM353.9 596.3h.9v.9h-.9zM346.1 602.9h.9v.9h-.9zM345.9 597.9h.9v.9h-.9zM340.4 599.5h.9v.9h-.9zM340.3 601.8h.9v.9h-.9zM354.1 596.2h.9v.9h-.9zM348.1 602.6h.9v.9h-.9zM342.8 603.3h.9v.9h-.9zM350.7 600.8h.9v.9h-.9zM348.1 596.8h.9v.9h-.9zM340.6 601.9h.9v.9h-.9zM337.5 600.3h.9v.9h-.9zM352.8 594.4h.9v.9h-.9zM348.1 595.6h.9v.9h-.9zM348.0 597.7h.9v.9h-.9zM347.3 598.7h.9v.9h-.9zM352.4 595.3h.9v.9h-.9zM338.3 600.5h.9v.9h-.9zM351.4 596.7h.9v.9h-.9zM336.0 601.6h.9v.9h-.9zM339.1 598.3h.9v.9h-.9zM338.7 600.9h.9v.9h-.9zM353.5 595.4h.9v.9h-.9zM342.7 603.5h.9v.9h-.9zM349.7 594.8h.9v.9h-.9zM339.8 598.7h.9v.9h-.9zM349.1 600.6h.9v.9h-.9zM352.1 597.8h.9v.9h-.9zM344.8 599.2h.9v.9h-.9zM345.9 603.0h.9v.9h-.9zM351.6 596.7h.9v.9h-.9zM342.4 604.1h.9v.9h-.9zM344.5 600.0h.9v.9h-.9zM351.3 599.3h.9v.9h-.9zM342.6 602.3h.9v.9h-.9zM350.6 595.6h.9v.9h-.9zM341.2 597.5h.9v.9h-.9zM350.4 599.8h.9v.9h-.9z" fill="#ececec"/><path d="M347.4 604.1h.9v.9h-.9zM360.3 595.3h.9v.9h-.9zM345.7 606.4h.9v.9h-.9zM348.6 603.9h.9v.9h-.9zM349.3 592.7h.9v.9h-.9zM353.8 598.5h.9v.9h-.9zM348.8 597.7h.9v.9h-.9zM344.0 606.1h.9v.9h-.9zM340.7 605.9h.9v.9h-.9zM353.3 601.6h.9v.9h-.9zM345.8 593.9h.9v.9h-.9zM339.0 596.5h.9v.9h-.9zM352.7 600.0h.9v.9h-.9zM333.2 601.5h.9v.9h-.9zM348.7 592.6h.9v.9h-.9zM358.0 593.0h.9v.9h-.9zM331.2 607.1h.9v.9h-.9zM350.4 594.6h.9v.9h-.9zM343.8 600.8h.9v.9h-.9zM341.4 598.7h.9v.9h-.9zM331.9 606.7h.9v.9h-.9zM357.6 590.8h.9v.9h-.9zM333.3 601.3h.9v.9h-.9zM354.9 600.8h.9v.9h-.9zM348.3 602.5h.9v.9h-.9zM333.5 601.2h.9v.9h-.9zM357.1 600.1h.9v.9h-.9zM352.8 590.2h.9v.9h-.9zM350.0 596.3h.9v.9h-.9zM350.1 601.9h.9v.9h-.9zM336.3 604.1h.9v.9h-.9zM359.6 595.5h.9v.9h-.9zM342.4 606.7h.9v.9h-.9zM333.1 600.5h.9v.9h-.9zM351.1 598.5h.9v.9h-.9zM352.6 596.4h.9v.9h-.9zM337.8 594.3h.9v.9h-.9zM344.2 590.9h.9v.9h-.9zM335.8 606.0h.9v.9h-.9zM334.7 604.1h.9v.9h-.9zM357.0 595.2h.9v.9h-.9zM343.0 606.4h.9v.9h-.9zM350.4 603.2h.9v.9h-.9zM341.5 605.6h.9v.9h-.9zM355.3 600.1h.9v.9h-.9zM342.3 595.7h.9v.9h-.9zM338.2 604.7h.9v.9h-.9zM353.6 599.6h.9v.9h-.9zM333.1 596.6h.9v.9h-.9zM344.1 595.7h.9v.9h-.9zM347.7 603.8h.9v.9h-.9zM343.1 605.3h.9v.9h-.9zM348.5 598.7h.9v.9h-.9zM357.8 597.0h.9v.9h-.9zM338.9 601.3h.9v.9h-.9zM334.9 602.4h.9v.9h-.9zM347.8 592.3h.9v.9h-.9zM357.2 594.5h.9v.9h-.9zM349.8 601.9h.9v.9h-.9zM333.2 604.3h.9v.9h-.9zM338.2 594.6h.9v.9h-.9zM337.1 605.2h.9v.9h-.9zM341.7 597.8h.9v.9h-.9zM347.0 601.7h.9v.9h-.9zM357.1 598.7h.9v.9h-.9zM358.5 595.0h.9v.9h-.9zM339.7 595.6h.9v.9h-.9zM352.4 600.9h.9v.9h-.9zM330.7 600.8h.9v.9h-.9zM336.7 603.7h.9v.9h-.9zM348.0 596.5h.9v.9h-.9zM354.8 596.0h.9v.9h-.9zM345.2 593.1h.9v.9h-.9zM343.3 604.5h.9v.9h-.9zM337.5 597.5h.9v.9h-.9zM344.5 599.8h.9v.9h-.9zM355.4 597.4h.9v.9h-.9zM336.5 602.3h.9v.9h-.9zM340.7 592.6h.9v.9h-.9zM354.8 599.4h.9v.9h-.9zM352.6 591.7h.9v.9h-.9zM357.6 590.4h.9v.9h-.9zM347.1 604.1h.9v.9h-.9zM343.3 606.9h.9v.9h-.9zM341.4 605.2h.9v.9h-.9zM331.4 601.6h.9v.9h-.9zM337.0 598.4h.9v.9h-.9zM331.6 602.4h.9v.9h-.9zM333.9 596.6h.9v.9h-.9zM333.3 602.2h.9v.9h-.9zM351.5 601.7h.9v.9h-.9zM349.3 589.9h.9v.9h-.9zM358.4 591.1h.9v.9h-.9zM358.2 598.6h.9v.9h-.9zM332.3 597.3h.9v.9h-.9zM339.9 608.3h.9v.9h-.9zM342.0 606.3h.9v.9h-.9zM349.9 592.5h.9v.9h-.9zM345.1 591.4h.9v.9h-.9zM347.4 604.7h.9v.9h-.9zM338.1 604.2h.9v.9h-.9zM339.2 593.5h.9v.9h-.9zM351.4 591.9h.9v.9h-.9zM335.2 604.4h.9v.9h-.9zM345.8 602.1h.9v.9h-.9zM350.5 594.3h.9v.9h-.9zM334.1 597.4h.9v.9h-.9zM354.7 592.4h.9v.9h-.9zM335.7 608.3h.9v.9h-.9zM343.5 594.5h.9v.9h-.9zM352.4 603.9h.9v.9h-.9zM342.8 601.4h.9v.9h-.9zM333.7 602.4h.9v.9h-.9zM335.1 599.6h.9v.9h-.9zM346.2 600.0h.9v.9h-.9zM338.7 607.7h.9v.9h-.9zM348.7 605.4h.9v.9h-.9zM357.3 597.2h.9v.9h-.9zM340.7 597.9h.9v.9h-.9zM346.5 601.3h.9v.9h-.9zM338.3 608.1h.9v.9h-.9zM345.5 591.8h.9v.9h-.9zM348.7 604.6h.9v.9h-.9zM329.9 600.9h.9v.9h-.9zM330.8 601.9h.9v.9h-.9zM359.7 595.4h.9v.9h-.9zM335.6 595.9h.9v.9h-.9zM332.9 605.9h.9v.9h-.9zM349.6 602.7h.9v.9h-.9zM339.6 595.6h.9v.9h-.9zM342.5 603.3h.9v.9h-.9zM347.7 594.7h.9v.9h-.9zM351.9 599.3h.9v.9h-.9zM344.8 592.0h.9v.9h-.9zM356.8 590.8h.9v.9h-.9zM337.7 602.3h.9v.9h-.9zM345.1 601.2h.9v.9h-.9zM355.9 598.6h.9v.9h-.9zM351.5 590.4h.9v.9h-.9zM358.3 598.8h.9v.9h-.9zM341.7 606.4h.9v.9h-.9zM335.3 607.9h.9v.9h-.9zM351.4 591.5h.9v.9h-.9zM357.6 597.9h.9v.9h-.9zM335.2 604.8h.9v.9h-.9zM345.1 600.2h.9v.9h-.9zM358.8 593.7h.9v.9h-.9zM358.2 596.0h.9v.9h-.9zM333.7 604.7h.9v.9h-.9zM351.7 593.2h.9v.9h-.9zM350.8 596.7h.9v.9h-.9zM342.6 603.3h.9v.9h-.9zM340.8 593.1h.9v.9h-.9zM338.4 608.3h.9v.9h-.9zM357.1 599.1h.9v.9h-.9zM334.2 596.7h.9v.9h-.9zM337.1 596.9h.9v.9h-.9zM341.6 602.7h.9v.9h-.9zM338.0 602.4h.9v.9h-.9zM346.8 605.3h.9v.9h-.9zM354.8 599.4h.9v.9h-.9zM347.5 591.9h.9v.9h-.9zM355.3 598.8h.9v.9h-.9zM336.1 605.6h.9v.9h-.9zM344.1 600.3h.9v.9h-.9zM346.6 604.4h.9v.9h-.9zM338.0 604.4h.9v.9h-.9zM332.0 602.7h.9v.9h-.9zM338.4 606.7h.9v.9h-.9zM339.2 600.6h.9v.9h-.9zM340.3 606.5h.9v.9h-.9zM358.4 594.2h.9v.9h-.9zM348.1 592.8h.9v.9h-.9zM338.6 607.8h.9v.9h-.9zM347.2 599.1h.9v.9h-.9zM346.2 604.0h.9v.9h-.9zM358.8 593.1h.9v.9h-.9zM356.8 593.9h.9v.9h-.9zM344.8 602.6h.9v.9h-.9zM350.3 595.6h.9v.9h-.9zM335.0 597.9h.9v.9h-.9zM334.6 603.6h.9v.9h-.9zM353.7 600.6h.9v.9h-.9zM346.0 594.2h.9v.9h-.9zM339.9 597.6h.9v.9h-.9zM350.6 600.8h.9v.9h-.9zM338.2 605.2h.9v.9h-.9zM356.5 591.2h.9v.9h-.9zM357.0 598.8h.9v.9h-.9zM355.7 601.1h.9v.9h-.9zM340.6 603.6h.9v.9h-.9zM348.2 593.5h.9v.9h-.9zM343.9 593.7h.9v.9h-.9zM344.4 601.0h.9v.9h-.9zM334.1 601.9h.9v.9h-.9zM348.1 596.9h.9v.9h-.9zM337.5 596.1h.9v.9h-.9zM352.4 600.8h.9v.9h-.9zM352.2 600.9h.9v.9h-.9zM330.1 605.1h.9v.9h-.9zM353.0 591.5h.9v.9h-.9zM329.9 601.4h.9v.9h-.9zM341.2 595.3h.9v.9h-.9zM343.1 598.6h.9v.9h-.9zM355.6 597.8h.9v.9h-.9zM345.9 603.5h.9v.9h-.9zM357.5 592.5h.9v.9h-.9zM355.3 597.1h.9v.9h-.9zM338.4 596.3h.9v.9h-.9zM343.0 606.7h.9v.9h-.9zM341.3 595.4h.9v.9h-.9zM331.1 602.1h.9v.9h-.9zM355.4 595.2h.9v.9h-.9zM345.9 604.4h.9v.9h-.9zM348.4 604.8h.9v.9h-.9zM341.2 596.5h.9v.9h-.9zM331.1 606.1h.9v.9h-.9zM353.5 593.4h.9v.9h-.9zM336.7 599.5h.9v.9h-.9zM347.1 606.4h.9v.9h-.9zM348.3 595.9h.9v.9h-.9zM343.4 593.6h.9v.9h-.9zM355.7 598.8h.9v.9h-.9zM339.9 597.1h.9v.9h-.9zM332.6 598.7h.9v.9h-.9zM332.7 604.6h.9v.9h-.9zM333.8 597.7h.9v.9h-.9zM331.5 605.0h.9v.9h-.9zM355.5 596.1h.9v.9h-.9zM343.4 605.4h.9v.9h-.9zM358.0 599.2h.9v.9h-.9zM361.1 595.0h.9v.9h-.9zM341.9 603.6h.9v.9h-.9zM353.8 595.9h.9v.9h-.9zM340.1 592.7h.9v.9h-.9zM345.4 596.7h.9v.9h-.9zM351.3 599.4h.9v.9h-.9zM346.8 592.8h.9v.9h-.9zM358.4 597.8h.9v.9h-.9zM354.0 597.5h.9v.9h-.9zM354.9 595.3h.9v.9h-.9zM330.4 603.4h.9v.9h-.9zM334.3 606.7h.9v.9h-.9zM342.2 594.2h.9v.9h-.9zM341.7 599.5h.9v.9h-.9zM344.1 601.5h.9v.9h-.9zM339.9 593.8h.9v.9h-.9zM350.9 603.7h.9v.9h-.9zM340.4 602.8h.9v.9h-.9zM351.4 591.9h.9v.9h-.9zM336.3 597.7h.9v.9h-.9zM345.4 596.6h.9v.9h-.9zM351.9 604.4h.9v.9h-.9zM353.4 599.6h.9v.9h-.9zM337.7 596.1h.9v.9h-.9zM343.1 600.9h.9v.9h-.9zM349.3 589.8h.9v.9h-.9z" fill="#bdbdbd"/><path d="M352.2 605.2h.9v.9h-.9zM336.9 607.1h.9v.9h-.9zM352.7 607.4h.9v.9h-.9zM354.1 600.3h.9v.9h-.9zM348.5 591.9h.9v.9h-.9zM327.9 603.4h.9v.9h-.9zM357.5 589.4h.9v.9h-.9zM345.6 594.0h.9v.9h-.9zM341.5 591.1h.9v.9h-.9zM358.4 602.4h.9v.9h-.9zM330.0 604.1h.9v.9h-.9zM337.3 604.6h.9v.9h-.9zM350.9 605.7h.9v.9h-.9zM364.7 592.9h.9v.9h-.9zM330.1 609.9h.9v.9h-.9zM328.2 602.0h.9v.9h-.9zM335.3 609.3h.9v.9h-.9zM348.9 593.4h.9v.9h-.9zM364.5 596.3h.9v.9h-.9zM351.8 608.2h.9v.9h-.9zM328.7 609.7h.9v.9h-.9zM364.0 596.0h.9v.9h-.9zM342.9 606.5h.9v.9h-.9zM363.6 598.4h.9v.9h-.9zM329.6 599.5h.9v.9h-.9zM345.5 611.3h.9v.9h-.9zM365.0 591.1h.9v.9h-.9zM356.4 598.6h.9v.9h-.9zM356.1 605.1h.9v.9h-.9zM345.1 585.2h.9v.9h-.9zM337.3 591.5h.9v.9h-.9zM347.3 590.0h.9v.9h-.9zM350.5 605.6h.9v.9h-.9zM327.6 599.4h.9v.9h-.9zM336.5 592.1h.9v.9h-.9zM331.7 594.9h.9v.9h-.9zM319.7 598.9h.9v.9h-.9zM334.4 591.9h.9v.9h-.9zM334.5 599.8h.9v.9h-.9zM359.0 593.3h.9v.9h-.9zM326.6 601.7h.9v.9h-.9zM359.8 596.5h.9v.9h-.9zM325.2 600.5h.9v.9h-.9zM325.3 606.6h.9v.9h-.9zM339.8 595.3h.9v.9h-.9zM346.6 593.4h.9v.9h-.9zM362.0 592.9h.9v.9h-.9zM346.7 604.0h.9v.9h-.9zM353.9 588.5h.9v.9h-.9zM338.9 594.9h.9v.9h-.9zM330.3 606.0h.9v.9h-.9zM356.7 598.3h.9v.9h-.9zM333.3 610.2h.9v.9h-.9zM330.5 604.2h.9v.9h-.9zM359.0 588.8h.9v.9h-.9zM323.9 608.3h.9v.9h-.9zM361.6 594.3h.9v.9h-.9zM366.9 597.6h.9v.9h-.9zM358.5 587.2h.9v.9h-.9zM324.1 610.7h.9v.9h-.9zM334.4 601.6h.9v.9h-.9zM333.3 610.1h.9v.9h-.9zM356.9 605.9h.9v.9h-.9zM332.8 602.2h.9v.9h-.9zM362.5 593.2h.9v.9h-.9zM341.7 594.4h.9v.9h-.9zM364.0 588.6h.9v.9h-.9zM329.9 608.5h.9v.9h-.9zM352.4 592.3h.9v.9h-.9zM359.4 589.5h.9v.9h-.9zM352.2 602.9h.9v.9h-.9zM326.3 607.7h.9v.9h-.9zM330.1 611.1h.9v.9h-.9zM361.8 590.9h.9v.9h-.9zM324.7 603.4h.9v.9h-.9zM354.9 596.2h.9v.9h-.9zM364.7 590.1h.9v.9h-.9zM358.4 601.7h.9v.9h-.9zM374.4 593.8h.9v.9h-.9zM359.8 591.2h.9v.9h-.9zM328.0 606.1h.9v.9h-.9zM331.5 599.5h.9v.9h-.9zM326.1 602.0h.9v.9h-.9zM343.6 593.7h.9v.9h-.9zM356.6 587.2h.9v.9h-.9zM355.9 589.7h.9v.9h-.9zM347.3 589.6h.9v.9h-.9zM341.4 595.5h.9v.9h-.9zM358.6 596.7h.9v.9h-.9zM358.2 587.7h.9v.9h-.9zM348.4 608.1h.9v.9h-.9zM338.1 610.9h.9v.9h-.9zM341.3 605.7h.9v.9h-.9zM329.5 598.1h.9v.9h-.9zM329.1 608.5h.9v.9h-.9zM344.7 589.6h.9v.9h-.9zM336.5 593.3h.9v.9h-.9zM369.1 593.8h.9v.9h-.9zM336.4 609.5h.9v.9h-.9zM355.0 603.6h.9v.9h-.9zM351.5 593.5h.9v.9h-.9zM334.0 607.6h.9v.9h-.9zM338.5 610.5h.9v.9h-.9zM345.8 593.1h.9v.9h-.9zM347.1 589.4h.9v.9h-.9zM341.5 591.0h.9v.9h-.9zM345.3 608.1h.9v.9h-.9zM336.9 605.0h.9v.9h-.9zM335.0 593.0h.9v.9h-.9zM344.9 610.2h.9v.9h-.9zM357.1 590.0h.9v.9h-.9zM352.7 586.5h.9v.9h-.9zM355.1 589.3h.9v.9h-.9zM339.0 588.3h.9v.9h-.9zM338.0 609.9h.9v.9h-.9zM330.2 599.9h.9v.9h-.9zM326.0 601.0h.9v.9h-.9zM362.5 598.3h.9v.9h-.9zM373.4 596.0h.9v.9h-.9zM320.8 606.3h.9v.9h-.9zM334.7 595.2h.9v.9h-.9zM328.7 601.8h.9v.9h-.9zM357.4 598.4h.9v.9h-.9zM322.7 600.5h.9v.9h-.9zM357.6 597.5h.9v.9h-.9zM340.5 607.8h.9v.9h-.9zM326.9 602.6h.9v.9h-.9zM328.2 589.4h.9v.9h-.9zM355.5 592.3h.9v.9h-.9zM352.6 604.6h.9v.9h-.9zM351.2 593.2h.9v.9h-.9zM363.7 591.6h.9v.9h-.9zM341.6 593.3h.9v.9h-.9zM353.3 593.3h.9v.9h-.9zM362.7 591.2h.9v.9h-.9zM360.1 598.2h.9v.9h-.9zM344.7 589.0h.9v.9h-.9zM326.9 606.7h.9v.9h-.9zM349.2 603.9h.9v.9h-.9zM355.0 596.0h.9v.9h-.9zM342.6 594.7h.9v.9h-.9zM350.0 606.7h.9v.9h-.9zM351.4 589.0h.9v.9h-.9zM359.0 597.4h.9v.9h-.9zM358.7 598.7h.9v.9h-.9z" fill="#8a8a8a"/></g>
<line x1="347" y1="539.8" x2="347" y2="612.3" stroke="#8a8a8a" stroke-width="0.9"/>
<line x1="314" y1="585.2" x2="395.8" y2="585.2" stroke="#8a8a8a" stroke-width="0.9"/>
<text x="335.6" y="577.6999999999999" font-size="4.8" fill="#c4c4c4" class="q" text-anchor="middle" font-family="Liberation Sans, sans-serif">Q1</text>
<text x="357.3" y="577.6999999999999" font-size="4.8" fill="#c4c4c4" class="q" text-anchor="middle" font-family="Liberation Sans, sans-serif">Q2</text>
<text x="336" y="593.9" font-size="4.8" fill="#c4c4c4" class="q" text-anchor="middle" font-family="Liberation Sans, sans-serif">Q3</text>
<text x="358" y="593.9" font-size="4.8" fill="#c4c4c4" class="q" text-anchor="middle" font-family="Liberation Sans, sans-serif">Q4</text>
<text x="395.3" y="611.3" font-size="11" text-anchor="end" font-family="Liberation Serif, serif" class="w" font-weight="bold" fill="#fff" letter-spacing="-0.35">45.1%</text>
<path d="M311.4 611.30h2.6M311.4 605.99h2.6M311.4 602.89h2.6M311.4 600.69h2.6M311.4 598.98h2.6M311.4 597.59h2.6M311.4 596.41h2.6M311.4 595.38h2.6M311.4 594.48h2.6M311.4 593.67h2.6M311.4 588.37h2.6M311.4 585.27h2.6M311.4 583.06h2.6M311.4 581.36h2.6M311.4 579.96h2.6M311.4 578.78h2.6M311.4 577.76h2.6M311.4 576.86h2.6M311.4 576.05h2.6M311.4 570.74h2.6M311.4 567.64h2.6M311.4 565.44h2.6M311.4 563.73h2.6M311.4 562.34h2.6M311.4 561.16h2.6M311.4 560.13h2.6M311.4 559.23h2.6M311.4 558.42h2.6M311.4 553.12h2.6M311.4 550.02h2.6M311.4 547.81h2.6M311.4 546.11h2.6M311.4 544.71h2.6M311.4 543.53h2.6M311.4 542.51h2.6M311.4 541.61h2.6M311.4 540.80h2.6" stroke="#555" stroke-width="0.6"/>
<path d="M315.00 612.3v2.8M321.01 612.3v2.8M324.52 612.3v2.8M327.01 612.3v2.8M328.94 612.3v2.8M330.52 612.3v2.8M331.86 612.3v2.8M333.02 612.3v2.8M334.04 612.3v2.8M334.95 612.3v2.8M340.96 612.3v2.8M344.47 612.3v2.8M346.96 612.3v2.8M348.89 612.3v2.8M350.47 612.3v2.8M351.81 612.3v2.8M352.97 612.3v2.8M353.99 612.3v2.8M354.90 612.3v2.8M360.91 612.3v2.8M364.42 612.3v2.8M366.91 612.3v2.8M368.84 612.3v2.8M370.42 612.3v2.8M371.76 612.3v2.8M372.92 612.3v2.8M373.94 612.3v2.8M374.85 612.3v2.8M380.86 612.3v2.8M384.37 612.3v2.8M386.86 612.3v2.8M388.79 612.3v2.8M390.37 612.3v2.8M391.71 612.3v2.8M392.87 612.3v2.8M393.89 612.3v2.8M394.80 612.3v2.8" stroke="#555" stroke-width="0.6"/>
<text x="357" y="537.8" font-size="9" text-anchor="middle" font-family="Liberation Serif, serif" class="b"><tspan font-style="italic">SET</tspan> siRNA exon 5</text>
<text class="b" transform="translate(305.5,575.05) rotate(-90)" font-size="9" text-anchor="middle" font-family="Liberation Serif, serif">side scatter</text>
<text x="356" y="627.5" font-size="9" text-anchor="middle" font-family="Liberation Serif, serif" class="b">TCR gd</text>
<rect x="27.5" y="653.8" width="83.0" height="73.80000000000007" fill="#000"/>
<ellipse cx="71" cy="716" rx="12.0" ry="5.3999999999999995" fill="#d4d4d4" opacity="0.83" filter="url(#cb)" transform="rotate(-18 71 716)"/>
<g filter="url(#db)"><path d="M70.1 713.0h.9v.9h-.9zM79.4 715.3h.9v.9h-.9zM68.2 715.2h.9v.9h-.9zM79.5 711.7h.9v.9h-.9zM70.4 712.9h.9v.9h-.9zM65.0 719.2h.9v.9h-.9zM80.1 711.2h.9v.9h-.9zM70.0 718.4h.9v.9h-.9zM76.6 715.4h.9v.9h-.9zM67.0 720.6h.9v.9h-.9zM76.0 716.7h.9v.9h-.9zM64.2 721.0h.9v.9h-.9zM70.0 717.4h.9v.9h-.9zM69.4 712.0h.9v.9h-.9zM66.6 720.2h.9v.9h-.9zM73.4 718.9h.9v.9h-.9zM75.6 714.2h.9v.9h-.9zM71.5 714.0h.9v.9h-.9zM77.5 716.2h.9v.9h-.9zM72.1 718.2h.9v.9h-.9zM64.0 721.6h.9v.9h-.9zM66.9 718.0h.9v.9h-.9zM69.6 711.5h.9v.9h-.9zM61.2 716.7h.9v.9h-.9zM73.7 716.1h.9v.9h-.9zM73.7 713.3h.9v.9h-.9zM66.7 716.0h.9v.9h-.9zM78.1 713.1h.9v.9h-.9zM73.6 713.4h.9v.9h-.9zM77.3 716.2h.9v.9h-.9zM62.1 717.6h.9v.9h-.9zM64.4 716.5h.9v.9h-.9zM75.6 710.9h.9v.9h-.9zM62.7 718.5h.9v.9h-.9zM70.3 719.8h.9v.9h-.9zM64.2 717.5h.9v.9h-.9zM62.1 718.9h.9v.9h-.9zM71.6 717.6h.9v.9h-.9zM67.0 721.7h.9v.9h-.9zM77.0 717.9h.9v.9h-.9zM63.2 718.1h.9v.9h-.9zM67.9 719.5h.9v.9h-.9zM68.4 716.8h.9v.9h-.9zM68.8 718.9h.9v.9h-.9zM73.7 713.5h.9v.9h-.9zM68.2 717.2h.9v.9h-.9zM68.5 714.0h.9v.9h-.9zM63.9 719.3h.9v.9h-.9zM71.1 714.5h.9v.9h-.9zM64.9 717.6h.9v.9h-.9zM77.5 716.8h.9v.9h-.9zM61.7 719.2h.9v.9h-.9zM69.5 712.8h.9v.9h-.9zM72.2 720.5h.9v.9h-.9zM79.7 715.1h.9v.9h-.9zM69.1 718.1h.9v.9h-.9zM64.3 721.4h.9v.9h-.9zM70.6 716.7h.9v.9h-.9zM68.4 715.6h.9v.9h-.9zM69.8 713.6h.9v.9h-.9zM67.3 714.6h.9v.9h-.9zM74.3 715.5h.9v.9h-.9zM62.9 714.9h.9v.9h-.9zM78.1 712.7h.9v.9h-.9zM72.9 714.4h.9v.9h-.9zM76.3 717.2h.9v.9h-.9zM69.9 711.3h.9v.9h-.9zM62.2 717.5h.9v.9h-.9zM77.7 712.1h.9v.9h-.9zM65.0 713.7h.9v.9h-.9zM74.3 717.7h.9v.9h-.9zM67.3 717.9h.9v.9h-.9zM79.2 711.8h.9v.9h-.9zM65.5 721.0h.9v.9h-.9zM62.5 715.3h.9v.9h-.9zM75.8 711.7h.9v.9h-.9zM61.2 717.5h.9v.9h-.9zM72.4 714.5h.9v.9h-.9zM64.6 718.6h.9v.9h-.9zM68.4 714.0h.9v.9h-.9zM64.4 716.0h.9v.9h-.9zM66.9 717.8h.9v.9h-.9zM61.8 720.1h.9v.9h-.9zM74.8 716.0h.9v.9h-.9zM74.2 712.6h.9v.9h-.9zM65.6 719.4h.9v.9h-.9zM67.3 712.9h.9v.9h-.9zM69.5 716.5h.9v.9h-.9zM72.4 717.2h.9v.9h-.9zM78.6 714.5h.9v.9h-.9zM75.8 718.0h.9v.9h-.9zM64.8 719.2h.9v.9h-.9zM64.8 719.9h.9v.9h-.9zM70.6 712.3h.9v.9h-.9zM67.4 714.7h.9v.9h-.9zM76.4 717.7h.9v.9h-.9zM79.9 712.7h.9v.9h-.9zM69.0 718.2h.9v.9h-.9zM65.1 717.4h.9v.9h-.9zM73.1 718.4h.9v.9h-.9zM72.4 713.8h.9v.9h-.9zM66.4 712.9h.9v.9h-.9zM66.1 716.3h.9v.9h-.9zM70.8 715.2h.9v.9h-.9zM64.2 716.3h.9v.9h-.9zM69.8 716.2h.9v.9h-.9zM67.3 715.5h.9v.9h-.9zM65.2 713.7h.9v.9h-.9zM64.3 718.0h.9v.9h-.9zM70.3 715.7h.9v.9h-.9zM77.2 713.4h.9v.9h-.9zM77.9 715.4h.9v.9h-.9zM75.2 712.0h.9v.9h-.9zM64.9 721.7h.9v.9h-.9zM73.3 712.1h.9v.9h-.9zM67.5 714.4h.9v.9h-.9zM76.5 716.9h.9v.9h-.9zM73.9 715.2h.9v.9h-.9zM68.7 721.4h.9v.9h-.9zM69.0 715.2h.9v.9h-.9zM76.3 711.8h.9v.9h-.9zM73.5 717.3h.9v.9h-.9zM75.0 713.5h.9v.9h-.9zM74.3 716.9h.9v.9h-.9zM64.6 718.5h.9v.9h-.9zM71.7 719.9h.9v.9h-.9zM63.1 718.8h.9v.9h-.9zM68.8 712.2h.9v.9h-.9zM75.6 713.2h.9v.9h-.9zM79.6 712.0h.9v.9h-.9zM73.1 710.7h.9v.9h-.9zM70.4 716.6h.9v.9h-.9zM68.5 719.3h.9v.9h-.9zM75.9 711.7h.9v.9h-.9zM68.5 714.3h.9v.9h-.9zM70.4 721.1h.9v.9h-.9zM70.1 713.3h.9v.9h-.9zM74.0 717.7h.9v.9h-.9zM71.8 712.0h.9v.9h-.9zM74.5 717.1h.9v.9h-.9zM71.9 713.7h.9v.9h-.9zM75.4 715.1h.9v.9h-.9zM70.7 719.3h.9v.9h-.9zM68.6 714.1h.9v.9h-.9zM72.3 716.9h.9v.9h-.9zM70.4 715.6h.9v.9h-.9zM77.4 711.2h.9v.9h-.9zM67.3 721.3h.9v.9h-.9zM67.2 719.1h.9v.9h-.9zM73.1 717.2h.9v.9h-.9zM74.1 713.9h.9v.9h-.9zM80.5 715.1h.9v.9h-.9zM73.1 713.9h.9v.9h-.9zM71.7 713.5h.9v.9h-.9zM78.6 711.9h.9v.9h-.9zM75.9 717.1h.9v.9h-.9zM80.2 711.6h.9v.9h-.9zM75.6 714.9h.9v.9h-.9zM67.9 718.2h.9v.9h-.9zM72.1 720.7h.9v.9h-.9zM68.6 713.7h.9v.9h-.9zM73.5 713.7h.9v.9h-.9zM80.1 711.2h.9v.9h-.9zM64.9 713.5h.9v.9h-.9zM70.8 719.0h.9v.9h-.9zM64.6 719.2h.9v.9h-.9zM64.4 714.9h.9v.9h-.9zM68.1 717.6h.9v.9h-.9zM72.9 718.7h.9v.9h-.9zM72.3 715.2h.9v.9h-.9zM79.9 713.4h.9v.9h-.9zM73.1 713.4h.9v.9h-.9zM66.5 717.5h.9v.9h-.9zM65.2 717.5h.9v.9h-.9zM77.2 714.8h.9v.9h-.9zM76.2 714.3h.9v.9h-.9zM72.0 711.5h.9v.9h-.9zM78.1 714.1h.9v.9h-.9zM73.0 713.5h.9v.9h-.9zM76.8 716.6h.9v.9h-.9zM66.2 716.4h.9v.9h-.9zM65.9 717.9h.9v.9h-.9zM63.6 717.0h.9v.9h-.9zM73.8 710.5h.9v.9h-.9zM63.4 720.3h.9v.9h-.9zM76.2 711.7h.9v.9h-.9zM71.4 716.4h.9v.9h-.9zM71.2 711.8h.9v.9h-.9zM68.2 712.8h.9v.9h-.9zM73.3 713.1h.9v.9h-.9zM64.5 719.6h.9v.9h-.9zM66.5 713.0h.9v.9h-.9zM73.6 711.4h.9v.9h-.9zM68.0 712.7h.9v.9h-.9zM68.8 712.1h.9v.9h-.9zM77.7 711.2h.9v.9h-.9zM70.2 720.9h.9v.9h-.9zM78.2 714.3h.9v.9h-.9zM66.8 715.0h.9v.9h-.9zM74.2 712.2h.9v.9h-.9zM78.5 714.8h.9v.9h-.9zM70.5 720.0h.9v.9h-.9zM75.9 714.1h.9v.9h-.9zM77.2 718.5h.9v.9h-.9zM75.7 714.9h.9v.9h-.9zM78.8 717.2h.9v.9h-.9zM75.3 716.8h.9v.9h-.9zM69.3 715.9h.9v.9h-.9zM66.3 720.7h.9v.9h-.9zM79.6 712.3h.9v.9h-.9zM81.0 712.6h.9v.9h-.9zM70.2 716.6h.9v.9h-.9zM70.9 716.1h.9v.9h-.9zM80.1 713.5h.9v.9h-.9zM71.2 711.4h.9v.9h-.9zM66.2 721.6h.9v.9h-.9zM75.5 712.9h.9v.9h-.9z" fill="#ececec"/><path d="M62.2 714.5h.9v.9h-.9zM75.3 717.7h.9v.9h-.9zM82.2 715.8h.9v.9h-.9zM86.5 714.9h.9v.9h-.9zM60.2 716.4h.9v.9h-.9zM70.7 710.2h.9v.9h-.9zM75.8 721.7h.9v.9h-.9zM58.6 723.3h.9v.9h-.9zM71.8 722.7h.9v.9h-.9zM81.8 713.3h.9v.9h-.9zM65.9 722.2h.9v.9h-.9zM67.6 718.7h.9v.9h-.9zM60.1 721.8h.9v.9h-.9zM61.5 714.1h.9v.9h-.9zM71.9 708.4h.9v.9h-.9zM73.8 710.2h.9v.9h-.9zM63.9 718.8h.9v.9h-.9zM68.0 717.0h.9v.9h-.9zM78.5 709.2h.9v.9h-.9zM78.6 717.9h.9v.9h-.9zM67.5 711.6h.9v.9h-.9zM61.1 716.6h.9v.9h-.9zM82.3 718.2h.9v.9h-.9zM66.9 725.7h.9v.9h-.9zM75.0 715.3h.9v.9h-.9zM70.3 710.9h.9v.9h-.9zM81.3 717.4h.9v.9h-.9zM71.7 715.2h.9v.9h-.9zM79.7 709.5h.9v.9h-.9zM84.1 712.0h.9v.9h-.9zM77.9 719.4h.9v.9h-.9zM74.2 710.2h.9v.9h-.9zM73.6 718.7h.9v.9h-.9zM61.7 714.3h.9v.9h-.9zM60.1 719.2h.9v.9h-.9zM70.7 714.1h.9v.9h-.9zM65.3 711.8h.9v.9h-.9zM80.5 719.3h.9v.9h-.9zM78.6 708.4h.9v.9h-.9zM80.9 715.6h.9v.9h-.9zM70.5 715.6h.9v.9h-.9zM75.7 718.3h.9v.9h-.9zM66.3 723.7h.9v.9h-.9zM68.5 713.5h.9v.9h-.9zM71.6 723.9h.9v.9h-.9zM81.2 715.5h.9v.9h-.9zM62.0 715.2h.9v.9h-.9zM60.0 717.2h.9v.9h-.9zM79.9 713.7h.9v.9h-.9zM73.8 708.6h.9v.9h-.9zM55.0 719.1h.9v.9h-.9zM59.2 720.2h.9v.9h-.9zM59.8 718.5h.9v.9h-.9zM75.4 721.5h.9v.9h-.9zM85.9 709.0h.9v.9h-.9zM87.9 708.8h.9v.9h-.9zM84.6 709.2h.9v.9h-.9zM76.5 706.6h.9v.9h-.9zM65.9 718.0h.9v.9h-.9zM53.9 721.2h.9v.9h-.9zM62.5 722.1h.9v.9h-.9zM76.7 713.3h.9v.9h-.9zM85.4 713.1h.9v.9h-.9zM67.7 722.4h.9v.9h-.9zM69.8 721.4h.9v.9h-.9zM66.3 710.8h.9v.9h-.9zM75.3 715.8h.9v.9h-.9zM72.8 719.0h.9v.9h-.9zM81.5 718.2h.9v.9h-.9zM73.4 723.8h.9v.9h-.9zM60.1 722.3h.9v.9h-.9zM86.2 715.4h.9v.9h-.9zM71.9 719.0h.9v.9h-.9zM65.1 712.7h.9v.9h-.9zM71.9 714.8h.9v.9h-.9zM79.7 717.9h.9v.9h-.9zM70.6 724.9h.9v.9h-.9zM62.3 714.0h.9v.9h-.9zM81.4 715.3h.9v.9h-.9zM72.8 712.5h.9v.9h-.9zM67.5 725.1h.9v.9h-.9zM69.1 715.7h.9v.9h-.9zM67.5 720.3h.9v.9h-.9zM60.3 715.8h.9v.9h-.9zM69.3 716.2h.9v.9h-.9zM79.8 719.0h.9v.9h-.9zM84.8 711.1h.9v.9h-.9zM83.0 714.9h.9v.9h-.9zM58.4 715.1h.9v.9h-.9zM69.0 723.5h.9v.9h-.9zM83.4 706.5h.9v.9h-.9zM75.4 708.2h.9v.9h-.9zM72.9 710.4h.9v.9h-.9zM73.0 708.7h.9v.9h-.9zM72.4 714.7h.9v.9h-.9zM83.3 717.9h.9v.9h-.9zM61.2 722.6h.9v.9h-.9zM81.2 710.9h.9v.9h-.9zM83.5 716.6h.9v.9h-.9zM70.1 710.4h.9v.9h-.9zM68.4 708.3h.9v.9h-.9zM55.5 720.3h.9v.9h-.9zM69.9 722.1h.9v.9h-.9zM80.8 716.5h.9v.9h-.9zM82.1 715.5h.9v.9h-.9zM68.6 710.2h.9v.9h-.9zM65.7 715.8h.9v.9h-.9zM78.2 709.3h.9v.9h-.9zM64.5 721.9h.9v.9h-.9zM70.9 715.5h.9v.9h-.9zM64.0 724.6h.9v.9h-.9zM65.8 724.9h.9v.9h-.9zM57.5 720.1h.9v.9h-.9zM55.9 718.8h.9v.9h-.9zM60.5 720.2h.9v.9h-.9zM81.9 715.0h.9v.9h-.9zM80.8 707.6h.9v.9h-.9zM56.9 720.8h.9v.9h-.9zM73.6 708.3h.9v.9h-.9zM83.5 707.0h.9v.9h-.9zM82.5 710.7h.9v.9h-.9zM65.2 712.7h.9v.9h-.9zM88.2 712.1h.9v.9h-.9zM78.5 713.7h.9v.9h-.9zM77.2 706.8h.9v.9h-.9zM66.7 713.4h.9v.9h-.9zM65.9 724.6h.9v.9h-.9zM68.4 708.4h.9v.9h-.9zM56.0 716.1h.9v.9h-.9zM71.4 722.3h.9v.9h-.9zM60.1 721.1h.9v.9h-.9zM79.0 713.2h.9v.9h-.9zM72.3 720.9h.9v.9h-.9zM75.5 715.9h.9v.9h-.9zM62.1 712.8h.9v.9h-.9zM59.5 714.4h.9v.9h-.9zM58.2 719.6h.9v.9h-.9zM69.7 710.6h.9v.9h-.9zM64.3 717.8h.9v.9h-.9zM75.5 720.0h.9v.9h-.9zM61.0 716.7h.9v.9h-.9zM72.6 711.6h.9v.9h-.9zM56.6 722.4h.9v.9h-.9zM81.8 717.5h.9v.9h-.9zM73.4 722.4h.9v.9h-.9zM86.1 709.7h.9v.9h-.9zM53.9 719.2h.9v.9h-.9zM81.7 713.8h.9v.9h-.9zM70.2 708.8h.9v.9h-.9zM54.6 720.5h.9v.9h-.9zM83.1 713.3h.9v.9h-.9zM67.2 724.5h.9v.9h-.9zM55.1 720.4h.9v.9h-.9zM59.0 715.5h.9v.9h-.9zM81.6 716.6h.9v.9h-.9zM80.5 708.5h.9v.9h-.9zM83.5 711.8h.9v.9h-.9zM66.9 710.4h.9v.9h-.9zM55.0 721.9h.9v.9h-.9zM84.4 712.2h.9v.9h-.9zM80.9 712.8h.9v.9h-.9zM69.0 722.1h.9v.9h-.9zM77.0 714.9h.9v.9h-.9zM81.1 716.5h.9v.9h-.9zM85.4 710.3h.9v.9h-.9zM62.9 722.0h.9v.9h-.9zM74.8 707.6h.9v.9h-.9zM77.3 714.3h.9v.9h-.9zM82.9 710.1h.9v.9h-.9zM87.7 712.4h.9v.9h-.9zM71.1 713.3h.9v.9h-.9zM57.9 719.3h.9v.9h-.9zM77.9 719.3h.9v.9h-.9zM73.2 724.0h.9v.9h-.9zM66.3 718.0h.9v.9h-.9zM81.7 710.9h.9v.9h-.9zM78.8 721.4h.9v.9h-.9zM67.8 717.5h.9v.9h-.9zM80.1 712.5h.9v.9h-.9zM60.6 716.7h.9v.9h-.9zM72.5 710.2h.9v.9h-.9zM82.2 712.8h.9v.9h-.9zM81.9 714.2h.9v.9h-.9zM74.0 718.5h.9v.9h-.9zM60.8 714.7h.9v.9h-.9zM71.1 710.2h.9v.9h-.9zM82.6 710.6h.9v.9h-.9zM87.5 709.3h.9v.9h-.9zM82.7 710.1h.9v.9h-.9zM64.9 716.1h.9v.9h-.9zM69.0 711.5h.9v.9h-.9zM79.0 708.8h.9v.9h-.9zM59.2 718.8h.9v.9h-.9zM84.2 714.2h.9v.9h-.9zM76.1 714.6h.9v.9h-.9zM59.5 717.8h.9v.9h-.9zM70.2 716.2h.9v.9h-.9zM63.3 713.8h.9v.9h-.9zM76.7 708.5h.9v.9h-.9zM63.1 722.2h.9v.9h-.9zM82.7 714.3h.9v.9h-.9zM68.4 712.0h.9v.9h-.9zM83.3 711.2h.9v.9h-.9zM71.2 722.0h.9v.9h-.9zM55.0 720.3h.9v.9h-.9zM84.1 715.2h.9v.9h-.9zM88.8 710.5h.9v.9h-.9zM60.7 720.9h.9v.9h-.9zM74.9 721.9h.9v.9h-.9zM72.1 711.6h.9v.9h-.9zM67.4 724.2h.9v.9h-.9zM57.1 724.5h.9v.9h-.9zM69.3 709.2h.9v.9h-.9zM62.6 712.5h.9v.9h-.9zM87.5 715.5h.9v.9h-.9zM59.1 720.7h.9v.9h-.9zM60.3 719.7h.9v.9h-.9zM67.4 709.5h.9v.9h-.9zM85.5 708.3h.9v.9h-.9zM83.0 713.3h.9v.9h-.9zM86.2 710.9h.9v.9h-.9zM69.7 711.5h.9v.9h-.9zM74.9 720.2h.9v.9h-.9zM65.0 722.1h.9v.9h-.9zM84.0 711.0h.9v.9h-.9z" fill="#bdbdbd"/><path d="M60.3 716.3h.9v.9h-.9zM52.7 719.7h.9v.9h-.9zM52.8 712.8h.9v.9h-.9zM105.7 703.6h.9v.9h-.9zM46.2 719.5h.9v.9h-.9zM54.2 721.8h.9v.9h-.9zM58.3 718.8h.9v.9h-.9zM87.8 717.2h.9v.9h-.9zM83.5 702.9h.9v.9h-.9zM90.2 712.7h.9v.9h-.9zM93.4 702.3h.9v.9h-.9zM67.2 707.0h.9v.9h-.9zM46.0 723.6h.9v.9h-.9zM54.1 720.6h.9v.9h-.9zM84.2 712.2h.9v.9h-.9zM77.1 723.6h.9v.9h-.9zM63.5 724.4h.9v.9h-.9zM59.0 719.3h.9v.9h-.9zM76.2 708.0h.9v.9h-.9zM51.9 712.8h.9v.9h-.9zM70.8 710.4h.9v.9h-.9zM75.4 721.4h.9v.9h-.9zM44.3 718.2h.9v.9h-.9zM56.5 721.9h.9v.9h-.9zM79.1 704.7h.9v.9h-.9zM89.9 711.3h.9v.9h-.9zM64.0 712.6h.9v.9h-.9zM49.9 719.3h.9v.9h-.9zM80.5 710.8h.9v.9h-.9zM76.0 708.9h.9v.9h-.9zM87.8 717.8h.9v.9h-.9zM47.7 719.4h.9v.9h-.9zM56.1 712.7h.9v.9h-.9zM89.3 714.4h.9v.9h-.9zM80.6 710.7h.9v.9h-.9zM50.4 720.2h.9v.9h-.9zM57.3 721.1h.9v.9h-.9zM91.7 709.0h.9v.9h-.9zM83.5 719.7h.9v.9h-.9zM89.5 714.5h.9v.9h-.9zM88.8 706.3h.9v.9h-.9zM70.7 721.7h.9v.9h-.9zM89.2 713.0h.9v.9h-.9zM93.6 713.5h.9v.9h-.9zM51.7 720.7h.9v.9h-.9zM61.1 713.7h.9v.9h-.9zM90.4 714.3h.9v.9h-.9zM46.4 726.2h.9v.9h-.9zM64.9 726.3h.9v.9h-.9zM93.2 714.2h.9v.9h-.9zM58.5 726.1h.9v.9h-.9zM92.9 712.9h.9v.9h-.9zM89.2 707.8h.9v.9h-.9zM89.7 708.5h.9v.9h-.9zM86.8 717.5h.9v.9h-.9zM66.5 712.1h.9v.9h-.9zM49.3 725.0h.9v.9h-.9zM90.7 712.2h.9v.9h-.9zM86.6 707.3h.9v.9h-.9zM86.6 712.5h.9v.9h-.9zM95.2 709.1h.9v.9h-.9zM93.2 706.5h.9v.9h-.9zM89.2 715.2h.9v.9h-.9zM83.0 705.6h.9v.9h-.9zM67.5 726.1h.9v.9h-.9zM83.9 719.4h.9v.9h-.9zM63.6 710.1h.9v.9h-.9zM94.9 711.0h.9v.9h-.9zM87.2 712.5h.9v.9h-.9zM88.3 708.4h.9v.9h-.9zM87.1 705.8h.9v.9h-.9zM76.3 724.3h.9v.9h-.9zM81.2 709.2h.9v.9h-.9zM76.6 705.2h.9v.9h-.9zM63.8 709.2h.9v.9h-.9zM88.5 714.2h.9v.9h-.9zM79.1 705.8h.9v.9h-.9zM56.6 718.7h.9v.9h-.9zM67.7 722.3h.9v.9h-.9zM86.5 718.4h.9v.9h-.9zM41.3 721.8h.9v.9h-.9zM57.3 712.5h.9v.9h-.9zM86.9 724.0h.9v.9h-.9zM52.4 721.7h.9v.9h-.9zM85.1 706.1h.9v.9h-.9zM72.7 721.0h.9v.9h-.9zM74.3 705.7h.9v.9h-.9zM74.6 706.2h.9v.9h-.9zM68.0 725.3h.9v.9h-.9zM94.7 711.7h.9v.9h-.9zM83.5 707.9h.9v.9h-.9zM83.5 715.8h.9v.9h-.9zM90.5 713.4h.9v.9h-.9zM51.6 721.1h.9v.9h-.9zM60.9 710.2h.9v.9h-.9zM72.0 708.7h.9v.9h-.9zM83.9 707.8h.9v.9h-.9zM89.3 711.4h.9v.9h-.9zM62.7 713.8h.9v.9h-.9zM80.3 718.0h.9v.9h-.9zM83.1 713.5h.9v.9h-.9zM54.8 720.9h.9v.9h-.9zM55.8 712.2h.9v.9h-.9zM54.0 724.0h.9v.9h-.9zM55.6 717.6h.9v.9h-.9zM61.9 708.2h.9v.9h-.9zM84.5 718.0h.9v.9h-.9zM46.9 720.0h.9v.9h-.9zM63.4 722.7h.9v.9h-.9zM63.5 724.6h.9v.9h-.9zM60.6 726.7h.9v.9h-.9zM85.5 705.3h.9v.9h-.9zM66.7 725.6h.9v.9h-.9zM43.9 721.3h.9v.9h-.9zM69.5 705.8h.9v.9h-.9zM65.3 712.2h.9v.9h-.9zM63.4 726.2h.9v.9h-.9zM91.3 706.4h.9v.9h-.9zM88.0 702.1h.9v.9h-.9zM92.2 713.5h.9v.9h-.9zM47.7 725.6h.9v.9h-.9zM56.7 710.6h.9v.9h-.9zM55.6 724.8h.9v.9h-.9zM90.0 716.3h.9v.9h-.9zM89.1 705.0h.9v.9h-.9zM89.6 707.7h.9v.9h-.9zM59.4 710.2h.9v.9h-.9zM73.9 703.2h.9v.9h-.9zM53.2 722.7h.9v.9h-.9zM89.1 720.9h.9v.9h-.9zM62.9 722.7h.9v.9h-.9zM69.0 705.5h.9v.9h-.9zM59.4 711.0h.9v.9h-.9zM63.9 706.1h.9v.9h-.9zM60.0 722.8h.9v.9h-.9zM54.0 715.2h.9v.9h-.9zM63.5 710.8h.9v.9h-.9zM62.4 702.0h.9v.9h-.9zM53.2 723.6h.9v.9h-.9zM89.9 704.2h.9v.9h-.9zM90.6 713.5h.9v.9h-.9zM80.7 705.2h.9v.9h-.9z" fill="#8a8a8a"/></g>
<ellipse cx="52" cy="717" rx="9.6" ry="4.2" fill="#d4d4d4" opacity="0.11" filter="url(#cb)" transform="rotate(-8 52 717)"/>
<g filter="url(#db)"><path d="M51.2 714.1h.9v.9h-.9zM45.6 719.5h.9v.9h-.9zM47.5 715.3h.9v.9h-.9zM57.1 713.8h.9v.9h-.9zM53.5 719.4h.9v.9h-.9zM46.2 714.8h.9v.9h-.9zM52.3 717.2h.9v.9h-.9zM47.4 716.6h.9v.9h-.9zM49.5 719.8h.9v.9h-.9zM50.7 717.8h.9v.9h-.9zM55.5 714.0h.9v.9h-.9zM55.7 716.9h.9v.9h-.9zM50.6 720.5h.9v.9h-.9zM53.8 717.6h.9v.9h-.9zM58.5 717.8h.9v.9h-.9zM44.0 718.2h.9v.9h-.9zM49.9 720.7h.9v.9h-.9zM59.0 715.3h.9v.9h-.9zM47.8 719.0h.9v.9h-.9zM53.0 714.7h.9v.9h-.9zM53.2 719.8h.9v.9h-.9zM48.1 719.0h.9v.9h-.9zM50.1 718.4h.9v.9h-.9zM54.2 714.2h.9v.9h-.9zM55.4 718.2h.9v.9h-.9zM56.3 717.1h.9v.9h-.9zM55.3 715.3h.9v.9h-.9zM53.5 718.7h.9v.9h-.9zM49.7 720.4h.9v.9h-.9zM48.0 719.8h.9v.9h-.9zM55.8 713.2h.9v.9h-.9zM50.9 716.5h.9v.9h-.9zM56.3 713.4h.9v.9h-.9zM53.6 715.1h.9v.9h-.9zM47.4 715.3h.9v.9h-.9zM58.1 715.0h.9v.9h-.9zM57.5 716.9h.9v.9h-.9zM51.3 713.2h.9v.9h-.9zM58.9 717.7h.9v.9h-.9zM49.0 719.0h.9v.9h-.9z" fill="#ececec"/><path d="M44.6 721.3h.9v.9h-.9zM43.2 722.8h.9v.9h-.9zM42.2 713.1h.9v.9h-.9zM48.9 710.8h.9v.9h-.9zM65.9 714.6h.9v.9h-.9zM44.2 722.6h.9v.9h-.9zM41.9 716.9h.9v.9h-.9zM62.6 714.5h.9v.9h-.9zM63.1 715.7h.9v.9h-.9zM62.2 716.8h.9v.9h-.9zM56.8 719.4h.9v.9h-.9zM62.7 712.3h.9v.9h-.9zM43.5 716.1h.9v.9h-.9zM50.4 721.8h.9v.9h-.9zM44.2 713.9h.9v.9h-.9zM45.4 720.3h.9v.9h-.9zM48.0 713.6h.9v.9h-.9zM48.9 711.7h.9v.9h-.9zM63.4 713.2h.9v.9h-.9zM52.3 715.2h.9v.9h-.9zM48.0 713.9h.9v.9h-.9zM48.3 721.5h.9v.9h-.9zM38.4 720.9h.9v.9h-.9zM54.8 713.0h.9v.9h-.9zM57.7 712.6h.9v.9h-.9zM50.6 712.3h.9v.9h-.9zM58.8 717.1h.9v.9h-.9zM48.1 715.7h.9v.9h-.9zM46.0 717.4h.9v.9h-.9zM43.5 713.4h.9v.9h-.9zM43.5 719.8h.9v.9h-.9zM47.8 719.4h.9v.9h-.9zM48.5 714.0h.9v.9h-.9zM53.9 712.1h.9v.9h-.9zM43.9 721.9h.9v.9h-.9zM52.1 714.7h.9v.9h-.9zM50.6 713.5h.9v.9h-.9zM42.6 720.5h.9v.9h-.9zM57.2 714.3h.9v.9h-.9zM45.2 713.3h.9v.9h-.9zM55.9 710.3h.9v.9h-.9zM50.0 715.9h.9v.9h-.9zM50.9 721.2h.9v.9h-.9zM49.7 712.8h.9v.9h-.9zM61.3 711.8h.9v.9h-.9zM60.9 719.1h.9v.9h-.9zM41.4 722.8h.9v.9h-.9zM66.1 714.3h.9v.9h-.9z" fill="#bdbdbd"/><path d="M34.2 710.2h.9v.9h-.9zM68.9 714.9h.9v.9h-.9zM35.3 726.2h.9v.9h-.9zM39.4 722.4h.9v.9h-.9zM35.2 717.0h.9v.9h-.9zM65.5 711.0h.9v.9h-.9zM38.2 716.0h.9v.9h-.9zM33.3 718.1h.9v.9h-.9zM45.4 722.1h.9v.9h-.9zM69.0 717.8h.9v.9h-.9zM59.2 718.7h.9v.9h-.9zM64.0 710.8h.9v.9h-.9zM33.5 721.8h.9v.9h-.9zM49.6 721.2h.9v.9h-.9zM52.6 721.7h.9v.9h-.9zM33.6 724.9h.9v.9h-.9zM41.7 717.2h.9v.9h-.9zM43.6 719.3h.9v.9h-.9zM56.9 719.7h.9v.9h-.9zM49.5 710.2h.9v.9h-.9zM71.0 718.3h.9v.9h-.9zM65.5 710.9h.9v.9h-.9zM33.9 724.1h.9v.9h-.9zM68.5 716.9h.9v.9h-.9zM33.8 716.5h.9v.9h-.9zM61.3 717.5h.9v.9h-.9zM69.9 713.8h.9v.9h-.9zM67.5 718.4h.9v.9h-.9zM61.1 719.2h.9v.9h-.9zM51.5 711.7h.9v.9h-.9zM74.7 707.0h.9v.9h-.9zM59.4 708.5h.9v.9h-.9z" fill="#8a8a8a"/></g>
<line x1="80.5" y1="653.8" x2="80.5" y2="727.6" stroke="#8a8a8a" stroke-width="0.9"/>
<line x1="27.5" y1="699.5" x2="110.5" y2="699.5" stroke="#8a8a8a" stroke-width="0.9"/>
<text x="70.5" y="691.9" font-size="4.8" fill="#c4c4c4" class="q" text-anchor="middle" font-family="Liberation Sans, sans-serif">Q1</text>
<text x="91.3" y="691.9" font-size="4.8" fill="#c4c4c4" class="q" text-anchor="middle" font-family="Liberation Sans, sans-serif">Q2</text>
<text x="70.5" y="712.9" font-size="4.8" fill="#c4c4c4" class="q" text-anchor="middle" font-family="Liberation Sans, sans-serif">Q3</text>
<text x="91.3" y="712.6999999999999" font-size="4.8" fill="#c4c4c4" class="q" text-anchor="middle" font-family="Liberation Sans, sans-serif">Q4</text>
<text x="110.0" y="726.6" font-size="11" text-anchor="end" font-family="Liberation Serif, serif" class="w" font-weight="bold" fill="#fff" letter-spacing="-0.35">2.5%</text>
<path d="M24.9 726.60h2.6M24.9 721.20h2.6M24.9 718.04h2.6M24.9 715.79h2.6M24.9 714.05h2.6M24.9 712.63h2.6M24.9 711.43h2.6M24.9 710.39h2.6M24.9 709.47h2.6M24.9 708.65h2.6M24.9 703.25h2.6M24.9 700.09h2.6M24.9 697.84h2.6M24.9 696.10h2.6M24.9 694.68h2.6M24.9 693.48h2.6M24.9 692.44h2.6M24.9 691.52h2.6M24.9 690.70h2.6M24.9 685.30h2.6M24.9 682.14h2.6M24.9 679.89h2.6M24.9 678.15h2.6M24.9 676.73h2.6M24.9 675.53h2.6M24.9 674.49h2.6M24.9 673.57h2.6M24.9 672.75h2.6M24.9 667.35h2.6M24.9 664.19h2.6M24.9 661.94h2.6M24.9 660.20h2.6M24.9 658.78h2.6M24.9 657.58h2.6M24.9 656.54h2.6M24.9 655.62h2.6M24.9 654.80h2.6" stroke="#555" stroke-width="0.6"/>
<path d="M28.50 727.6v2.8M34.60 727.6v2.8M38.16 727.6v2.8M40.69 727.6v2.8M42.65 727.6v2.8M44.26 727.6v2.8M45.61 727.6v2.8M46.79 727.6v2.8M47.82 727.6v2.8M48.75 727.6v2.8M54.85 727.6v2.8M58.41 727.6v2.8M60.94 727.6v2.8M62.90 727.6v2.8M64.51 727.6v2.8M65.86 727.6v2.8M67.04 727.6v2.8M68.07 727.6v2.8M69.00 727.6v2.8M75.10 727.6v2.8M78.66 727.6v2.8M81.19 727.6v2.8M83.15 727.6v2.8M84.76 727.6v2.8M86.11 727.6v2.8M87.29 727.6v2.8M88.32 727.6v2.8M89.25 727.6v2.8M95.35 727.6v2.8M98.91 727.6v2.8M101.44 727.6v2.8M103.40 727.6v2.8M105.01 727.6v2.8M106.36 727.6v2.8M107.54 727.6v2.8M108.57 727.6v2.8M109.50 727.6v2.8" stroke="#555" stroke-width="0.6"/>
<text x="71.2" y="651.8" font-size="9" text-anchor="middle" font-family="Liberation Serif, serif" class="b">control siRNA</text>
<text class="b" transform="translate(19.0,689.7) rotate(-90)" font-size="9" text-anchor="middle" font-family="Liberation Serif, serif">side scatter</text>
<text x="67.4" y="741.3" font-size="9" text-anchor="middle" font-family="Liberation Serif, serif" class="b">mCD3</text>
<rect x="172" y="653.8" width="76.80000000000001" height="72.80000000000007" fill="#000"/>
<ellipse cx="205" cy="712" rx="16.8" ry="6.6" fill="#d4d4d4" opacity="0.99" filter="url(#cb)" transform="rotate(-5 205 712)"/>
<g filter="url(#db)"><path d="M203.3 708.4h.9v.9h-.9zM198.1 710.3h.9v.9h-.9zM211.6 711.5h.9v.9h-.9zM194.0 714.2h.9v.9h-.9zM210.5 712.3h.9v.9h-.9zM205.2 708.3h.9v.9h-.9zM216.0 713.3h.9v.9h-.9zM219.2 710.6h.9v.9h-.9zM199.1 710.9h.9v.9h-.9zM201.7 709.0h.9v.9h-.9zM212.3 709.6h.9v.9h-.9zM194.8 710.1h.9v.9h-.9zM214.7 708.4h.9v.9h-.9zM204.0 713.8h.9v.9h-.9zM194.5 709.1h.9v.9h-.9zM209.2 709.2h.9v.9h-.9zM203.2 717.0h.9v.9h-.9zM208.4 709.6h.9v.9h-.9zM194.9 716.7h.9v.9h-.9zM207.4 712.4h.9v.9h-.9zM205.4 712.8h.9v.9h-.9zM204.9 717.6h.9v.9h-.9zM201.7 707.9h.9v.9h-.9zM194.7 712.8h.9v.9h-.9zM210.1 710.2h.9v.9h-.9zM191.1 711.6h.9v.9h-.9zM204.9 706.5h.9v.9h-.9zM212.2 715.7h.9v.9h-.9zM208.5 707.7h.9v.9h-.9zM206.0 711.9h.9v.9h-.9zM200.4 712.0h.9v.9h-.9zM207.3 716.2h.9v.9h-.9zM196.1 717.5h.9v.9h-.9zM192.3 712.2h.9v.9h-.9zM195.4 716.1h.9v.9h-.9zM192.1 714.2h.9v.9h-.9zM194.2 711.8h.9v.9h-.9zM199.2 710.5h.9v.9h-.9zM196.6 715.2h.9v.9h-.9zM208.4 710.7h.9v.9h-.9zM208.6 707.5h.9v.9h-.9zM193.0 709.5h.9v.9h-.9zM192.2 712.0h.9v.9h-.9zM196.2 713.4h.9v.9h-.9zM203.8 713.0h.9v.9h-.9zM203.6 709.5h.9v.9h-.9zM202.0 707.0h.9v.9h-.9zM200.0 707.1h.9v.9h-.9zM196.1 710.6h.9v.9h-.9zM199.9 711.3h.9v.9h-.9zM203.9 714.0h.9v.9h-.9zM214.4 710.5h.9v.9h-.9zM209.6 708.1h.9v.9h-.9zM203.4 717.7h.9v.9h-.9zM200.7 710.3h.9v.9h-.9zM213.3 715.5h.9v.9h-.9zM213.7 706.9h.9v.9h-.9zM192.0 710.3h.9v.9h-.9zM202.1 707.9h.9v.9h-.9zM205.4 710.6h.9v.9h-.9zM194.6 712.3h.9v.9h-.9zM214.3 712.9h.9v.9h-.9zM201.0 709.7h.9v.9h-.9zM200.5 708.9h.9v.9h-.9zM217.3 707.8h.9v.9h-.9zM193.8 709.3h.9v.9h-.9zM197.5 711.9h.9v.9h-.9zM206.1 708.4h.9v.9h-.9zM205.5 706.1h.9v.9h-.9zM207.4 714.7h.9v.9h-.9zM204.4 715.3h.9v.9h-.9zM197.8 713.9h.9v.9h-.9zM214.7 715.6h.9v.9h-.9zM203.9 716.2h.9v.9h-.9zM216.0 708.5h.9v.9h-.9zM211.8 712.2h.9v.9h-.9zM205.7 709.2h.9v.9h-.9zM203.2 712.9h.9v.9h-.9zM192.3 711.9h.9v.9h-.9zM213.9 709.0h.9v.9h-.9zM200.6 714.5h.9v.9h-.9zM209.3 711.6h.9v.9h-.9zM208.9 709.9h.9v.9h-.9zM210.8 710.8h.9v.9h-.9zM217.7 708.0h.9v.9h-.9zM210.9 715.3h.9v.9h-.9zM215.9 710.0h.9v.9h-.9zM192.7 715.0h.9v.9h-.9zM212.1 713.6h.9v.9h-.9zM206.9 711.8h.9v.9h-.9zM206.6 708.6h.9v.9h-.9zM204.4 712.5h.9v.9h-.9zM209.3 709.9h.9v.9h-.9zM193.2 711.0h.9v.9h-.9zM205.9 714.4h.9v.9h-.9zM210.8 715.4h.9v.9h-.9zM195.3 717.0h.9v.9h-.9zM206.6 714.2h.9v.9h-.9zM219.1 712.2h.9v.9h-.9zM194.1 708.8h.9v.9h-.9zM201.8 709.8h.9v.9h-.9zM205.7 713.4h.9v.9h-.9zM213.0 714.2h.9v.9h-.9zM218.8 712.6h.9v.9h-.9zM202.7 714.3h.9v.9h-.9zM216.0 711.2h.9v.9h-.9zM209.9 710.0h.9v.9h-.9zM209.3 712.4h.9v.9h-.9zM201.3 711.1h.9v.9h-.9zM205.4 711.6h.9v.9h-.9zM198.1 707.3h.9v.9h-.9zM211.7 716.6h.9v.9h-.9zM195.4 714.6h.9v.9h-.9zM199.1 711.4h.9v.9h-.9zM202.4 708.7h.9v.9h-.9zM209.5 712.1h.9v.9h-.9zM204.8 714.9h.9v.9h-.9zM214.4 711.7h.9v.9h-.9zM203.2 709.9h.9v.9h-.9zM202.4 710.6h.9v.9h-.9zM192.2 710.3h.9v.9h-.9zM206.1 717.0h.9v.9h-.9zM199.1 709.1h.9v.9h-.9zM206.4 708.3h.9v.9h-.9zM201.8 714.2h.9v.9h-.9zM206.6 706.0h.9v.9h-.9zM208.9 711.3h.9v.9h-.9zM203.1 707.2h.9v.9h-.9zM202.8 716.8h.9v.9h-.9zM191.0 713.1h.9v.9h-.9zM207.3 706.1h.9v.9h-.9zM192.0 712.6h.9v.9h-.9zM195.7 709.3h.9v.9h-.9zM210.4 714.4h.9v.9h-.9zM195.0 713.6h.9v.9h-.9zM193.3 709.9h.9v.9h-.9zM207.6 715.5h.9v.9h-.9zM202.7 714.6h.9v.9h-.9zM194.7 716.6h.9v.9h-.9zM206.5 715.0h.9v.9h-.9zM200.6 710.4h.9v.9h-.9zM200.9 713.9h.9v.9h-.9zM195.0 715.9h.9v.9h-.9zM201.4 709.1h.9v.9h-.9zM210.7 712.3h.9v.9h-.9zM189.8 712.7h.9v.9h-.9zM206.8 708.0h.9v.9h-.9zM207.1 716.5h.9v.9h-.9zM211.3 707.3h.9v.9h-.9zM202.7 711.1h.9v.9h-.9zM206.6 709.6h.9v.9h-.9zM200.0 713.2h.9v.9h-.9zM207.0 708.0h.9v.9h-.9zM201.8 718.1h.9v.9h-.9zM209.6 706.5h.9v.9h-.9zM210.1 711.9h.9v.9h-.9zM210.0 712.7h.9v.9h-.9zM192.5 712.6h.9v.9h-.9zM213.3 709.5h.9v.9h-.9zM211.2 717.0h.9v.9h-.9zM198.5 716.2h.9v.9h-.9zM209.6 711.3h.9v.9h-.9zM209.7 710.3h.9v.9h-.9zM203.1 710.9h.9v.9h-.9zM205.4 709.4h.9v.9h-.9zM204.4 715.3h.9v.9h-.9zM198.1 715.3h.9v.9h-.9zM193.0 715.3h.9v.9h-.9zM206.7 709.8h.9v.9h-.9zM214.0 713.6h.9v.9h-.9zM207.3 714.7h.9v.9h-.9zM213.8 708.7h.9v.9h-.9zM196.1 712.4h.9v.9h-.9zM205.0 717.3h.9v.9h-.9zM205.8 706.2h.9v.9h-.9zM199.5 714.5h.9v.9h-.9zM213.2 716.2h.9v.9h-.9zM210.7 715.4h.9v.9h-.9zM208.2 714.0h.9v.9h-.9zM206.3 712.5h.9v.9h-.9zM211.0 709.6h.9v.9h-.9zM209.8 705.9h.9v.9h-.9zM196.2 713.2h.9v.9h-.9zM219.5 712.8h.9v.9h-.9zM193.8 713.1h.9v.9h-.9zM208.0 712.0h.9v.9h-.9zM212.5 706.9h.9v.9h-.9zM211.6 714.1h.9v.9h-.9zM204.3 707.9h.9v.9h-.9zM197.4 714.6h.9v.9h-.9zM213.8 706.8h.9v.9h-.9zM211.3 707.7h.9v.9h-.9zM215.1 708.9h.9v.9h-.9zM208.8 711.1h.9v.9h-.9zM205.6 708.3h.9v.9h-.9zM212.1 710.9h.9v.9h-.9zM199.9 708.6h.9v.9h-.9zM204.6 710.1h.9v.9h-.9zM198.4 715.1h.9v.9h-.9zM202.0 710.7h.9v.9h-.9zM213.3 712.3h.9v.9h-.9zM207.5 713.9h.9v.9h-.9zM216.9 710.1h.9v.9h-.9zM201.3 712.1h.9v.9h-.9zM202.7 711.2h.9v.9h-.9zM207.8 705.8h.9v.9h-.9zM216.5 709.1h.9v.9h-.9zM210.7 714.1h.9v.9h-.9zM208.3 707.9h.9v.9h-.9zM218.0 711.0h.9v.9h-.9zM196.8 712.1h.9v.9h-.9zM210.9 712.9h.9v.9h-.9zM214.2 712.7h.9v.9h-.9zM208.2 711.8h.9v.9h-.9zM216.1 714.9h.9v.9h-.9zM193.2 710.9h.9v.9h-.9zM189.9 713.9h.9v.9h-.9zM216.0 707.4h.9v.9h-.9zM190.5 713.9h.9v.9h-.9zM196.8 714.4h.9v.9h-.9zM201.6 716.3h.9v.9h-.9zM205.2 717.6h.9v.9h-.9zM202.1 714.5h.9v.9h-.9zM213.7 709.1h.9v.9h-.9zM193.8 712.0h.9v.9h-.9zM190.9 712.7h.9v.9h-.9zM204.5 717.4h.9v.9h-.9zM195.8 710.2h.9v.9h-.9zM200.8 717.6h.9v.9h-.9zM213.8 706.6h.9v.9h-.9zM196.7 715.3h.9v.9h-.9zM217.6 709.9h.9v.9h-.9zM192.0 715.4h.9v.9h-.9zM200.8 717.8h.9v.9h-.9zM201.4 712.7h.9v.9h-.9zM200.3 712.3h.9v.9h-.9zM201.6 714.9h.9v.9h-.9zM209.4 710.3h.9v.9h-.9zM199.2 717.7h.9v.9h-.9zM218.1 712.6h.9v.9h-.9zM212.6 711.4h.9v.9h-.9zM202.8 715.3h.9v.9h-.9zM214.4 709.4h.9v.9h-.9zM205.8 715.0h.9v.9h-.9zM207.7 717.4h.9v.9h-.9zM199.3 709.0h.9v.9h-.9zM206.2 712.2h.9v.9h-.9zM195.8 709.7h.9v.9h-.9zM209.5 714.2h.9v.9h-.9zM202.0 714.5h.9v.9h-.9zM199.9 707.5h.9v.9h-.9zM212.8 713.1h.9v.9h-.9zM205.5 715.9h.9v.9h-.9zM190.8 714.5h.9v.9h-.9zM214.8 710.1h.9v.9h-.9zM204.0 715.5h.9v.9h-.9zM215.3 708.0h.9v.9h-.9zM211.2 708.8h.9v.9h-.9zM209.9 706.0h.9v.9h-.9zM199.2 707.0h.9v.9h-.9zM210.9 708.2h.9v.9h-.9zM195.1 714.7h.9v.9h-.9zM211.9 709.8h.9v.9h-.9zM212.5 713.4h.9v.9h-.9zM210.6 715.4h.9v.9h-.9zM208.5 712.1h.9v.9h-.9zM211.2 716.8h.9v.9h-.9zM199.4 708.4h.9v.9h-.9zM214.7 714.5h.9v.9h-.9zM202.1 716.8h.9v.9h-.9zM216.8 712.9h.9v.9h-.9zM214.2 706.5h.9v.9h-.9zM191.6 713.6h.9v.9h-.9zM207.6 713.8h.9v.9h-.9zM200.1 709.6h.9v.9h-.9zM208.8 713.6h.9v.9h-.9zM201.8 714.0h.9v.9h-.9zM211.7 715.7h.9v.9h-.9zM209.9 714.7h.9v.9h-.9zM219.6 711.7h.9v.9h-.9zM210.6 709.4h.9v.9h-.9zM196.0 717.1h.9v.9h-.9zM218.5 708.6h.9v.9h-.9zM193.6 715.9h.9v.9h-.9zM215.7 711.2h.9v.9h-.9zM197.5 714.6h.9v.9h-.9zM192.4 716.0h.9v.9h-.9zM213.7 708.4h.9v.9h-.9zM202.8 712.3h.9v.9h-.9zM216.8 712.6h.9v.9h-.9zM215.7 708.2h.9v.9h-.9zM207.2 708.6h.9v.9h-.9zM208.8 711.8h.9v.9h-.9zM194.4 710.5h.9v.9h-.9zM213.4 711.7h.9v.9h-.9zM214.5 708.3h.9v.9h-.9zM197.0 709.1h.9v.9h-.9zM197.6 707.9h.9v.9h-.9zM211.4 711.4h.9v.9h-.9zM198.0 711.8h.9v.9h-.9zM205.2 708.9h.9v.9h-.9zM207.2 714.6h.9v.9h-.9zM200.8 716.5h.9v.9h-.9zM201.2 706.9h.9v.9h-.9zM213.1 709.9h.9v.9h-.9zM204.4 715.8h.9v.9h-.9zM190.3 714.6h.9v.9h-.9zM210.8 716.5h.9v.9h-.9zM209.6 716.2h.9v.9h-.9zM209.2 712.3h.9v.9h-.9zM195.1 712.2h.9v.9h-.9zM204.0 712.1h.9v.9h-.9zM200.3 706.9h.9v.9h-.9zM205.7 708.8h.9v.9h-.9zM200.0 710.2h.9v.9h-.9zM202.7 714.6h.9v.9h-.9zM193.9 710.7h.9v.9h-.9zM200.1 710.7h.9v.9h-.9zM206.5 710.7h.9v.9h-.9zM207.3 711.1h.9v.9h-.9zM208.2 706.5h.9v.9h-.9zM208.2 713.6h.9v.9h-.9zM196.1 712.2h.9v.9h-.9zM215.6 713.3h.9v.9h-.9zM211.9 708.8h.9v.9h-.9zM202.6 710.3h.9v.9h-.9zM215.4 714.2h.9v.9h-.9zM207.6 707.0h.9v.9h-.9zM203.7 712.8h.9v.9h-.9zM209.4 708.3h.9v.9h-.9zM198.7 713.6h.9v.9h-.9zM200.3 711.5h.9v.9h-.9zM197.9 710.3h.9v.9h-.9zM200.9 707.2h.9v.9h-.9zM195.6 716.2h.9v.9h-.9zM191.0 715.2h.9v.9h-.9zM218.3 711.2h.9v.9h-.9zM197.2 708.5h.9v.9h-.9zM196.5 710.5h.9v.9h-.9zM198.7 715.5h.9v.9h-.9zM200.9 714.4h.9v.9h-.9zM209.7 710.0h.9v.9h-.9zM195.7 710.9h.9v.9h-.9zM193.1 710.7h.9v.9h-.9zM205.8 714.5h.9v.9h-.9zM201.4 708.8h.9v.9h-.9zM211.8 713.2h.9v.9h-.9zM213.5 714.8h.9v.9h-.9zM195.5 716.7h.9v.9h-.9zM210.4 712.6h.9v.9h-.9zM200.4 717.0h.9v.9h-.9zM206.4 709.6h.9v.9h-.9zM204.5 710.6h.9v.9h-.9zM193.4 712.0h.9v.9h-.9zM197.1 708.7h.9v.9h-.9zM190.9 711.5h.9v.9h-.9zM203.7 713.9h.9v.9h-.9zM190.0 712.6h.9v.9h-.9zM202.1 714.8h.9v.9h-.9zM210.7 709.0h.9v.9h-.9zM214.1 710.9h.9v.9h-.9zM218.8 713.0h.9v.9h-.9zM210.1 711.5h.9v.9h-.9zM201.1 713.6h.9v.9h-.9zM197.2 712.4h.9v.9h-.9zM202.4 709.8h.9v.9h-.9zM208.4 710.2h.9v.9h-.9zM194.6 713.6h.9v.9h-.9zM213.1 712.4h.9v.9h-.9zM209.1 710.9h.9v.9h-.9zM203.2 708.9h.9v.9h-.9zM213.1 713.6h.9v.9h-.9zM212.3 710.2h.9v.9h-.9zM195.0 714.4h.9v.9h-.9zM194.2 710.6h.9v.9h-.9zM197.1 712.1h.9v.9h-.9zM205.1 707.4h.9v.9h-.9zM203.5 711.3h.9v.9h-.9zM200.2 716.1h.9v.9h-.9zM198.2 709.8h.9v.9h-.9zM209.3 712.5h.9v.9h-.9zM196.5 714.2h.9v.9h-.9zM200.7 710.8h.9v.9h-.9zM194.4 716.2h.9v.9h-.9zM211.1 715.2h.9v.9h-.9zM205.1 714.9h.9v.9h-.9zM212.3 713.7h.9v.9h-.9zM213.3 711.0h.9v.9h-.9zM200.3 711.5h.9v.9h-.9zM198.7 712.2h.9v.9h-.9zM211.0 716.9h.9v.9h-.9zM204.9 708.7h.9v.9h-.9zM207.8 711.9h.9v.9h-.9zM218.8 712.4h.9v.9h-.9zM199.6 710.2h.9v.9h-.9zM211.6 714.1h.9v.9h-.9zM203.9 718.1h.9v.9h-.9zM206.5 707.8h.9v.9h-.9zM206.5 712.7h.9v.9h-.9zM207.4 717.4h.9v.9h-.9zM204.6 710.1h.9v.9h-.9zM199.1 714.7h.9v.9h-.9zM211.6 714.4h.9v.9h-.9zM213.3 712.5h.9v.9h-.9zM191.0 714.5h.9v.9h-.9zM210.6 708.3h.9v.9h-.9zM201.5 717.2h.9v.9h-.9zM209.7 709.4h.9v.9h-.9zM190.5 714.2h.9v.9h-.9zM208.9 715.3h.9v.9h-.9zM211.8 711.3h.9v.9h-.9zM193.5 709.9h.9v.9h-.9zM209.6 716.9h.9v.9h-.9zM200.6 707.0h.9v.9h-.9zM203.7 713.8h.9v.9h-.9zM216.4 712.3h.9v.9h-.9zM207.6 708.7h.9v.9h-.9zM207.1 713.8h.9v.9h-.9zM199.7 708.8h.9v.9h-.9zM203.8 713.8h.9v.9h-.9zM211.3 706.8h.9v.9h-.9zM215.0 711.3h.9v.9h-.9zM201.9 715.4h.9v.9h-.9zM199.0 711.2h.9v.9h-.9zM199.6 707.5h.9v.9h-.9zM197.0 707.5h.9v.9h-.9zM191.1 712.4h.9v.9h-.9zM207.7 716.6h.9v.9h-.9zM211.1 715.0h.9v.9h-.9zM205.1 716.7h.9v.9h-.9zM205.9 713.3h.9v.9h-.9zM194.1 710.8h.9v.9h-.9zM216.2 712.6h.9v.9h-.9zM203.2 710.4h.9v.9h-.9zM202.3 711.6h.9v.9h-.9zM217.9 713.7h.9v.9h-.9zM201.4 708.8h.9v.9h-.9zM203.5 717.4h.9v.9h-.9zM195.5 710.3h.9v.9h-.9zM195.6 717.0h.9v.9h-.9zM210.3 714.6h.9v.9h-.9zM210.7 711.6h.9v.9h-.9zM211.1 708.9h.9v.9h-.9zM208.3 706.5h.9v.9h-.9zM208.3 710.3h.9v.9h-.9zM203.9 713.9h.9v.9h-.9zM196.0 714.1h.9v.9h-.9zM214.2 709.5h.9v.9h-.9zM205.8 716.0h.9v.9h-.9zM208.4 707.3h.9v.9h-.9zM209.3 710.4h.9v.9h-.9zM216.9 709.8h.9v.9h-.9zM210.2 714.1h.9v.9h-.9zM202.8 711.0h.9v.9h-.9zM211.9 713.9h.9v.9h-.9zM206.0 714.2h.9v.9h-.9zM214.4 715.0h.9v.9h-.9zM194.2 714.3h.9v.9h-.9zM212.0 709.2h.9v.9h-.9zM218.3 709.6h.9v.9h-.9zM208.0 707.2h.9v.9h-.9zM197.1 710.4h.9v.9h-.9zM207.5 708.0h.9v.9h-.9zM203.1 711.7h.9v.9h-.9zM205.9 708.9h.9v.9h-.9zM197.2 711.9h.9v.9h-.9zM215.5 711.9h.9v.9h-.9zM201.5 713.2h.9v.9h-.9zM205.4 715.9h.9v.9h-.9zM212.6 712.2h.9v.9h-.9zM202.9 710.1h.9v.9h-.9zM197.3 707.6h.9v.9h-.9zM215.8 709.6h.9v.9h-.9zM196.1 713.0h.9v.9h-.9zM192.4 714.2h.9v.9h-.9zM201.4 717.7h.9v.9h-.9zM191.8 711.2h.9v.9h-.9zM210.8 706.7h.9v.9h-.9zM215.1 714.5h.9v.9h-.9zM213.5 710.8h.9v.9h-.9z" fill="#ececec"/><path d="M220.8 715.5h.9v.9h-.9zM211.8 718.8h.9v.9h-.9zM214.4 704.6h.9v.9h-.9zM188.5 714.4h.9v.9h-.9zM204.7 705.5h.9v.9h-.9zM208.7 710.6h.9v.9h-.9zM190.1 719.9h.9v.9h-.9zM226.2 711.5h.9v.9h-.9zM201.3 706.7h.9v.9h-.9zM206.3 703.3h.9v.9h-.9zM194.8 703.6h.9v.9h-.9zM222.6 704.1h.9v.9h-.9zM187.2 715.5h.9v.9h-.9zM197.2 712.3h.9v.9h-.9zM203.7 713.1h.9v.9h-.9zM190.5 719.0h.9v.9h-.9zM195.5 706.3h.9v.9h-.9zM184.6 716.9h.9v.9h-.9zM214.7 720.6h.9v.9h-.9zM201.1 711.3h.9v.9h-.9zM194.9 718.7h.9v.9h-.9zM191.8 717.7h.9v.9h-.9zM213.8 708.0h.9v.9h-.9zM197.8 706.0h.9v.9h-.9zM217.7 707.5h.9v.9h-.9zM220.8 715.6h.9v.9h-.9zM200.5 708.0h.9v.9h-.9zM203.1 721.0h.9v.9h-.9zM217.0 708.0h.9v.9h-.9zM190.0 713.7h.9v.9h-.9zM209.1 720.7h.9v.9h-.9zM223.0 703.6h.9v.9h-.9zM216.3 716.9h.9v.9h-.9zM193.9 717.2h.9v.9h-.9zM215.4 718.3h.9v.9h-.9zM187.3 710.1h.9v.9h-.9zM189.6 721.3h.9v.9h-.9zM195.9 718.7h.9v.9h-.9zM195.1 703.2h.9v.9h-.9zM191.6 707.0h.9v.9h-.9zM205.8 705.2h.9v.9h-.9zM228.9 709.4h.9v.9h-.9zM215.9 703.8h.9v.9h-.9zM224.6 703.6h.9v.9h-.9zM193.9 719.0h.9v.9h-.9zM199.3 714.0h.9v.9h-.9zM212.6 706.0h.9v.9h-.9zM211.4 711.9h.9v.9h-.9zM187.2 714.8h.9v.9h-.9zM192.3 706.9h.9v.9h-.9zM214.9 713.7h.9v.9h-.9zM202.9 715.9h.9v.9h-.9zM183.8 713.6h.9v.9h-.9zM215.1 717.6h.9v.9h-.9zM190.7 715.6h.9v.9h-.9zM210.8 709.5h.9v.9h-.9zM212.6 719.8h.9v.9h-.9zM201.8 709.5h.9v.9h-.9zM189.6 704.8h.9v.9h-.9zM194.4 706.2h.9v.9h-.9zM214.6 716.5h.9v.9h-.9zM186.9 719.9h.9v.9h-.9zM206.5 722.1h.9v.9h-.9zM212.2 709.9h.9v.9h-.9zM184.0 717.2h.9v.9h-.9zM204.5 717.6h.9v.9h-.9zM187.2 719.3h.9v.9h-.9zM212.4 717.7h.9v.9h-.9zM209.2 721.6h.9v.9h-.9zM199.5 718.9h.9v.9h-.9zM195.6 719.5h.9v.9h-.9zM213.1 705.1h.9v.9h-.9zM185.4 709.9h.9v.9h-.9zM228.9 710.8h.9v.9h-.9zM215.9 706.2h.9v.9h-.9zM183.5 717.7h.9v.9h-.9zM182.1 713.2h.9v.9h-.9zM223.0 709.9h.9v.9h-.9zM219.7 715.0h.9v.9h-.9zM207.0 721.3h.9v.9h-.9zM186.1 719.0h.9v.9h-.9zM189.0 708.3h.9v.9h-.9zM210.8 720.2h.9v.9h-.9zM190.0 719.2h.9v.9h-.9zM217.8 710.7h.9v.9h-.9zM204.7 718.3h.9v.9h-.9zM222.8 703.2h.9v.9h-.9zM213.5 709.2h.9v.9h-.9zM219.3 716.6h.9v.9h-.9zM190.6 719.6h.9v.9h-.9zM193.4 709.4h.9v.9h-.9zM193.1 718.2h.9v.9h-.9zM211.0 714.8h.9v.9h-.9zM224.0 706.4h.9v.9h-.9zM192.1 715.9h.9v.9h-.9zM225.9 704.1h.9v.9h-.9zM201.4 716.1h.9v.9h-.9zM187.6 712.1h.9v.9h-.9zM217.9 716.1h.9v.9h-.9zM222.8 715.8h.9v.9h-.9zM208.4 717.8h.9v.9h-.9zM199.2 719.6h.9v.9h-.9zM216.0 716.6h.9v.9h-.9zM221.6 707.4h.9v.9h-.9zM190.7 711.4h.9v.9h-.9zM183.2 715.0h.9v.9h-.9zM217.9 706.7h.9v.9h-.9zM181.6 711.6h.9v.9h-.9zM181.1 712.8h.9v.9h-.9zM209.5 711.1h.9v.9h-.9zM187.2 708.9h.9v.9h-.9zM213.1 709.6h.9v.9h-.9zM198.0 705.9h.9v.9h-.9zM213.3 719.3h.9v.9h-.9zM196.3 718.7h.9v.9h-.9zM181.8 718.7h.9v.9h-.9zM223.0 713.1h.9v.9h-.9zM186.9 719.5h.9v.9h-.9zM194.1 710.9h.9v.9h-.9zM224.9 717.3h.9v.9h-.9zM213.2 703.7h.9v.9h-.9zM212.1 718.1h.9v.9h-.9zM186.1 715.1h.9v.9h-.9zM193.7 718.1h.9v.9h-.9zM188.5 715.5h.9v.9h-.9zM201.7 704.0h.9v.9h-.9zM188.9 719.2h.9v.9h-.9zM187.5 712.4h.9v.9h-.9zM180.3 711.2h.9v.9h-.9zM192.0 712.7h.9v.9h-.9zM223.1 716.5h.9v.9h-.9zM203.7 721.2h.9v.9h-.9zM193.9 704.2h.9v.9h-.9zM218.8 706.1h.9v.9h-.9zM189.0 717.3h.9v.9h-.9zM193.8 708.6h.9v.9h-.9zM186.7 712.3h.9v.9h-.9zM188.9 714.1h.9v.9h-.9zM200.0 718.5h.9v.9h-.9zM211.4 705.0h.9v.9h-.9zM220.4 712.1h.9v.9h-.9zM189.5 717.2h.9v.9h-.9zM224.1 706.4h.9v.9h-.9zM205.8 706.4h.9v.9h-.9zM202.0 720.8h.9v.9h-.9zM219.9 707.5h.9v.9h-.9zM222.9 711.8h.9v.9h-.9zM200.8 718.3h.9v.9h-.9zM217.7 717.0h.9v.9h-.9zM225.2 704.7h.9v.9h-.9zM193.1 717.5h.9v.9h-.9zM226.3 705.3h.9v.9h-.9zM205.0 715.6h.9v.9h-.9zM181.9 713.8h.9v.9h-.9zM221.6 703.7h.9v.9h-.9zM217.0 702.3h.9v.9h-.9zM206.7 720.9h.9v.9h-.9zM188.0 715.8h.9v.9h-.9zM214.4 703.7h.9v.9h-.9zM182.1 716.8h.9v.9h-.9zM202.2 722.2h.9v.9h-.9zM210.5 704.4h.9v.9h-.9zM187.0 715.2h.9v.9h-.9zM196.9 715.7h.9v.9h-.9zM220.6 712.7h.9v.9h-.9zM201.9 721.2h.9v.9h-.9zM194.4 706.6h.9v.9h-.9zM196.0 706.3h.9v.9h-.9zM180.8 716.4h.9v.9h-.9zM201.7 706.3h.9v.9h-.9zM214.4 717.8h.9v.9h-.9zM192.0 704.8h.9v.9h-.9zM184.6 711.8h.9v.9h-.9zM190.7 719.8h.9v.9h-.9zM193.6 713.8h.9v.9h-.9zM183.4 712.6h.9v.9h-.9zM184.2 713.9h.9v.9h-.9zM214.6 710.7h.9v.9h-.9zM185.2 710.2h.9v.9h-.9zM202.6 705.4h.9v.9h-.9zM193.6 717.1h.9v.9h-.9zM181.0 710.4h.9v.9h-.9zM198.8 706.0h.9v.9h-.9zM199.7 710.2h.9v.9h-.9zM210.2 708.7h.9v.9h-.9zM186.7 709.8h.9v.9h-.9zM189.0 706.0h.9v.9h-.9zM220.1 709.7h.9v.9h-.9zM197.3 719.4h.9v.9h-.9zM201.3 706.0h.9v.9h-.9zM203.7 712.3h.9v.9h-.9zM181.8 713.7h.9v.9h-.9zM188.0 707.3h.9v.9h-.9zM218.9 717.9h.9v.9h-.9zM206.9 710.9h.9v.9h-.9zM226.7 704.9h.9v.9h-.9zM210.2 704.6h.9v.9h-.9zM199.0 707.2h.9v.9h-.9zM217.6 703.8h.9v.9h-.9zM186.4 717.3h.9v.9h-.9zM204.8 718.8h.9v.9h-.9zM205.5 704.9h.9v.9h-.9zM202.8 704.7h.9v.9h-.9zM197.5 717.9h.9v.9h-.9zM217.8 710.9h.9v.9h-.9zM210.3 715.5h.9v.9h-.9zM192.9 721.9h.9v.9h-.9zM191.6 705.7h.9v.9h-.9zM186.4 711.2h.9v.9h-.9zM203.7 720.8h.9v.9h-.9zM219.9 703.4h.9v.9h-.9zM193.2 706.6h.9v.9h-.9zM220.7 706.4h.9v.9h-.9zM222.1 704.6h.9v.9h-.9zM193.4 715.7h.9v.9h-.9zM189.5 710.6h.9v.9h-.9zM223.3 704.9h.9v.9h-.9zM215.0 704.5h.9v.9h-.9zM211.5 717.7h.9v.9h-.9zM223.1 707.5h.9v.9h-.9zM198.0 708.2h.9v.9h-.9zM201.3 722.1h.9v.9h-.9zM206.8 707.2h.9v.9h-.9zM225.0 704.3h.9v.9h-.9zM205.5 711.1h.9v.9h-.9zM189.3 720.8h.9v.9h-.9zM204.9 720.8h.9v.9h-.9zM185.6 717.9h.9v.9h-.9zM206.6 703.6h.9v.9h-.9zM204.2 721.9h.9v.9h-.9zM185.5 716.7h.9v.9h-.9zM197.3 707.9h.9v.9h-.9zM221.4 715.5h.9v.9h-.9zM200.9 719.2h.9v.9h-.9zM193.4 720.1h.9v.9h-.9zM201.4 715.1h.9v.9h-.9zM208.4 718.3h.9v.9h-.9zM188.6 713.9h.9v.9h-.9zM216.6 716.2h.9v.9h-.9zM191.7 708.4h.9v.9h-.9zM214.8 707.9h.9v.9h-.9zM210.0 715.3h.9v.9h-.9zM222.5 709.4h.9v.9h-.9zM188.9 715.3h.9v.9h-.9zM194.1 719.2h.9v.9h-.9zM223.9 716.7h.9v.9h-.9zM178.6 714.2h.9v.9h-.9zM203.9 716.2h.9v.9h-.9zM208.5 715.9h.9v.9h-.9zM202.5 708.4h.9v.9h-.9zM199.5 714.9h.9v.9h-.9zM201.5 704.6h.9v.9h-.9zM219.5 707.2h.9v.9h-.9zM189.8 706.6h.9v.9h-.9zM224.0 703.3h.9v.9h-.9zM207.7 714.9h.9v.9h-.9zM221.4 706.1h.9v.9h-.9zM222.2 713.1h.9v.9h-.9zM187.6 711.1h.9v.9h-.9zM209.8 706.0h.9v.9h-.9zM197.2 713.2h.9v.9h-.9zM199.6 707.4h.9v.9h-.9zM220.5 718.5h.9v.9h-.9zM195.6 712.0h.9v.9h-.9zM197.7 714.3h.9v.9h-.9zM220.4 712.6h.9v.9h-.9zM194.2 715.1h.9v.9h-.9zM210.7 717.8h.9v.9h-.9zM182.1 714.2h.9v.9h-.9zM196.0 714.0h.9v.9h-.9zM207.2 719.2h.9v.9h-.9zM205.9 713.6h.9v.9h-.9zM220.2 707.5h.9v.9h-.9zM179.3 715.4h.9v.9h-.9zM220.4 707.1h.9v.9h-.9zM191.4 719.3h.9v.9h-.9zM204.9 722.0h.9v.9h-.9zM211.7 711.5h.9v.9h-.9zM184.3 708.6h.9v.9h-.9zM221.6 714.1h.9v.9h-.9zM208.7 721.7h.9v.9h-.9zM200.4 705.6h.9v.9h-.9zM201.9 720.4h.9v.9h-.9zM213.6 715.5h.9v.9h-.9zM202.2 719.3h.9v.9h-.9zM191.6 707.7h.9v.9h-.9zM218.2 707.6h.9v.9h-.9zM226.5 705.9h.9v.9h-.9zM205.7 720.2h.9v.9h-.9zM228.2 708.9h.9v.9h-.9zM207.1 710.0h.9v.9h-.9zM219.8 712.5h.9v.9h-.9zM213.8 712.7h.9v.9h-.9zM202.9 703.5h.9v.9h-.9zM225.9 712.9h.9v.9h-.9zM206.2 709.9h.9v.9h-.9zM192.2 706.5h.9v.9h-.9zM212.0 719.4h.9v.9h-.9zM211.8 719.1h.9v.9h-.9zM210.2 717.8h.9v.9h-.9zM214.9 717.5h.9v.9h-.9zM187.6 714.9h.9v.9h-.9zM210.6 713.5h.9v.9h-.9zM210.7 703.5h.9v.9h-.9zM223.6 710.3h.9v.9h-.9zM189.0 712.0h.9v.9h-.9zM202.7 712.4h.9v.9h-.9zM189.2 713.4h.9v.9h-.9zM220.4 715.2h.9v.9h-.9zM185.2 713.8h.9v.9h-.9zM210.0 721.6h.9v.9h-.9zM208.3 717.4h.9v.9h-.9zM219.9 708.0h.9v.9h-.9zM203.4 718.2h.9v.9h-.9zM186.1 709.0h.9v.9h-.9zM219.3 708.6h.9v.9h-.9zM192.8 706.9h.9v.9h-.9zM222.8 716.5h.9v.9h-.9zM187.4 710.1h.9v.9h-.9zM212.4 715.4h.9v.9h-.9zM210.5 717.7h.9v.9h-.9zM183.9 712.6h.9v.9h-.9zM187.5 720.3h.9v.9h-.9zM193.2 720.7h.9v.9h-.9zM211.9 720.8h.9v.9h-.9zM186.1 718.5h.9v.9h-.9zM219.7 708.4h.9v.9h-.9zM221.6 712.0h.9v.9h-.9zM217.2 715.1h.9v.9h-.9zM192.1 720.4h.9v.9h-.9zM190.6 708.9h.9v.9h-.9zM193.2 720.3h.9v.9h-.9zM199.9 706.5h.9v.9h-.9zM219.6 715.8h.9v.9h-.9zM222.4 707.0h.9v.9h-.9zM182.7 710.4h.9v.9h-.9zM193.3 707.0h.9v.9h-.9zM207.7 703.7h.9v.9h-.9zM219.2 706.0h.9v.9h-.9zM214.7 708.1h.9v.9h-.9zM217.8 715.0h.9v.9h-.9zM197.3 720.2h.9v.9h-.9zM213.3 703.7h.9v.9h-.9zM206.2 705.5h.9v.9h-.9zM203.5 710.7h.9v.9h-.9zM222.5 710.9h.9v.9h-.9zM224.9 710.0h.9v.9h-.9zM216.4 715.5h.9v.9h-.9zM186.2 710.8h.9v.9h-.9zM207.6 714.0h.9v.9h-.9zM200.4 718.8h.9v.9h-.9zM204.6 720.9h.9v.9h-.9zM225.1 709.4h.9v.9h-.9zM187.0 715.0h.9v.9h-.9zM220.4 707.1h.9v.9h-.9zM190.1 714.1h.9v.9h-.9zM200.5 718.9h.9v.9h-.9zM181.9 712.8h.9v.9h-.9zM202.5 704.9h.9v.9h-.9zM200.7 719.9h.9v.9h-.9zM212.5 718.9h.9v.9h-.9zM191.1 707.0h.9v.9h-.9zM184.7 716.2h.9v.9h-.9zM212.1 711.3h.9v.9h-.9zM222.1 710.4h.9v.9h-.9zM191.3 715.4h.9v.9h-.9zM212.0 703.2h.9v.9h-.9zM201.2 715.4h.9v.9h-.9zM200.8 706.4h.9v.9h-.9zM215.7 716.3h.9v.9h-.9zM199.2 714.8h.9v.9h-.9zM223.0 705.4h.9v.9h-.9zM212.2 707.7h.9v.9h-.9zM208.4 718.1h.9v.9h-.9zM181.4 711.8h.9v.9h-.9zM209.7 704.7h.9v.9h-.9zM219.8 718.3h.9v.9h-.9zM192.5 713.6h.9v.9h-.9zM220.5 708.7h.9v.9h-.9zM197.5 705.3h.9v.9h-.9zM190.9 714.6h.9v.9h-.9zM222.0 709.3h.9v.9h-.9zM211.7 717.7h.9v.9h-.9zM201.3 706.6h.9v.9h-.9zM198.9 706.0h.9v.9h-.9zM222.0 715.8h.9v.9h-.9zM186.5 712.0h.9v.9h-.9zM181.7 709.8h.9v.9h-.9zM227.3 709.9h.9v.9h-.9zM203.4 709.7h.9v.9h-.9zM206.6 703.4h.9v.9h-.9zM216.0 703.2h.9v.9h-.9zM208.1 720.9h.9v.9h-.9zM207.8 717.9h.9v.9h-.9zM187.7 720.1h.9v.9h-.9zM216.3 704.7h.9v.9h-.9zM219.4 712.1h.9v.9h-.9zM203.3 705.0h.9v.9h-.9zM182.9 718.6h.9v.9h-.9zM217.4 715.9h.9v.9h-.9zM225.1 712.9h.9v.9h-.9zM218.4 717.0h.9v.9h-.9zM184.3 717.7h.9v.9h-.9zM194.5 706.2h.9v.9h-.9zM190.8 720.6h.9v.9h-.9zM212.7 704.7h.9v.9h-.9zM206.1 709.6h.9v.9h-.9zM225.0 715.7h.9v.9h-.9zM188.5 714.9h.9v.9h-.9zM196.6 710.1h.9v.9h-.9zM201.1 710.1h.9v.9h-.9zM204.7 709.0h.9v.9h-.9zM206.8 711.3h.9v.9h-.9zM194.0 705.7h.9v.9h-.9zM188.1 711.5h.9v.9h-.9zM193.5 709.9h.9v.9h-.9zM216.9 716.4h.9v.9h-.9zM206.5 704.5h.9v.9h-.9zM192.6 704.2h.9v.9h-.9zM218.9 706.1h.9v.9h-.9zM203.5 709.0h.9v.9h-.9zM223.3 710.8h.9v.9h-.9zM210.2 718.6h.9v.9h-.9zM213.9 712.4h.9v.9h-.9zM201.7 716.8h.9v.9h-.9zM189.0 720.5h.9v.9h-.9zM219.8 706.0h.9v.9h-.9zM181.6 718.7h.9v.9h-.9zM198.1 707.0h.9v.9h-.9zM195.0 719.4h.9v.9h-.9zM189.5 713.9h.9v.9h-.9zM196.2 715.9h.9v.9h-.9zM226.5 705.3h.9v.9h-.9zM221.1 715.6h.9v.9h-.9zM201.1 712.3h.9v.9h-.9zM191.9 718.6h.9v.9h-.9zM187.0 710.8h.9v.9h-.9zM181.3 709.4h.9v.9h-.9zM221.7 710.6h.9v.9h-.9zM188.4 715.4h.9v.9h-.9zM213.6 706.3h.9v.9h-.9zM214.0 710.5h.9v.9h-.9zM196.2 717.6h.9v.9h-.9zM213.0 717.0h.9v.9h-.9zM200.8 711.2h.9v.9h-.9zM209.0 702.3h.9v.9h-.9zM226.5 710.8h.9v.9h-.9zM229.3 708.9h.9v.9h-.9zM199.4 705.4h.9v.9h-.9zM205.0 719.3h.9v.9h-.9zM186.6 717.7h.9v.9h-.9zM227.6 710.5h.9v.9h-.9zM215.4 709.4h.9v.9h-.9zM199.4 708.0h.9v.9h-.9zM213.2 716.3h.9v.9h-.9zM206.4 704.0h.9v.9h-.9zM206.0 714.9h.9v.9h-.9zM213.4 714.9h.9v.9h-.9zM222.6 708.7h.9v.9h-.9zM202.7 708.8h.9v.9h-.9zM197.3 704.3h.9v.9h-.9zM220.0 708.9h.9v.9h-.9zM212.5 703.0h.9v.9h-.9zM217.3 718.9h.9v.9h-.9zM185.1 707.5h.9v.9h-.9zM195.9 705.3h.9v.9h-.9zM191.4 705.8h.9v.9h-.9zM220.9 710.3h.9v.9h-.9zM180.7 717.8h.9v.9h-.9zM195.3 718.2h.9v.9h-.9zM184.6 710.8h.9v.9h-.9zM200.8 717.1h.9v.9h-.9zM202.2 714.6h.9v.9h-.9zM192.7 712.2h.9v.9h-.9zM185.4 716.8h.9v.9h-.9zM183.6 708.6h.9v.9h-.9zM183.1 714.5h.9v.9h-.9zM194.4 710.8h.9v.9h-.9zM202.7 711.6h.9v.9h-.9zM190.3 710.0h.9v.9h-.9zM227.9 709.0h.9v.9h-.9zM191.1 718.5h.9v.9h-.9zM210.7 703.1h.9v.9h-.9zM192.8 721.5h.9v.9h-.9zM219.5 703.6h.9v.9h-.9zM183.6 711.2h.9v.9h-.9zM226.2 707.2h.9v.9h-.9zM188.1 706.6h.9v.9h-.9zM199.1 712.9h.9v.9h-.9zM185.5 717.4h.9v.9h-.9zM223.1 714.7h.9v.9h-.9zM209.9 717.5h.9v.9h-.9zM221.2 705.2h.9v.9h-.9zM200.0 719.6h.9v.9h-.9zM228.3 711.9h.9v.9h-.9zM214.6 703.4h.9v.9h-.9zM195.3 711.2h.9v.9h-.9zM198.2 710.4h.9v.9h-.9zM219.3 715.4h.9v.9h-.9zM216.1 715.6h.9v.9h-.9zM197.8 719.3h.9v.9h-.9zM213.5 706.6h.9v.9h-.9zM197.0 720.2h.9v.9h-.9zM183.2 715.7h.9v.9h-.9zM220.3 705.7h.9v.9h-.9zM199.4 713.1h.9v.9h-.9zM208.8 714.6h.9v.9h-.9zM226.6 712.7h.9v.9h-.9zM189.3 717.7h.9v.9h-.9zM207.8 703.0h.9v.9h-.9zM186.4 712.9h.9v.9h-.9z" fill="#bdbdbd"/><path d="M215.4 715.9h.9v.9h-.9zM191.4 723.0h.9v.9h-.9zM223.0 710.3h.9v.9h-.9zM219.4 716.9h.9v.9h-.9zM178.6 712.4h.9v.9h-.9zM202.9 698.7h.9v.9h-.9zM179.7 720.1h.9v.9h-.9zM184.5 711.4h.9v.9h-.9zM221.2 698.0h.9v.9h-.9zM172.5 724.6h.9v.9h-.9zM199.3 723.6h.9v.9h-.9zM204.2 705.5h.9v.9h-.9zM217.5 721.2h.9v.9h-.9zM214.8 721.9h.9v.9h-.9zM238.4 716.3h.9v.9h-.9zM175.0 715.4h.9v.9h-.9zM207.1 705.6h.9v.9h-.9zM190.0 718.3h.9v.9h-.9zM191.7 706.4h.9v.9h-.9zM181.6 719.4h.9v.9h-.9zM185.5 694.9h.9v.9h-.9zM191.4 719.4h.9v.9h-.9zM182.9 724.1h.9v.9h-.9zM233.8 706.2h.9v.9h-.9zM190.1 715.9h.9v.9h-.9zM180.6 716.2h.9v.9h-.9zM213.9 702.2h.9v.9h-.9zM181.2 708.5h.9v.9h-.9zM214.7 704.2h.9v.9h-.9zM185.8 719.0h.9v.9h-.9zM203.7 700.9h.9v.9h-.9zM223.1 720.0h.9v.9h-.9zM173.7 711.0h.9v.9h-.9zM175.3 718.0h.9v.9h-.9zM227.8 720.5h.9v.9h-.9zM236.4 699.5h.9v.9h-.9zM244.7 704.5h.9v.9h-.9zM178.5 718.2h.9v.9h-.9zM183.5 715.0h.9v.9h-.9zM221.1 716.8h.9v.9h-.9zM195.5 696.1h.9v.9h-.9zM183.1 710.9h.9v.9h-.9zM192.9 718.5h.9v.9h-.9zM174.6 711.0h.9v.9h-.9zM206.2 718.3h.9v.9h-.9zM207.6 720.7h.9v.9h-.9zM232.8 710.7h.9v.9h-.9zM197.0 725.1h.9v.9h-.9zM182.2 710.5h.9v.9h-.9zM203.8 723.2h.9v.9h-.9zM204.6 719.8h.9v.9h-.9zM210.4 700.6h.9v.9h-.9zM183.8 705.7h.9v.9h-.9zM227.2 711.5h.9v.9h-.9zM215.3 705.4h.9v.9h-.9zM182.7 720.9h.9v.9h-.9zM198.5 700.5h.9v.9h-.9zM233.7 706.2h.9v.9h-.9zM208.2 699.5h.9v.9h-.9zM203.9 723.8h.9v.9h-.9zM212.1 722.4h.9v.9h-.9zM222.6 711.8h.9v.9h-.9zM211.5 721.7h.9v.9h-.9zM216.6 699.2h.9v.9h-.9zM182.9 707.8h.9v.9h-.9zM177.4 705.9h.9v.9h-.9zM182.0 720.8h.9v.9h-.9zM192.7 717.0h.9v.9h-.9zM198.7 701.8h.9v.9h-.9zM230.8 714.3h.9v.9h-.9zM185.4 724.7h.9v.9h-.9zM235.4 708.9h.9v.9h-.9zM187.9 703.3h.9v.9h-.9zM192.0 719.7h.9v.9h-.9zM244.7 698.1h.9v.9h-.9zM189.4 715.8h.9v.9h-.9zM186.6 714.4h.9v.9h-.9zM220.5 714.9h.9v.9h-.9zM198.9 721.2h.9v.9h-.9zM173.8 704.0h.9v.9h-.9zM218.8 697.8h.9v.9h-.9zM184.3 703.2h.9v.9h-.9zM186.1 706.7h.9v.9h-.9zM235.4 707.5h.9v.9h-.9zM188.7 716.2h.9v.9h-.9zM211.3 700.8h.9v.9h-.9zM190.6 710.8h.9v.9h-.9zM229.9 703.4h.9v.9h-.9zM225.2 716.6h.9v.9h-.9zM216.5 721.4h.9v.9h-.9zM225.1 721.6h.9v.9h-.9zM210.8 701.3h.9v.9h-.9zM189.1 723.4h.9v.9h-.9zM206.6 705.1h.9v.9h-.9zM194.4 725.3h.9v.9h-.9zM220.5 715.5h.9v.9h-.9zM215.8 724.7h.9v.9h-.9zM188.4 709.6h.9v.9h-.9zM202.2 703.9h.9v.9h-.9zM191.3 716.8h.9v.9h-.9zM178.6 709.9h.9v.9h-.9zM180.9 721.8h.9v.9h-.9zM202.3 724.5h.9v.9h-.9zM225.0 710.7h.9v.9h-.9zM241.2 708.3h.9v.9h-.9zM221.7 705.5h.9v.9h-.9zM225.9 718.9h.9v.9h-.9zM175.3 712.0h.9v.9h-.9zM194.9 707.7h.9v.9h-.9zM214.4 697.5h.9v.9h-.9zM230.9 714.3h.9v.9h-.9zM195.9 718.1h.9v.9h-.9zM195.3 718.0h.9v.9h-.9zM178.3 714.2h.9v.9h-.9zM219.1 716.4h.9v.9h-.9zM224.6 714.3h.9v.9h-.9zM182.1 703.7h.9v.9h-.9zM202.3 702.2h.9v.9h-.9zM215.3 718.2h.9v.9h-.9zM232.8 713.9h.9v.9h-.9zM180.4 718.0h.9v.9h-.9zM224.1 719.1h.9v.9h-.9zM227.6 704.1h.9v.9h-.9zM174.1 705.9h.9v.9h-.9zM207.2 722.5h.9v.9h-.9zM226.5 702.7h.9v.9h-.9zM207.7 722.3h.9v.9h-.9zM202.2 721.4h.9v.9h-.9zM195.8 720.0h.9v.9h-.9zM192.7 707.2h.9v.9h-.9zM219.0 699.8h.9v.9h-.9zM214.6 724.4h.9v.9h-.9zM243.9 711.7h.9v.9h-.9zM217.7 721.5h.9v.9h-.9zM222.0 713.6h.9v.9h-.9zM236.2 701.6h.9v.9h-.9zM192.3 703.2h.9v.9h-.9zM208.8 701.3h.9v.9h-.9zM202.5 723.8h.9v.9h-.9zM212.2 718.3h.9v.9h-.9zM222.7 702.2h.9v.9h-.9zM232.4 711.2h.9v.9h-.9zM196.8 701.1h.9v.9h-.9zM212.7 692.9h.9v.9h-.9zM202.7 701.1h.9v.9h-.9zM199.0 705.2h.9v.9h-.9zM188.1 709.3h.9v.9h-.9zM230.7 713.4h.9v.9h-.9zM194.9 702.4h.9v.9h-.9zM190.3 710.4h.9v.9h-.9zM193.8 707.9h.9v.9h-.9zM184.5 719.3h.9v.9h-.9zM182.4 720.0h.9v.9h-.9zM195.2 699.5h.9v.9h-.9zM214.9 706.2h.9v.9h-.9zM189.7 711.8h.9v.9h-.9zM196.3 700.5h.9v.9h-.9zM178.5 716.2h.9v.9h-.9zM225.0 700.7h.9v.9h-.9zM238.0 708.7h.9v.9h-.9zM172.5 713.8h.9v.9h-.9zM214.7 700.5h.9v.9h-.9zM197.8 700.6h.9v.9h-.9zM198.6 721.5h.9v.9h-.9zM184.2 702.5h.9v.9h-.9zM192.9 702.7h.9v.9h-.9zM236.6 707.0h.9v.9h-.9zM180.6 717.9h.9v.9h-.9zM178.7 711.5h.9v.9h-.9zM228.1 715.6h.9v.9h-.9zM227.1 698.9h.9v.9h-.9zM219.7 721.8h.9v.9h-.9zM212.2 724.8h.9v.9h-.9zM183.3 712.2h.9v.9h-.9zM194.4 703.1h.9v.9h-.9zM173.4 715.8h.9v.9h-.9zM231.5 707.9h.9v.9h-.9zM197.2 720.4h.9v.9h-.9zM220.4 711.3h.9v.9h-.9zM241.6 712.3h.9v.9h-.9zM225.3 724.5h.9v.9h-.9zM220.6 713.2h.9v.9h-.9zM178.9 717.2h.9v.9h-.9zM174.8 713.9h.9v.9h-.9zM217.1 695.6h.9v.9h-.9zM212.6 725.7h.9v.9h-.9zM239.0 711.4h.9v.9h-.9zM226.8 696.0h.9v.9h-.9zM215.3 716.6h.9v.9h-.9zM235.8 702.3h.9v.9h-.9zM233.3 715.2h.9v.9h-.9zM205.0 693.9h.9v.9h-.9zM185.6 721.1h.9v.9h-.9zM198.3 718.3h.9v.9h-.9zM227.4 701.9h.9v.9h-.9zM191.0 709.9h.9v.9h-.9zM231.5 705.0h.9v.9h-.9zM182.3 704.8h.9v.9h-.9zM225.6 718.5h.9v.9h-.9zM231.3 721.0h.9v.9h-.9zM210.7 722.8h.9v.9h-.9zM195.2 722.2h.9v.9h-.9zM188.4 713.4h.9v.9h-.9zM219.7 720.6h.9v.9h-.9zM202.1 697.1h.9v.9h-.9zM189.3 708.1h.9v.9h-.9zM213.7 721.4h.9v.9h-.9zM230.7 710.7h.9v.9h-.9zM221.9 714.0h.9v.9h-.9zM218.7 701.8h.9v.9h-.9zM226.3 712.2h.9v.9h-.9zM228.9 696.6h.9v.9h-.9zM200.8 700.2h.9v.9h-.9zM192.3 722.9h.9v.9h-.9zM202.5 725.3h.9v.9h-.9zM241.0 713.1h.9v.9h-.9zM221.1 716.6h.9v.9h-.9zM231.0 705.5h.9v.9h-.9zM173.3 717.8h.9v.9h-.9zM223.1 720.7h.9v.9h-.9zM211.8 722.5h.9v.9h-.9zM233.8 708.7h.9v.9h-.9zM213.5 702.4h.9v.9h-.9zM180.3 705.5h.9v.9h-.9zM200.0 705.2h.9v.9h-.9zM177.0 713.7h.9v.9h-.9zM234.9 703.6h.9v.9h-.9zM172.1 712.0h.9v.9h-.9zM197.2 707.2h.9v.9h-.9zM230.2 705.1h.9v.9h-.9zM223.7 699.3h.9v.9h-.9zM198.0 723.1h.9v.9h-.9zM187.5 714.2h.9v.9h-.9zM180.3 708.4h.9v.9h-.9zM237.5 712.6h.9v.9h-.9zM224.1 708.8h.9v.9h-.9zM188.0 700.5h.9v.9h-.9zM215.0 720.6h.9v.9h-.9zM222.6 710.4h.9v.9h-.9zM186.2 720.4h.9v.9h-.9zM220.3 710.4h.9v.9h-.9zM187.9 715.0h.9v.9h-.9zM174.1 714.8h.9v.9h-.9zM189.0 717.0h.9v.9h-.9zM173.6 722.6h.9v.9h-.9zM185.7 723.0h.9v.9h-.9zM232.1 711.9h.9v.9h-.9zM200.7 702.0h.9v.9h-.9zM198.4 720.5h.9v.9h-.9zM231.6 709.4h.9v.9h-.9zM190.1 703.6h.9v.9h-.9zM184.8 702.1h.9v.9h-.9zM202.9 720.1h.9v.9h-.9zM178.0 714.8h.9v.9h-.9zM219.6 722.9h.9v.9h-.9zM215.4 722.1h.9v.9h-.9zM195.0 701.1h.9v.9h-.9zM205.3 704.1h.9v.9h-.9zM194.2 707.1h.9v.9h-.9zM204.3 703.0h.9v.9h-.9zM172.5 704.9h.9v.9h-.9zM213.3 702.5h.9v.9h-.9zM232.7 710.1h.9v.9h-.9zM233.8 705.3h.9v.9h-.9zM213.4 706.1h.9v.9h-.9zM198.2 723.0h.9v.9h-.9zM177.8 713.8h.9v.9h-.9zM201.9 705.4h.9v.9h-.9zM223.7 704.1h.9v.9h-.9zM216.7 705.7h.9v.9h-.9zM190.2 716.1h.9v.9h-.9zM191.4 717.0h.9v.9h-.9zM176.7 716.4h.9v.9h-.9zM209.9 717.8h.9v.9h-.9zM183.9 722.0h.9v.9h-.9zM194.2 717.4h.9v.9h-.9zM219.7 698.7h.9v.9h-.9zM216.4 722.4h.9v.9h-.9zM178.0 707.7h.9v.9h-.9zM187.6 716.2h.9v.9h-.9zM212.1 724.1h.9v.9h-.9zM240.1 710.6h.9v.9h-.9zM186.3 724.6h.9v.9h-.9zM221.8 703.7h.9v.9h-.9zM210.7 721.9h.9v.9h-.9zM192.4 719.7h.9v.9h-.9zM205.6 700.3h.9v.9h-.9zM230.4 703.3h.9v.9h-.9zM223.7 715.0h.9v.9h-.9zM196.7 722.8h.9v.9h-.9zM208.2 717.8h.9v.9h-.9zM197.3 695.7h.9v.9h-.9zM204.0 723.4h.9v.9h-.9z" fill="#8a8a8a"/></g>
<ellipse cx="208" cy="697" rx="12.0" ry="3.0" fill="#d4d4d4" opacity="0.06" filter="url(#cb)" transform="rotate(0 208 697)"/>
<g filter="url(#db)"><path d="M208.4 697.8h.9v.9h-.9zM213.6 697.5h.9v.9h-.9zM210.9 696.4h.9v.9h-.9zM208.8 699.2h.9v.9h-.9zM200.1 696.6h.9v.9h-.9zM207.0 698.2h.9v.9h-.9zM205.7 699.5h.9v.9h-.9zM203.8 698.2h.9v.9h-.9zM206.8 696.5h.9v.9h-.9zM203.3 694.7h.9v.9h-.9zM218.5 696.7h.9v.9h-.9zM212.8 695.3h.9v.9h-.9zM203.6 697.6h.9v.9h-.9zM206.7 698.6h.9v.9h-.9zM202.3 696.2h.9v.9h-.9zM202.2 696.0h.9v.9h-.9zM206.2 697.1h.9v.9h-.9zM213.8 696.6h.9v.9h-.9zM211.2 697.1h.9v.9h-.9zM214.9 697.4h.9v.9h-.9zM205.9 697.0h.9v.9h-.9zM200.3 696.7h.9v.9h-.9zM216.5 697.1h.9v.9h-.9zM207.8 694.6h.9v.9h-.9zM205.6 698.1h.9v.9h-.9zM212.9 697.7h.9v.9h-.9zM197.2 696.6h.9v.9h-.9zM213.1 698.8h.9v.9h-.9zM217.1 695.8h.9v.9h-.9zM210.5 697.4h.9v.9h-.9zM201.1 694.9h.9v.9h-.9zM203.5 697.8h.9v.9h-.9zM210.0 696.5h.9v.9h-.9zM206.5 696.1h.9v.9h-.9zM203.2 696.9h.9v.9h-.9zM212.0 697.5h.9v.9h-.9zM207.6 697.1h.9v.9h-.9zM199.7 698.3h.9v.9h-.9zM209.1 697.1h.9v.9h-.9zM211.3 699.3h.9v.9h-.9zM206.3 698.7h.9v.9h-.9zM215.9 696.9h.9v.9h-.9zM208.3 698.9h.9v.9h-.9zM205.1 695.3h.9v.9h-.9zM211.3 696.7h.9v.9h-.9zM202.8 696.4h.9v.9h-.9zM201.2 695.1h.9v.9h-.9zM215.2 697.0h.9v.9h-.9zM214.6 698.0h.9v.9h-.9zM209.9 695.3h.9v.9h-.9zM201.6 697.0h.9v.9h-.9zM204.3 697.5h.9v.9h-.9zM202.7 698.8h.9v.9h-.9zM210.8 697.8h.9v.9h-.9zM204.2 697.4h.9v.9h-.9zM208.0 695.2h.9v.9h-.9zM198.2 698.0h.9v.9h-.9zM209.3 697.5h.9v.9h-.9zM217.0 697.0h.9v.9h-.9zM200.8 696.7h.9v.9h-.9zM201.6 696.6h.9v.9h-.9zM217.8 695.8h.9v.9h-.9zM207.1 695.7h.9v.9h-.9zM204.5 695.6h.9v.9h-.9zM214.0 699.1h.9v.9h-.9zM205.4 696.6h.9v.9h-.9z" fill="#ececec"/><path d="M202.3 693.1h.9v.9h-.9zM220.0 695.9h.9v.9h-.9zM203.1 694.9h.9v.9h-.9zM209.7 700.9h.9v.9h-.9zM206.8 701.0h.9v.9h-.9zM196.8 700.0h.9v.9h-.9zM216.4 696.9h.9v.9h-.9zM220.5 697.1h.9v.9h-.9zM207.3 699.8h.9v.9h-.9zM218.4 695.9h.9v.9h-.9zM203.9 695.1h.9v.9h-.9zM219.2 696.4h.9v.9h-.9zM214.4 696.1h.9v.9h-.9zM213.6 694.2h.9v.9h-.9zM218.2 699.5h.9v.9h-.9zM203.6 698.9h.9v.9h-.9zM201.8 696.2h.9v.9h-.9zM205.4 695.8h.9v.9h-.9zM224.3 698.8h.9v.9h-.9zM214.5 693.7h.9v.9h-.9zM203.6 697.0h.9v.9h-.9zM194.3 697.8h.9v.9h-.9zM194.0 697.6h.9v.9h-.9zM205.3 694.5h.9v.9h-.9zM212.9 700.1h.9v.9h-.9zM217.7 698.8h.9v.9h-.9zM206.8 699.4h.9v.9h-.9zM215.6 694.1h.9v.9h-.9zM217.9 697.0h.9v.9h-.9zM196.7 699.4h.9v.9h-.9zM218.4 700.4h.9v.9h-.9zM196.5 699.2h.9v.9h-.9zM211.9 696.7h.9v.9h-.9zM204.4 692.4h.9v.9h-.9zM195.6 700.0h.9v.9h-.9zM205.8 699.8h.9v.9h-.9zM201.4 699.3h.9v.9h-.9zM199.0 699.0h.9v.9h-.9zM213.9 695.5h.9v.9h-.9zM200.3 699.9h.9v.9h-.9zM219.4 694.0h.9v.9h-.9zM226.1 697.5h.9v.9h-.9zM216.5 694.7h.9v.9h-.9zM192.8 698.5h.9v.9h-.9zM200.9 700.8h.9v.9h-.9zM197.8 700.0h.9v.9h-.9zM209.0 692.9h.9v.9h-.9zM203.0 697.9h.9v.9h-.9zM194.3 695.8h.9v.9h-.9zM204.9 698.6h.9v.9h-.9zM209.0 697.6h.9v.9h-.9zM217.3 699.1h.9v.9h-.9zM217.4 700.1h.9v.9h-.9zM205.4 695.4h.9v.9h-.9zM204.2 694.5h.9v.9h-.9zM198.2 695.3h.9v.9h-.9zM200.3 694.2h.9v.9h-.9zM211.2 700.3h.9v.9h-.9zM216.0 694.9h.9v.9h-.9zM211.5 699.7h.9v.9h-.9zM212.6 696.7h.9v.9h-.9zM196.5 699.7h.9v.9h-.9z" fill="#bdbdbd"/><path d="M214.3 701.9h.9v.9h-.9zM206.2 703.1h.9v.9h-.9zM198.0 698.6h.9v.9h-.9zM194.6 701.5h.9v.9h-.9zM203.3 693.3h.9v.9h-.9zM226.0 694.8h.9v.9h-.9zM214.3 693.1h.9v.9h-.9zM220.7 702.5h.9v.9h-.9zM228.1 695.7h.9v.9h-.9zM210.7 689.4h.9v.9h-.9zM190.1 702.2h.9v.9h-.9zM197.1 703.9h.9v.9h-.9zM198.9 691.0h.9v.9h-.9zM229.9 697.8h.9v.9h-.9zM185.0 695.3h.9v.9h-.9zM215.2 702.3h.9v.9h-.9zM190.0 701.2h.9v.9h-.9zM187.9 697.4h.9v.9h-.9zM189.9 695.1h.9v.9h-.9zM214.8 701.0h.9v.9h-.9zM188.7 696.3h.9v.9h-.9zM228.1 693.1h.9v.9h-.9zM197.3 702.6h.9v.9h-.9zM199.4 691.7h.9v.9h-.9zM226.8 695.2h.9v.9h-.9zM212.6 701.9h.9v.9h-.9zM223.7 694.1h.9v.9h-.9zM194.2 699.5h.9v.9h-.9zM217.6 695.4h.9v.9h-.9zM235.3 695.9h.9v.9h-.9zM213.5 690.6h.9v.9h-.9zM190.3 697.4h.9v.9h-.9z" fill="#8a8a8a"/></g>
<line x1="224.5" y1="653.8" x2="224.5" y2="726.6" stroke="#8a8a8a" stroke-width="0.9"/>
<line x1="172" y1="699" x2="248.8" y2="699" stroke="#8a8a8a" stroke-width="0.9"/>
<text x="210.3" y="688.9" font-size="4.8" fill="#c4c4c4" class="q" text-anchor="middle" font-family="Liberation Sans, sans-serif">Q1</text>
<text x="235.7" y="688.9" font-size="4.8" fill="#c4c4c4" class="q" text-anchor="middle" font-family="Liberation Sans, sans-serif">Q2</text>
<text x="213.5" y="713.4" font-size="4.8" fill="#c4c4c4" class="q" text-anchor="middle" font-family="Liberation Sans, sans-serif">Q3</text>
<text x="237.8" y="714.9" font-size="4.8" fill="#c4c4c4" class="q" text-anchor="middle" font-family="Liberation Sans, sans-serif">Q4</text>
<text x="248.3" y="725.6" font-size="11" text-anchor="end" font-family="Liberation Serif, serif" class="w" font-weight="bold" fill="#fff" letter-spacing="-0.35">3.8%</text>
<path d="M169.4 725.60h2.6M169.4 720.27h2.6M169.4 717.15h2.6M169.4 714.94h2.6M169.4 713.23h2.6M169.4 711.83h2.6M169.4 710.64h2.6M169.4 709.62h2.6M169.4 708.71h2.6M169.4 707.90h2.6M169.4 702.57h2.6M169.4 699.45h2.6M169.4 697.24h2.6M169.4 695.53h2.6M169.4 694.13h2.6M169.4 692.94h2.6M169.4 691.92h2.6M169.4 691.01h2.6M169.4 690.20h2.6M169.4 684.87h2.6M169.4 681.75h2.6M169.4 679.54h2.6M169.4 677.83h2.6M169.4 676.43h2.6M169.4 675.24h2.6M169.4 674.22h2.6M169.4 673.31h2.6M169.4 672.50h2.6M169.4 667.17h2.6M169.4 664.05h2.6M169.4 661.84h2.6M169.4 660.13h2.6M169.4 658.73h2.6M169.4 657.54h2.6M169.4 656.52h2.6M169.4 655.61h2.6M169.4 654.80h2.6" stroke="#555" stroke-width="0.6"/>
<path d="M173.00 726.6v2.8M178.63 726.6v2.8M181.92 726.6v2.8M184.26 726.6v2.8M186.07 726.6v2.8M187.55 726.6v2.8M188.80 726.6v2.8M189.89 726.6v2.8M190.84 726.6v2.8M191.70 726.6v2.8M197.33 726.6v2.8M200.62 726.6v2.8M202.96 726.6v2.8M204.77 726.6v2.8M206.25 726.6v2.8M207.50 726.6v2.8M208.59 726.6v2.8M209.54 726.6v2.8M210.40 726.6v2.8M216.03 726.6v2.8M219.32 726.6v2.8M221.66 726.6v2.8M223.47 726.6v2.8M224.95 726.6v2.8M226.20 726.6v2.8M227.29 726.6v2.8M228.24 726.6v2.8M229.10 726.6v2.8M234.73 726.6v2.8M238.02 726.6v2.8M240.36 726.6v2.8M242.17 726.6v2.8M243.65 726.6v2.8M244.90 726.6v2.8M245.99 726.6v2.8M246.94 726.6v2.8M247.80 726.6v2.8" stroke="#555" stroke-width="0.6"/>
<text x="210.5" y="651.8" font-size="9" text-anchor="middle" font-family="Liberation Serif, serif" class="b"><tspan font-style="italic">SET</tspan> siRNA exon 8</text>
<text class="b" transform="translate(163.5,689.2) rotate(-90)" font-size="9" text-anchor="middle" font-family="Liberation Serif, serif">side scatter</text>
<text x="209.4" y="741.3" font-size="9" text-anchor="middle" font-family="Liberation Serif, serif" class="b">mCD3</text>
<rect x="314" y="653.8" width="82.5" height="73.5" fill="#000"/>
<ellipse cx="362.5" cy="713" rx="10.799999999999999" ry="5.3999999999999995" fill="#d4d4d4" opacity="0.88" filter="url(#cb)" transform="rotate(-25 362.5 713)"/>
<g filter="url(#db)"><path d="M364.5 713.8h.9v.9h-.9zM361.2 708.6h.9v.9h-.9zM365.0 710.9h.9v.9h-.9zM368.4 708.7h.9v.9h-.9zM367.2 711.7h.9v.9h-.9zM361.7 717.5h.9v.9h-.9zM357.4 715.4h.9v.9h-.9zM358.7 714.2h.9v.9h-.9zM358.3 711.7h.9v.9h-.9zM356.3 716.4h.9v.9h-.9zM355.8 718.8h.9v.9h-.9zM362.6 713.7h.9v.9h-.9zM367.3 707.3h.9v.9h-.9zM360.6 717.4h.9v.9h-.9zM370.7 709.9h.9v.9h-.9zM361.7 711.7h.9v.9h-.9zM359.9 711.7h.9v.9h-.9zM362.9 707.9h.9v.9h-.9zM364.1 716.6h.9v.9h-.9zM358.6 709.7h.9v.9h-.9zM362.3 712.0h.9v.9h-.9zM359.7 711.3h.9v.9h-.9zM354.9 712.9h.9v.9h-.9zM367.9 706.9h.9v.9h-.9zM362.7 715.8h.9v.9h-.9zM363.3 715.2h.9v.9h-.9zM363.6 715.5h.9v.9h-.9zM369.3 712.1h.9v.9h-.9zM364.4 716.3h.9v.9h-.9zM362.7 711.7h.9v.9h-.9zM367.8 707.4h.9v.9h-.9zM354.1 716.7h.9v.9h-.9zM368.8 710.0h.9v.9h-.9zM362.2 709.4h.9v.9h-.9zM364.5 709.7h.9v.9h-.9zM362.3 716.9h.9v.9h-.9zM365.1 709.1h.9v.9h-.9zM361.8 712.5h.9v.9h-.9zM353.4 715.9h.9v.9h-.9zM363.8 710.3h.9v.9h-.9zM362.6 715.0h.9v.9h-.9zM358.7 715.7h.9v.9h-.9zM366.7 716.2h.9v.9h-.9zM359.6 712.0h.9v.9h-.9zM360.7 715.3h.9v.9h-.9zM355.7 712.9h.9v.9h-.9zM363.1 711.1h.9v.9h-.9zM364.2 711.7h.9v.9h-.9zM367.9 707.6h.9v.9h-.9zM356.5 715.5h.9v.9h-.9zM368.3 712.8h.9v.9h-.9zM366.1 711.5h.9v.9h-.9zM366.2 712.3h.9v.9h-.9zM357.5 713.6h.9v.9h-.9zM361.1 717.0h.9v.9h-.9zM365.4 716.1h.9v.9h-.9zM366.5 716.1h.9v.9h-.9zM362.1 711.6h.9v.9h-.9zM359.1 715.8h.9v.9h-.9zM365.2 709.0h.9v.9h-.9zM358.6 713.0h.9v.9h-.9zM365.1 708.5h.9v.9h-.9zM362.4 714.4h.9v.9h-.9zM365.1 711.7h.9v.9h-.9zM364.7 709.5h.9v.9h-.9zM364.2 708.9h.9v.9h-.9zM360.6 709.4h.9v.9h-.9zM366.3 715.4h.9v.9h-.9zM365.9 716.0h.9v.9h-.9zM359.8 710.9h.9v.9h-.9zM368.6 708.5h.9v.9h-.9zM369.3 711.7h.9v.9h-.9zM362.0 713.8h.9v.9h-.9zM365.9 714.6h.9v.9h-.9zM367.1 714.7h.9v.9h-.9zM358.1 712.8h.9v.9h-.9zM360.0 714.9h.9v.9h-.9zM368.4 708.5h.9v.9h-.9zM363.1 717.5h.9v.9h-.9zM357.3 714.0h.9v.9h-.9zM363.0 713.7h.9v.9h-.9zM354.7 714.9h.9v.9h-.9zM356.4 711.2h.9v.9h-.9zM366.5 713.6h.9v.9h-.9zM359.6 713.7h.9v.9h-.9zM363.2 711.1h.9v.9h-.9zM361.0 716.5h.9v.9h-.9zM367.2 711.8h.9v.9h-.9zM370.0 709.6h.9v.9h-.9zM363.7 715.1h.9v.9h-.9zM367.2 712.8h.9v.9h-.9zM366.2 711.7h.9v.9h-.9zM356.6 712.1h.9v.9h-.9zM371.2 710.4h.9v.9h-.9zM367.2 711.7h.9v.9h-.9zM361.3 715.1h.9v.9h-.9zM355.3 716.4h.9v.9h-.9zM359.5 711.5h.9v.9h-.9zM356.4 718.6h.9v.9h-.9zM361.1 713.7h.9v.9h-.9zM367.2 713.2h.9v.9h-.9zM363.9 712.2h.9v.9h-.9zM357.4 719.0h.9v.9h-.9zM358.2 718.3h.9v.9h-.9zM370.5 711.8h.9v.9h-.9zM359.8 717.0h.9v.9h-.9zM353.4 716.9h.9v.9h-.9zM360.8 717.0h.9v.9h-.9zM362.6 713.2h.9v.9h-.9zM366.6 708.1h.9v.9h-.9zM367.5 712.4h.9v.9h-.9zM367.2 712.0h.9v.9h-.9zM363.7 707.5h.9v.9h-.9zM362.9 708.6h.9v.9h-.9zM362.9 707.8h.9v.9h-.9zM356.8 716.5h.9v.9h-.9zM361.5 716.6h.9v.9h-.9zM361.4 717.7h.9v.9h-.9zM365.6 711.3h.9v.9h-.9zM355.3 717.0h.9v.9h-.9zM368.9 708.5h.9v.9h-.9zM362.1 712.9h.9v.9h-.9zM367.4 711.6h.9v.9h-.9zM357.1 711.5h.9v.9h-.9zM367.9 714.9h.9v.9h-.9zM359.6 717.4h.9v.9h-.9zM366.2 716.2h.9v.9h-.9zM363.9 708.1h.9v.9h-.9zM358.1 717.7h.9v.9h-.9zM367.0 709.4h.9v.9h-.9zM362.9 711.9h.9v.9h-.9zM358.0 718.3h.9v.9h-.9zM370.0 708.0h.9v.9h-.9zM364.5 711.2h.9v.9h-.9zM369.3 707.6h.9v.9h-.9zM365.2 716.5h.9v.9h-.9zM363.2 717.8h.9v.9h-.9zM360.5 711.5h.9v.9h-.9zM360.8 713.2h.9v.9h-.9zM361.9 713.0h.9v.9h-.9zM365.5 711.8h.9v.9h-.9zM363.0 716.3h.9v.9h-.9zM370.4 711.7h.9v.9h-.9zM363.0 709.3h.9v.9h-.9zM358.5 714.4h.9v.9h-.9zM366.5 709.7h.9v.9h-.9zM359.7 718.0h.9v.9h-.9zM362.8 715.5h.9v.9h-.9zM361.9 712.9h.9v.9h-.9zM367.7 710.1h.9v.9h-.9zM359.4 710.6h.9v.9h-.9zM361.4 714.9h.9v.9h-.9zM363.8 711.0h.9v.9h-.9zM360.0 718.0h.9v.9h-.9zM369.0 713.1h.9v.9h-.9zM359.1 713.9h.9v.9h-.9zM360.5 709.9h.9v.9h-.9zM360.5 714.8h.9v.9h-.9zM361.1 716.8h.9v.9h-.9zM355.2 715.2h.9v.9h-.9zM357.8 713.4h.9v.9h-.9zM366.4 716.3h.9v.9h-.9zM364.7 713.4h.9v.9h-.9zM368.0 708.3h.9v.9h-.9zM362.5 715.4h.9v.9h-.9zM360.7 710.3h.9v.9h-.9zM360.1 716.3h.9v.9h-.9zM363.8 709.2h.9v.9h-.9zM360.3 713.5h.9v.9h-.9zM363.5 710.4h.9v.9h-.9zM361.1 710.7h.9v.9h-.9zM358.0 718.3h.9v.9h-.9zM368.8 707.9h.9v.9h-.9zM363.0 716.8h.9v.9h-.9zM359.7 714.0h.9v.9h-.9zM359.3 715.5h.9v.9h-.9zM361.5 716.6h.9v.9h-.9zM362.0 716.0h.9v.9h-.9zM366.6 710.1h.9v.9h-.9zM366.1 709.5h.9v.9h-.9zM362.1 714.7h.9v.9h-.9zM363.6 708.4h.9v.9h-.9zM365.5 713.0h.9v.9h-.9zM366.4 714.6h.9v.9h-.9zM357.2 716.5h.9v.9h-.9zM366.7 712.4h.9v.9h-.9zM363.0 715.4h.9v.9h-.9zM364.2 709.1h.9v.9h-.9zM367.0 710.0h.9v.9h-.9zM354.7 714.0h.9v.9h-.9zM360.7 713.9h.9v.9h-.9zM356.2 714.4h.9v.9h-.9zM366.5 711.0h.9v.9h-.9zM363.9 710.4h.9v.9h-.9zM360.0 713.2h.9v.9h-.9zM369.6 709.3h.9v.9h-.9zM362.0 714.4h.9v.9h-.9zM362.7 717.2h.9v.9h-.9zM364.1 707.9h.9v.9h-.9zM365.3 708.0h.9v.9h-.9zM359.4 716.4h.9v.9h-.9zM356.4 712.1h.9v.9h-.9zM363.5 714.8h.9v.9h-.9zM359.0 711.5h.9v.9h-.9zM366.4 710.1h.9v.9h-.9zM366.3 708.7h.9v.9h-.9zM358.1 716.4h.9v.9h-.9zM368.2 708.6h.9v.9h-.9zM357.7 717.1h.9v.9h-.9zM362.2 717.0h.9v.9h-.9zM365.6 714.8h.9v.9h-.9zM353.7 715.6h.9v.9h-.9zM366.6 716.1h.9v.9h-.9zM368.7 707.8h.9v.9h-.9zM369.0 709.1h.9v.9h-.9zM359.1 709.4h.9v.9h-.9zM361.1 711.9h.9v.9h-.9zM361.9 713.1h.9v.9h-.9zM362.6 718.0h.9v.9h-.9zM365.8 714.7h.9v.9h-.9zM365.8 709.1h.9v.9h-.9zM353.8 714.6h.9v.9h-.9zM360.1 714.0h.9v.9h-.9zM357.6 719.0h.9v.9h-.9zM359.2 715.9h.9v.9h-.9zM367.5 710.6h.9v.9h-.9zM355.5 712.0h.9v.9h-.9zM355.0 717.9h.9v.9h-.9zM358.1 717.6h.9v.9h-.9zM362.3 710.3h.9v.9h-.9zM359.7 710.8h.9v.9h-.9zM369.4 710.9h.9v.9h-.9zM364.9 715.8h.9v.9h-.9zM362.6 707.8h.9v.9h-.9zM362.7 710.7h.9v.9h-.9zM364.7 711.5h.9v.9h-.9zM361.5 712.3h.9v.9h-.9zM369.9 711.8h.9v.9h-.9zM360.5 712.7h.9v.9h-.9zM359.7 714.0h.9v.9h-.9zM359.3 718.2h.9v.9h-.9zM361.8 715.1h.9v.9h-.9zM359.1 714.6h.9v.9h-.9zM362.6 710.5h.9v.9h-.9zM358.4 716.9h.9v.9h-.9zM365.6 712.1h.9v.9h-.9zM360.4 716.0h.9v.9h-.9zM366.1 710.5h.9v.9h-.9zM368.0 710.5h.9v.9h-.9zM360.2 711.7h.9v.9h-.9z" fill="#ececec"/><path d="M352.2 717.4h.9v.9h-.9zM353.3 718.8h.9v.9h-.9zM372.3 709.5h.9v.9h-.9zM358.5 709.1h.9v.9h-.9zM350.0 719.0h.9v.9h-.9zM353.2 714.1h.9v.9h-.9zM370.5 712.8h.9v.9h-.9zM377.6 707.0h.9v.9h-.9zM369.0 708.7h.9v.9h-.9zM365.0 715.7h.9v.9h-.9zM364.3 715.7h.9v.9h-.9zM349.9 716.5h.9v.9h-.9zM370.7 707.6h.9v.9h-.9zM351.5 722.4h.9v.9h-.9zM373.5 704.7h.9v.9h-.9zM356.9 716.7h.9v.9h-.9zM347.6 715.9h.9v.9h-.9zM368.3 708.2h.9v.9h-.9zM352.8 720.2h.9v.9h-.9zM352.1 710.3h.9v.9h-.9zM356.6 723.5h.9v.9h-.9zM354.2 708.2h.9v.9h-.9zM368.1 706.6h.9v.9h-.9zM362.1 705.9h.9v.9h-.9zM369.9 706.8h.9v.9h-.9zM354.7 709.6h.9v.9h-.9zM370.8 712.1h.9v.9h-.9zM360.2 718.0h.9v.9h-.9zM361.2 719.2h.9v.9h-.9zM352.6 722.8h.9v.9h-.9zM373.7 708.4h.9v.9h-.9zM369.4 714.5h.9v.9h-.9zM369.4 703.2h.9v.9h-.9zM362.5 707.0h.9v.9h-.9zM366.7 719.6h.9v.9h-.9zM361.9 706.3h.9v.9h-.9zM367.3 706.2h.9v.9h-.9zM360.1 722.6h.9v.9h-.9zM354.3 715.9h.9v.9h-.9zM358.5 713.5h.9v.9h-.9zM354.6 710.3h.9v.9h-.9zM349.4 715.1h.9v.9h-.9zM376.2 710.3h.9v.9h-.9zM350.6 721.4h.9v.9h-.9zM359.8 711.7h.9v.9h-.9zM369.2 703.6h.9v.9h-.9zM349.1 716.2h.9v.9h-.9zM373.4 709.0h.9v.9h-.9zM349.5 717.0h.9v.9h-.9zM376.7 707.2h.9v.9h-.9zM366.4 719.8h.9v.9h-.9zM370.8 713.3h.9v.9h-.9zM367.2 719.6h.9v.9h-.9zM364.8 720.5h.9v.9h-.9zM375.3 708.0h.9v.9h-.9zM371.7 708.7h.9v.9h-.9zM372.3 703.6h.9v.9h-.9zM373.7 711.3h.9v.9h-.9zM353.6 712.5h.9v.9h-.9zM354.5 710.4h.9v.9h-.9zM359.1 715.2h.9v.9h-.9zM358.8 709.2h.9v.9h-.9zM368.4 709.6h.9v.9h-.9zM360.8 713.3h.9v.9h-.9zM369.4 716.9h.9v.9h-.9zM365.5 706.2h.9v.9h-.9zM363.3 704.9h.9v.9h-.9zM347.3 715.9h.9v.9h-.9zM370.5 712.8h.9v.9h-.9zM374.6 705.3h.9v.9h-.9zM351.0 719.1h.9v.9h-.9zM368.4 716.0h.9v.9h-.9zM369.6 707.5h.9v.9h-.9zM368.4 706.2h.9v.9h-.9zM351.4 715.2h.9v.9h-.9zM371.0 709.8h.9v.9h-.9zM366.1 717.2h.9v.9h-.9zM373.0 709.7h.9v.9h-.9zM366.0 718.4h.9v.9h-.9zM359.3 706.2h.9v.9h-.9zM370.4 714.2h.9v.9h-.9zM358.6 705.4h.9v.9h-.9zM374.5 710.1h.9v.9h-.9zM369.3 716.2h.9v.9h-.9zM353.8 722.6h.9v.9h-.9zM359.6 720.9h.9v.9h-.9zM368.2 710.1h.9v.9h-.9zM352.7 711.4h.9v.9h-.9zM362.7 715.5h.9v.9h-.9zM371.3 710.3h.9v.9h-.9zM362.8 706.5h.9v.9h-.9zM352.7 715.5h.9v.9h-.9zM359.2 722.8h.9v.9h-.9zM365.9 718.0h.9v.9h-.9zM361.6 710.4h.9v.9h-.9zM369.8 705.4h.9v.9h-.9zM351.8 720.8h.9v.9h-.9zM354.0 719.4h.9v.9h-.9zM368.0 705.6h.9v.9h-.9zM370.0 712.4h.9v.9h-.9zM364.3 718.9h.9v.9h-.9zM363.6 707.4h.9v.9h-.9zM374.4 714.3h.9v.9h-.9zM367.7 717.8h.9v.9h-.9zM355.3 712.9h.9v.9h-.9zM349.0 720.3h.9v.9h-.9zM373.2 713.3h.9v.9h-.9zM362.7 705.5h.9v.9h-.9zM358.1 723.1h.9v.9h-.9zM368.3 704.0h.9v.9h-.9zM367.5 716.1h.9v.9h-.9zM371.3 704.0h.9v.9h-.9zM357.7 709.9h.9v.9h-.9zM349.1 715.9h.9v.9h-.9zM371.9 707.5h.9v.9h-.9zM353.0 716.4h.9v.9h-.9zM353.7 719.3h.9v.9h-.9zM373.1 707.6h.9v.9h-.9zM360.3 720.2h.9v.9h-.9zM354.5 718.4h.9v.9h-.9zM353.5 720.9h.9v.9h-.9zM358.5 714.4h.9v.9h-.9zM363.1 720.7h.9v.9h-.9zM352.4 711.6h.9v.9h-.9zM350.8 718.3h.9v.9h-.9zM361.0 719.1h.9v.9h-.9zM363.7 711.0h.9v.9h-.9zM367.1 719.5h.9v.9h-.9zM372.7 715.8h.9v.9h-.9zM361.1 707.6h.9v.9h-.9zM352.5 719.1h.9v.9h-.9zM354.7 709.0h.9v.9h-.9zM364.3 706.8h.9v.9h-.9zM361.9 706.0h.9v.9h-.9zM366.4 712.5h.9v.9h-.9zM354.1 710.0h.9v.9h-.9zM367.5 716.7h.9v.9h-.9zM351.0 715.6h.9v.9h-.9zM362.7 704.8h.9v.9h-.9zM367.1 711.4h.9v.9h-.9zM371.2 705.4h.9v.9h-.9zM355.0 719.2h.9v.9h-.9zM361.5 709.1h.9v.9h-.9zM366.6 718.0h.9v.9h-.9zM356.9 711.0h.9v.9h-.9zM364.0 713.4h.9v.9h-.9zM361.5 718.7h.9v.9h-.9zM366.6 705.6h.9v.9h-.9zM368.9 704.8h.9v.9h-.9zM350.3 712.5h.9v.9h-.9zM360.4 707.8h.9v.9h-.9zM350.1 712.3h.9v.9h-.9zM353.1 720.2h.9v.9h-.9zM367.5 718.3h.9v.9h-.9zM365.1 707.0h.9v.9h-.9zM371.8 712.9h.9v.9h-.9zM356.4 720.8h.9v.9h-.9zM353.5 717.3h.9v.9h-.9zM373.4 712.8h.9v.9h-.9zM361.3 704.9h.9v.9h-.9zM369.0 716.8h.9v.9h-.9zM361.3 721.1h.9v.9h-.9zM351.8 717.5h.9v.9h-.9zM352.0 715.3h.9v.9h-.9zM359.3 716.5h.9v.9h-.9zM353.4 714.5h.9v.9h-.9zM355.0 710.1h.9v.9h-.9zM358.1 722.4h.9v.9h-.9zM360.5 714.6h.9v.9h-.9zM365.5 717.6h.9v.9h-.9zM363.7 717.9h.9v.9h-.9zM358.9 705.9h.9v.9h-.9zM363.1 705.3h.9v.9h-.9zM357.2 716.3h.9v.9h-.9zM363.3 709.6h.9v.9h-.9zM348.0 716.3h.9v.9h-.9zM375.1 706.7h.9v.9h-.9zM362.4 718.6h.9v.9h-.9zM354.9 720.3h.9v.9h-.9zM353.1 717.4h.9v.9h-.9zM369.5 705.7h.9v.9h-.9zM373.9 714.2h.9v.9h-.9zM357.9 712.4h.9v.9h-.9zM376.0 706.4h.9v.9h-.9zM376.4 705.6h.9v.9h-.9zM363.8 720.8h.9v.9h-.9zM351.8 710.2h.9v.9h-.9zM372.9 713.3h.9v.9h-.9zM365.2 705.1h.9v.9h-.9zM354.0 722.5h.9v.9h-.9zM369.6 712.6h.9v.9h-.9zM369.0 706.8h.9v.9h-.9zM350.7 712.7h.9v.9h-.9zM367.4 716.6h.9v.9h-.9zM377.2 710.4h.9v.9h-.9zM354.7 721.6h.9v.9h-.9zM355.5 717.1h.9v.9h-.9zM358.5 713.1h.9v.9h-.9zM376.4 710.1h.9v.9h-.9zM374.9 711.9h.9v.9h-.9zM351.1 715.5h.9v.9h-.9zM355.1 718.9h.9v.9h-.9zM371.8 715.8h.9v.9h-.9zM361.7 718.8h.9v.9h-.9zM364.0 703.9h.9v.9h-.9zM349.4 716.6h.9v.9h-.9zM354.1 710.4h.9v.9h-.9zM363.0 705.7h.9v.9h-.9zM369.2 718.0h.9v.9h-.9zM371.4 713.2h.9v.9h-.9zM353.5 711.6h.9v.9h-.9zM367.0 716.4h.9v.9h-.9zM363.4 720.6h.9v.9h-.9zM357.5 719.4h.9v.9h-.9zM349.2 715.1h.9v.9h-.9zM362.2 719.1h.9v.9h-.9zM355.9 712.6h.9v.9h-.9zM368.1 711.0h.9v.9h-.9zM377.6 706.5h.9v.9h-.9zM365.6 707.7h.9v.9h-.9zM359.8 720.7h.9v.9h-.9zM358.9 714.7h.9v.9h-.9zM354.5 710.7h.9v.9h-.9zM356.4 721.1h.9v.9h-.9zM360.4 720.2h.9v.9h-.9zM371.3 713.6h.9v.9h-.9zM359.3 710.3h.9v.9h-.9zM366.4 706.0h.9v.9h-.9zM350.4 712.2h.9v.9h-.9zM367.9 709.3h.9v.9h-.9zM376.6 705.2h.9v.9h-.9zM363.8 709.5h.9v.9h-.9zM351.4 718.5h.9v.9h-.9zM372.2 703.6h.9v.9h-.9zM355.2 711.0h.9v.9h-.9zM368.7 710.7h.9v.9h-.9zM357.8 720.4h.9v.9h-.9zM354.9 707.7h.9v.9h-.9zM358.3 718.9h.9v.9h-.9zM368.7 709.4h.9v.9h-.9zM358.8 717.9h.9v.9h-.9zM357.7 710.3h.9v.9h-.9zM372.5 707.8h.9v.9h-.9zM376.9 710.3h.9v.9h-.9zM358.3 720.1h.9v.9h-.9z" fill="#bdbdbd"/><path d="M380.0 708.7h.9v.9h-.9zM353.9 713.7h.9v.9h-.9zM341.5 723.4h.9v.9h-.9zM348.3 712.7h.9v.9h-.9zM347.4 721.8h.9v.9h-.9zM343.4 717.6h.9v.9h-.9zM360.8 725.0h.9v.9h-.9zM369.4 714.3h.9v.9h-.9zM376.4 712.7h.9v.9h-.9zM341.2 718.9h.9v.9h-.9zM357.9 708.8h.9v.9h-.9zM379.0 707.0h.9v.9h-.9zM356.3 723.7h.9v.9h-.9zM353.2 709.1h.9v.9h-.9zM370.3 713.4h.9v.9h-.9zM363.5 702.8h.9v.9h-.9zM375.5 714.2h.9v.9h-.9zM373.6 706.6h.9v.9h-.9zM371.7 707.2h.9v.9h-.9zM346.7 717.3h.9v.9h-.9zM374.3 704.1h.9v.9h-.9zM350.2 714.1h.9v.9h-.9zM378.3 700.4h.9v.9h-.9zM374.1 711.2h.9v.9h-.9zM372.9 710.2h.9v.9h-.9zM346.3 715.8h.9v.9h-.9zM366.4 700.7h.9v.9h-.9zM378.4 720.3h.9v.9h-.9zM358.3 725.2h.9v.9h-.9zM368.6 720.0h.9v.9h-.9zM346.0 717.2h.9v.9h-.9zM354.8 707.2h.9v.9h-.9zM364.8 706.8h.9v.9h-.9zM373.1 709.0h.9v.9h-.9zM357.0 720.5h.9v.9h-.9zM372.4 719.1h.9v.9h-.9zM372.0 713.3h.9v.9h-.9zM377.9 712.7h.9v.9h-.9zM373.1 710.9h.9v.9h-.9zM383.6 703.5h.9v.9h-.9zM367.2 705.2h.9v.9h-.9zM376.8 702.7h.9v.9h-.9zM354.5 712.2h.9v.9h-.9zM361.4 706.2h.9v.9h-.9zM346.1 715.8h.9v.9h-.9zM369.6 701.3h.9v.9h-.9zM380.9 711.8h.9v.9h-.9zM373.1 721.1h.9v.9h-.9zM359.5 721.4h.9v.9h-.9zM346.1 713.8h.9v.9h-.9zM365.7 704.2h.9v.9h-.9zM367.2 697.4h.9v.9h-.9zM366.7 700.3h.9v.9h-.9zM341.8 719.1h.9v.9h-.9zM382.2 706.5h.9v.9h-.9zM349.8 719.5h.9v.9h-.9zM346.3 719.2h.9v.9h-.9zM353.7 706.2h.9v.9h-.9zM371.8 706.9h.9v.9h-.9zM349.7 708.1h.9v.9h-.9zM340.1 718.8h.9v.9h-.9zM365.7 723.0h.9v.9h-.9zM362.1 719.6h.9v.9h-.9zM354.3 704.6h.9v.9h-.9zM373.5 713.1h.9v.9h-.9zM363.2 699.3h.9v.9h-.9zM357.3 707.9h.9v.9h-.9zM353.0 716.8h.9v.9h-.9zM351.8 723.7h.9v.9h-.9zM379.0 710.6h.9v.9h-.9zM362.9 707.2h.9v.9h-.9zM344.7 720.0h.9v.9h-.9zM386.7 701.9h.9v.9h-.9zM364.0 723.1h.9v.9h-.9zM368.3 701.3h.9v.9h-.9zM376.2 715.1h.9v.9h-.9zM372.0 712.0h.9v.9h-.9zM377.6 704.7h.9v.9h-.9zM351.0 725.6h.9v.9h-.9zM358.5 704.2h.9v.9h-.9zM367.1 721.8h.9v.9h-.9zM368.6 720.4h.9v.9h-.9zM389.2 700.7h.9v.9h-.9zM378.2 711.9h.9v.9h-.9zM348.9 723.6h.9v.9h-.9zM376.3 708.4h.9v.9h-.9zM362.8 718.7h.9v.9h-.9zM370.3 707.5h.9v.9h-.9zM361.2 702.5h.9v.9h-.9zM346.4 714.0h.9v.9h-.9zM370.8 718.5h.9v.9h-.9zM353.4 717.5h.9v.9h-.9zM369.6 699.8h.9v.9h-.9zM378.5 702.7h.9v.9h-.9zM383.3 716.1h.9v.9h-.9zM349.1 711.2h.9v.9h-.9zM361.5 707.1h.9v.9h-.9zM350.6 716.9h.9v.9h-.9zM344.5 723.2h.9v.9h-.9zM373.4 713.0h.9v.9h-.9zM346.7 720.2h.9v.9h-.9zM357.0 724.0h.9v.9h-.9zM346.9 724.8h.9v.9h-.9zM378.8 711.9h.9v.9h-.9zM344.3 722.6h.9v.9h-.9zM376.6 712.9h.9v.9h-.9zM381.0 707.0h.9v.9h-.9zM330.7 721.0h.9v.9h-.9zM379.4 705.5h.9v.9h-.9zM376.1 703.2h.9v.9h-.9zM350.2 725.6h.9v.9h-.9zM376.6 700.8h.9v.9h-.9zM370.9 712.5h.9v.9h-.9zM386.8 710.1h.9v.9h-.9zM377.0 716.0h.9v.9h-.9zM374.9 702.4h.9v.9h-.9zM356.6 705.8h.9v.9h-.9zM343.2 722.3h.9v.9h-.9zM359.7 706.5h.9v.9h-.9zM360.8 722.9h.9v.9h-.9zM366.1 706.1h.9v.9h-.9zM352.9 718.6h.9v.9h-.9zM362.0 721.2h.9v.9h-.9zM376.3 709.2h.9v.9h-.9zM379.5 717.6h.9v.9h-.9zM369.9 720.4h.9v.9h-.9zM349.3 711.9h.9v.9h-.9zM350.1 709.7h.9v.9h-.9zM358.6 703.8h.9v.9h-.9zM363.4 719.7h.9v.9h-.9zM377.3 712.0h.9v.9h-.9zM338.4 721.3h.9v.9h-.9zM349.6 714.7h.9v.9h-.9zM376.2 705.4h.9v.9h-.9zM351.8 725.8h.9v.9h-.9zM366.0 720.8h.9v.9h-.9zM355.8 724.3h.9v.9h-.9zM377.7 712.5h.9v.9h-.9zM368.9 721.3h.9v.9h-.9zM378.6 703.6h.9v.9h-.9zM361.8 719.8h.9v.9h-.9zM381.5 706.0h.9v.9h-.9zM361.3 722.7h.9v.9h-.9zM378.4 716.6h.9v.9h-.9zM380.6 701.9h.9v.9h-.9zM353.1 723.9h.9v.9h-.9zM354.6 719.9h.9v.9h-.9zM360.7 706.9h.9v.9h-.9zM364.1 718.4h.9v.9h-.9z" fill="#8a8a8a"/></g>
<ellipse cx="338" cy="716" rx="10.799999999999999" ry="3.5999999999999996" fill="#d4d4d4" opacity="0.06" filter="url(#cb)" transform="rotate(-10 338 716)"/>
<g filter="url(#db)"><path d="M338.7 713.2h.9v.9h-.9zM335.5 716.5h.9v.9h-.9zM345.4 714.0h.9v.9h-.9zM336.4 718.4h.9v.9h-.9zM331.3 716.1h.9v.9h-.9zM336.3 718.3h.9v.9h-.9zM337.2 716.7h.9v.9h-.9zM335.3 718.1h.9v.9h-.9zM340.9 713.2h.9v.9h-.9zM336.9 716.0h.9v.9h-.9zM343.6 716.9h.9v.9h-.9zM345.4 713.9h.9v.9h-.9zM345.0 715.7h.9v.9h-.9zM332.0 715.5h.9v.9h-.9zM343.8 714.3h.9v.9h-.9zM344.4 714.8h.9v.9h-.9zM334.9 717.5h.9v.9h-.9zM342.5 713.3h.9v.9h-.9zM339.3 713.4h.9v.9h-.9zM337.3 715.0h.9v.9h-.9zM333.5 718.9h.9v.9h-.9zM342.8 716.9h.9v.9h-.9zM335.9 718.1h.9v.9h-.9zM334.4 717.6h.9v.9h-.9zM347.4 713.8h.9v.9h-.9zM338.8 715.2h.9v.9h-.9zM342.3 713.5h.9v.9h-.9zM343.1 714.2h.9v.9h-.9zM345.4 715.2h.9v.9h-.9zM335.2 718.8h.9v.9h-.9zM332.8 716.7h.9v.9h-.9zM333.2 719.3h.9v.9h-.9zM339.3 714.8h.9v.9h-.9zM333.5 718.2h.9v.9h-.9zM342.6 712.9h.9v.9h-.9z" fill="#ececec"/><path d="M327.3 719.5h.9v.9h-.9zM328.9 721.7h.9v.9h-.9zM329.8 717.5h.9v.9h-.9zM338.7 713.9h.9v.9h-.9zM348.8 718.1h.9v.9h-.9zM333.7 719.9h.9v.9h-.9zM330.4 715.0h.9v.9h-.9zM333.5 713.0h.9v.9h-.9zM338.2 713.3h.9v.9h-.9zM339.9 711.9h.9v.9h-.9zM340.4 719.3h.9v.9h-.9zM335.6 719.5h.9v.9h-.9zM328.3 718.3h.9v.9h-.9zM351.6 716.5h.9v.9h-.9zM344.5 712.2h.9v.9h-.9zM343.3 714.1h.9v.9h-.9zM346.5 715.0h.9v.9h-.9zM349.2 713.1h.9v.9h-.9zM337.6 719.5h.9v.9h-.9zM327.0 721.2h.9v.9h-.9zM338.4 711.9h.9v.9h-.9zM325.4 720.8h.9v.9h-.9zM350.8 712.2h.9v.9h-.9zM331.8 714.7h.9v.9h-.9zM352.2 713.5h.9v.9h-.9zM345.2 711.9h.9v.9h-.9zM328.8 722.2h.9v.9h-.9zM342.6 720.8h.9v.9h-.9zM331.0 714.6h.9v.9h-.9zM344.5 711.1h.9v.9h-.9zM340.7 714.2h.9v.9h-.9zM342.8 710.0h.9v.9h-.9zM342.6 712.1h.9v.9h-.9zM326.9 719.1h.9v.9h-.9zM330.9 721.0h.9v.9h-.9zM334.8 719.7h.9v.9h-.9zM327.9 721.2h.9v.9h-.9zM333.6 720.4h.9v.9h-.9zM344.5 720.0h.9v.9h-.9zM348.1 718.4h.9v.9h-.9z" fill="#bdbdbd"/><path d="M332.3 709.5h.9v.9h-.9zM320.7 716.2h.9v.9h-.9zM339.9 712.2h.9v.9h-.9zM319.9 720.6h.9v.9h-.9zM314.5 722.9h.9v.9h-.9zM314.9 719.8h.9v.9h-.9zM338.2 712.0h.9v.9h-.9zM316.3 718.6h.9v.9h-.9zM317.7 720.5h.9v.9h-.9zM353.9 715.9h.9v.9h-.9zM337.2 711.5h.9v.9h-.9zM328.3 718.5h.9v.9h-.9zM347.9 714.7h.9v.9h-.9zM332.0 711.2h.9v.9h-.9zM346.8 711.3h.9v.9h-.9zM354.8 710.6h.9v.9h-.9zM321.4 720.5h.9v.9h-.9zM350.4 708.8h.9v.9h-.9zM345.5 709.3h.9v.9h-.9zM344.8 708.1h.9v.9h-.9zM345.8 721.1h.9v.9h-.9zM358.0 710.8h.9v.9h-.9zM323.7 712.1h.9v.9h-.9zM355.1 715.3h.9v.9h-.9zM323.9 720.6h.9v.9h-.9zM344.4 720.7h.9v.9h-.9zM356.0 714.6h.9v.9h-.9zM336.4 708.9h.9v.9h-.9zM325.3 717.3h.9v.9h-.9zM338.8 719.6h.9v.9h-.9zM342.8 724.3h.9v.9h-.9zM329.5 722.6h.9v.9h-.9zM333.8 720.6h.9v.9h-.9z" fill="#8a8a8a"/></g>
<line x1="368" y1="653.8" x2="368" y2="727.3" stroke="#8a8a8a" stroke-width="0.9"/>
<line x1="314" y1="699.7" x2="396.5" y2="699.7" stroke="#8a8a8a" stroke-width="0.9"/>
<text x="356.6" y="692.1999999999999" font-size="4.8" fill="#c4c4c4" class="q" text-anchor="middle" font-family="Liberation Sans, sans-serif">Q1</text>
<text x="378.4" y="692.1999999999999" font-size="4.8" fill="#c4c4c4" class="q" text-anchor="middle" font-family="Liberation Sans, sans-serif">Q2</text>
<text x="357" y="711.9" font-size="4.8" fill="#c4c4c4" class="q" text-anchor="middle" font-family="Liberation Sans, sans-serif">Q3</text>
<text x="376.3" y="709.9" font-size="4.8" fill="#c4c4c4" class="q" text-anchor="middle" font-family="Liberation Sans, sans-serif">Q4</text>
<text x="396.0" y="726.3" font-size="11" text-anchor="end" font-family="Liberation Serif, serif" class="w" font-weight="bold" fill="#fff" letter-spacing="-0.35">15.2%</text>
<path d="M311.4 726.30h2.6M311.4 720.92h2.6M311.4 717.77h2.6M311.4 715.54h2.6M311.4 713.81h2.6M311.4 712.39h2.6M311.4 711.19h2.6M311.4 710.16h2.6M311.4 709.24h2.6M311.4 708.42h2.6M311.4 703.04h2.6M311.4 699.90h2.6M311.4 697.66h2.6M311.4 695.93h2.6M311.4 694.52h2.6M311.4 693.32h2.6M311.4 692.28h2.6M311.4 691.37h2.6M311.4 690.55h2.6M311.4 685.17h2.6M311.4 682.02h2.6M311.4 679.79h2.6M311.4 678.06h2.6M311.4 676.64h2.6M311.4 675.44h2.6M311.4 674.41h2.6M311.4 673.49h2.6M311.4 672.67h2.6M311.4 667.29h2.6M311.4 664.15h2.6M311.4 661.91h2.6M311.4 660.18h2.6M311.4 658.77h2.6M311.4 657.57h2.6M311.4 656.53h2.6M311.4 655.62h2.6M311.4 654.80h2.6" stroke="#555" stroke-width="0.6"/>
<path d="M315.00 727.3v2.8M321.06 727.3v2.8M324.60 727.3v2.8M327.12 727.3v2.8M329.07 727.3v2.8M330.66 727.3v2.8M332.01 727.3v2.8M333.17 727.3v2.8M334.20 727.3v2.8M335.12 727.3v2.8M341.18 727.3v2.8M344.73 727.3v2.8M347.24 727.3v2.8M349.19 727.3v2.8M350.79 727.3v2.8M352.13 727.3v2.8M353.30 727.3v2.8M354.33 727.3v2.8M355.25 727.3v2.8M361.31 727.3v2.8M364.85 727.3v2.8M367.37 727.3v2.8M369.32 727.3v2.8M370.91 727.3v2.8M372.26 727.3v2.8M373.42 727.3v2.8M374.45 727.3v2.8M375.38 727.3v2.8M381.43 727.3v2.8M384.98 727.3v2.8M387.49 727.3v2.8M389.44 727.3v2.8M391.04 727.3v2.8M392.38 727.3v2.8M393.55 727.3v2.8M394.58 727.3v2.8M395.50 727.3v2.8" stroke="#555" stroke-width="0.6"/>
<text x="356.7" y="651.8" font-size="9" text-anchor="middle" font-family="Liberation Serif, serif" class="b"><tspan font-style="italic">SET</tspan> siRNA exon 5</text>
<text class="b" transform="translate(305.5,689.55) rotate(-90)" font-size="9" text-anchor="middle" font-family="Liberation Serif, serif">side scatter</text>
<text x="354" y="741.3" font-size="9" text-anchor="middle" font-family="Liberation Serif, serif" class="b">mCD3</text>
</svg>
</body></html>
